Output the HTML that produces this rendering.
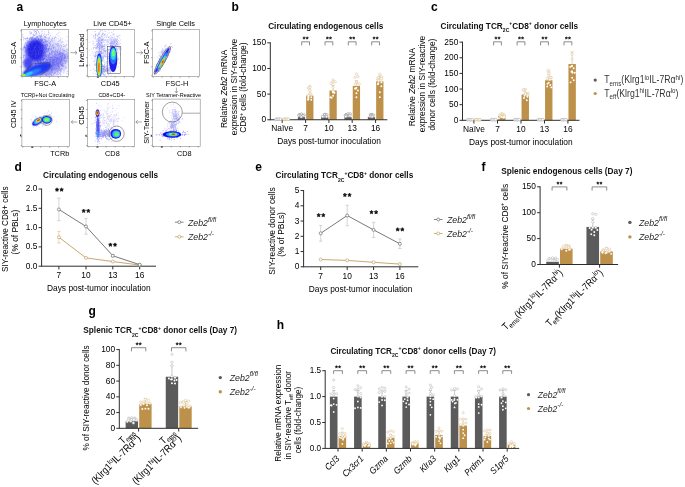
<!DOCTYPE html>
<html><head><meta charset="utf-8"><style>
html,body{margin:0;padding:0;background:#fff;}
svg{display:block;font-family:"Liberation Sans",sans-serif;will-change:transform;filter:blur(0.25px);}
</style></head><body>
<svg width="685" height="487" viewBox="0 0 685 487">
<defs><filter id="b1" x="-50%" y="-50%" width="200%" height="200%"><feGaussianBlur stdDeviation="1"/></filter><filter id="b2" x="-50%" y="-50%" width="200%" height="200%"><feGaussianBlur stdDeviation="2"/></filter><filter id="b05" x="-50%" y="-50%" width="200%" height="200%"><feGaussianBlur stdDeviation="0.5"/></filter><filter id="b3" x="-50%" y="-50%" width="200%" height="200%"><feGaussianBlur stdDeviation="3"/></filter><clipPath id="c1"><rect x="21.5" y="29.5" width="47" height="47.1"/></clipPath><clipPath id="c2"><rect x="87.4" y="29.4" width="47.1" height="47.1"/></clipPath><clipPath id="c3"><rect x="152.3" y="29.4" width="47.2" height="47.2"/></clipPath><clipPath id="c4"><rect x="21.9" y="99.3" width="47.7" height="47.2"/></clipPath><clipPath id="c5"><rect x="87.3" y="99.3" width="47.4" height="47"/></clipPath><clipPath id="c6"><rect x="152.5" y="99.1" width="47.7" height="47.2"/></clipPath></defs>
<rect width="685" height="487" fill="#fff"/>
<text font-size="12" font-weight="bold" fill="#000" transform="translate(16.4 10.9) scale(1 1)">a</text>
<g clip-path="url(#c1)">
<ellipse cx="45" cy="58" rx="22" ry="20" fill="#a0a0f4" filter="url(#b3)" opacity="0.4"/>
<ellipse cx="53" cy="64" rx="17" ry="7" fill="#6a6af0" transform="rotate(-35 53 64)" filter="url(#b3)" opacity="0.55"/>
<path d="M37.76,62.15h0.7M59.95,52.35h0.7M36.71,57.28h0.7M54.78,70.08h0.7M37.84,43.78h0.7M57.06,63.21h0.7M65.34,68.81h0.7M48.98,54.98h0.7M42.15,45.48h0.7M50.95,59.6h0.7M46.55,57.32h0.7M52.73,65.62h0.7M60.97,60.31h0.7M32.1,65.72h0.7M35.8,56.11h0.7M35.26,58.02h0.7M42.21,60.35h0.7M58.42,43.44h0.7M47.12,65.29h0.7M49.07,62.07h0.7M51.03,46.93h0.7M55.64,49.07h0.7M56.86,58.03h0.7M59.52,51.38h0.7M59.99,56.64h0.7M62.63,64.87h0.7M51.41,49.42h0.7M57.68,63.15h0.7M66.42,53.85h0.7M55.55,63.59h0.7M52.83,60.29h0.7M51.82,51.42h0.7M39.86,53.64h0.7M55.91,74.62h0.7M59.77,69.59h0.7M57.77,65.68h0.7M51.83,66.49h0.7M52.45,68.68h0.7M58.74,45.51h0.7M51.77,66.28h0.7M51.27,48.27h0.7M48.88,62.11h0.7M61.16,65.8h0.7M50.6,72.9h0.7M42.39,66.72h0.7M61.12,54.79h0.7M32.09,48.03h0.7M52.37,63.81h0.7M65.48,46.95h0.7M50.02,65.14h0.7M48.42,31.93h0.7M60.04,47.91h0.7M45.88,60.44h0.7M51.14,75.13h0.7M43.15,52.78h0.7M57.21,73.67h0.7M56.54,61.32h0.7M31.78,50.16h0.7M43.89,52.13h0.7M55.86,54.31h0.7M57.88,58.91h0.7M46.67,59.3h0.7M54.29,67.44h0.7M45.22,55.44h0.7M36.36,75.64h0.7M64.52,56.03h0.7M45.22,44.41h0.7M51.7,60.27h0.7M42.22,31.11h0.7M64.09,60.08h0.7M33.91,59.98h0.7M61.19,64.3h0.7M48.25,34.46h0.7M48.74,40.9h0.7M55.96,34.47h0.7M40.92,71.42h0.7M66.44,45.01h0.7M34.66,67.67h0.7M58.53,47.15h0.7M43.06,50.37h0.7M38.11,50.52h0.7M62.51,65.59h0.7M48.65,47.19h0.7M48.76,43.56h0.7M32.23,65.67h0.7M64.4,67.21h0.7M63.32,60.78h0.7M42.82,58.95h0.7M46.26,45.77h0.7M33.08,41.69h0.7M49.94,59.66h0.7M45.25,73.72h0.7M51.79,64.41h0.7M62.19,48.98h0.7M30.3,66.28h0.7M43.12,72.42h0.7M53.38,69.07h0.7M57.64,35.11h0.7M57.19,50.6h0.7M42.44,53.21h0.7M57.68,67.73h0.7M60.11,39.74h0.7M44.09,31.87h0.7M48.98,64.6h0.7M42.36,60.69h0.7M52.31,69.08h0.7M41.79,48.88h0.7M60.91,56.64h0.7M52.26,59.26h0.7M52.03,55.7h0.7M46.66,44.18h0.7M55.37,58.71h0.7M47.85,58.69h0.7M53.53,50.89h0.7M51.96,60.64h0.7M42.51,49.32h0.7M40.01,46.3h0.7M58.9,32.04h0.7M47.33,51.28h0.7M43.8,59.07h0.7M61.28,58.84h0.7M48.6,51.26h0.7M48.71,68.03h0.7M46.06,45.39h0.7M37.36,45.83h0.7M36.1,70.09h0.7M53.55,55.39h0.7M64.6,50.76h0.7M57.53,66.81h0.7M34.54,40.87h0.7M40.72,67.97h0.7M62.96,44.5h0.7M60.49,53.79h0.7M46.07,51.94h0.7M46.76,38h0.7M39.99,44.41h0.7M32.79,53.52h0.7M55.71,49.98h0.7M59.36,63.89h0.7M33.75,52.15h0.7M47.61,58.21h0.7M51.32,54.27h0.7M51.9,51.55h0.7M41.03,74.67h0.7M53.6,62.82h0.7M34.05,56.17h0.7M58.19,43.8h0.7M60.98,53.72h0.7M54.03,56.53h0.7M52.18,71.24h0.7M45.97,75.21h0.7M42.18,47.75h0.7M57.11,46.27h0.7M46.3,67.98h0.7M62.1,38.48h0.7M61.95,55.36h0.7M43.99,54.74h0.7M38.47,55.09h0.7M48.13,56.4h0.7M61.83,55.47h0.7M35.42,69.56h0.7M39.27,53.08h0.7M48.66,54.21h0.7M39.97,55.26h0.7M48.64,70.36h0.7M57.45,66.4h0.7M58.62,36.35h0.7M41.36,59.41h0.7M54.99,72.24h0.7M54.7,55.38h0.7M50.39,55.68h0.7M52.47,65.42h0.7M46.6,49.05h0.7M41.45,70.07h0.7M62.81,68.91h0.7M58.57,67.17h0.7M49.98,65.3h0.7M39.48,55.77h0.7M42.66,66h0.7M44.2,56.81h0.7M54,72.9h0.7M42.08,47.67h0.7M58.17,45.83h0.7M54.52,51.73h0.7M48.94,37.97h0.7M57.13,52.5h0.7M54.08,54.17h0.7M51.08,75.68h0.7M49.73,62.96h0.7M55.17,47.99h0.7M51.29,52.47h0.7M37.55,67.59h0.7M56.66,58.82h0.7M40.93,35.94h0.7M54.85,56.92h0.7M33.16,57.34h0.7M34.79,57.71h0.7M51.43,61.9h0.7M52.17,59.88h0.7M38.6,53.78h0.7M44.89,55.41h0.7M52.7,64.81h0.7M54.01,55.82h0.7M33.47,62.42h0.7M44.79,68.93h0.7M39.44,56.88h0.7M48.68,56.94h0.7M44.16,37.78h0.7M54.6,68.99h0.7M49.32,46.81h0.7M52.03,64.22h0.7M48.24,57.85h0.7M64.09,45.69h0.7M44.42,37.04h0.7M43,49.86h0.7M40.4,50.37h0.7M49.39,38.93h0.7M54.03,47.69h0.7M66.39,44.3h0.7M44.2,40.34h0.7M50.97,46.83h0.7M49.35,53.85h0.7M43.87,68.38h0.7M59.35,58.69h0.7M41,46.22h0.7M45.43,49.37h0.7M43.03,45.95h0.7M40.28,55.74h0.7M64.34,57.99h0.7M44.89,40.24h0.7M52.13,57.71h0.7M37.74,46.05h0.7M49.58,69.14h0.7M56.27,60.26h0.7M46.77,61.53h0.7M38.68,53.95h0.7M62.68,55.08h0.7M64.25,57.52h0.7M51.45,53.92h0.7M36.2,47.32h0.7M56.06,68.49h0.7M55.69,69.24h0.7M47.34,55.54h0.7M59.84,54.13h0.7M36.69,55.52h0.7M44.55,64.75h0.7M42.8,46.33h0.7M46.68,75.08h0.7M49.52,59.77h0.7M50.09,61.25h0.7M59.28,73.35h0.7M33.56,72.97h0.7M49.97,54.47h0.7M39.7,63.37h0.7M57.37,56.62h0.7M26.72,54.21h0.7M48.08,45.82h0.7M46.07,54.7h0.7M42.16,49.46h0.7M50.94,61.45h0.7M44.93,57h0.7M36.1,63.74h0.7M42.5,60.36h0.7M40.93,52.33h0.7M52.15,44.68h0.7M49.27,49.92h0.7M65.95,73.25h0.7M53,42.95h0.7M44.96,64.77h0.7M44.88,44.97h0.7M38.12,49.52h0.7M50.14,50.86h0.7M53.43,58.96h0.7M48.62,69.48h0.7M46.68,54.42h0.7M46.25,56.9h0.7M62.86,66.54h0.7M36.59,53.14h0.7M42.02,66.98h0.7M52.25,67.79h0.7M49.38,37h0.7M54.51,60.5h0.7M55.08,43.67h0.7M50.81,50.44h0.7M43.13,61.89h0.7M53.53,48.18h0.7M32.88,30.78h0.7M44.25,70.35h0.7M49.45,33.23h0.7M41.37,62.64h0.7M66.73,70.85h0.7M53.67,60.17h0.7M39.41,53.03h0.7M46.67,49.49h0.7M50.63,53.68h0.7M53.37,73.77h0.7M57.41,62.6h0.7M47.59,41.28h0.7M48.86,63.98h0.7M39.92,71.79h0.7M46.66,62.09h0.7M46.71,44.19h0.7M59.18,51.89h0.7M52.79,49.14h0.7M45.84,68.12h0.7M50.1,68.42h0.7M43.69,65.82h0.7M42.15,64.64h0.7M54.37,71.33h0.7M53.64,44.88h0.7M56.64,45.88h0.7M57.51,74.62h0.7M55.96,51.91h0.7M61.92,59.84h0.7M37.55,54.1h0.7M64.19,54.66h0.7M51.22,54.23h0.7M33.14,52.38h0.7M53.57,60.29h0.7M48.26,34.52h0.7M62.22,65.92h0.7M60.24,72.31h0.7M45.55,51.35h0.7M33.14,55.47h0.7M42.85,64.15h0.7M64.64,54.75h0.7M37.59,58.54h0.7M47.15,41.02h0.7M58.85,52.24h0.7M56.83,43.53h0.7M60.96,42.15h0.7M60.53,38.08h0.7M63.8,53.88h0.7M34.44,55.42h0.7M53.37,47.1h0.7M45.07,60.96h0.7M45.7,62.7h0.7M52.98,69.1h0.7M58,61.43h0.7M60.85,68.5h0.7M51.02,51.17h0.7M60.24,62.65h0.7M31.08,45.85h0.7M54.67,59.2h0.7M52.8,65.06h0.7M51.46,75.41h0.7M44.1,53.61h0.7M53.23,66.2h0.7M57.88,74.36h0.7M45.23,70.84h0.7M54.68,46.53h0.7M57.85,52.84h0.7M26.01,49.91h0.7M42.97,58.85h0.7M53.13,47.72h0.7M38.14,55.72h0.7M45.96,51.23h0.7M61.29,58.85h0.7M37.65,72.18h0.7M46.88,43.38h0.7M53.21,63.37h0.7M46.62,65.67h0.7M58.21,48.3h0.7M29.43,31.68h0.7M48.72,71.53h0.7M60.03,73.31h0.7M60.56,41.18h0.7M56.89,62.32h0.7M49.06,53.14h0.7M38.84,59.54h0.7M62.78,53.96h0.7M55.31,50.69h0.7M52.54,46.92h0.7M53.78,55.6h0.7M53.15,51.33h0.7M38.24,54.38h0.7M60.37,75.37h0.7M46.75,66.79h0.7M57.59,62.32h0.7M34.49,61.56h0.7M40.3,70.94h0.7M57.88,64.79h0.7M24.64,64.83h0.7M57,43.94h0.7M59.7,58.83h0.7M48.17,50.15h0.7M39.82,53.23h0.7M52.08,50.87h0.7M43.82,51.93h0.7M41.14,67.63h0.7M47.29,67.53h0.7M38.45,68.22h0.7M49.73,65.34h0.7M48.96,48.23h0.7M62.1,53.21h0.7M48.53,48.26h0.7M52.04,53.71h0.7M52.82,61.79h0.7M43.11,42.48h0.7M54.33,68.09h0.7M56.96,45.4h0.7M56.05,62.23h0.7M52.84,62.72h0.7M46.76,60.36h0.7M59.27,52.45h0.7M35.6,56.85h0.7M51.96,37.71h0.7M43.23,64.48h0.7M48.5,59.02h0.7M37.41,67.97h0.7M67.54,55.8h0.7M42.68,45.27h0.7M58.91,59.15h0.7M42.06,71.35h0.7M57.65,64.63h0.7M32.4,56.86h0.7M56.26,44.53h0.7M59.29,73.74h0.7M60.34,50.06h0.7M42.92,68.36h0.7M59.94,71.52h0.7M62.01,56.9h0.7M45.9,37.59h0.7M45.37,52.77h0.7M56.49,62.12h0.7M36.3,50.14h0.7M42.83,67.39h0.7M37.65,54.2h0.7M42.72,54.81h0.7M55.58,44.4h0.7M63.39,72.3h0.7M50.75,72.34h0.7M53.11,51.84h0.7M46.2,56.7h0.7M56.17,59.39h0.7M45.33,50.09h0.7M42.23,42.16h0.7M40.15,67.97h0.7M50.6,56.12h0.7M53.5,69.74h0.7M56.16,66.51h0.7M44.4,55.13h0.7M42.24,56.93h0.7M41.82,53.9h0.7M48.25,55.62h0.7M47.34,52.59h0.7M63.1,54.24h0.7M39.89,60.13h0.7M39.11,46.2h0.7M50.84,39.66h0.7M60.35,39.62h0.7M41.03,64.35h0.7M30.13,48.38h0.7M37.96,55.82h0.7M30.27,67.84h0.7M48.56,61.33h0.7M46.72,34.66h0.7M48.48,43.25h0.7M50.1,48.62h0.7M46.83,55.68h0.7M57.72,66.44h0.7M39.95,57.82h0.7M64.59,63.44h0.7M42.71,56.67h0.7M46.52,68.35h0.7M50.33,62.13h0.7M39.86,38.95h0.7M34.07,67.43h0.7M30.26,48.31h0.7M64.44,69.32h0.7M58.85,67.59h0.7M50.32,57.89h0.7M50.32,67.27h0.7M48.37,61.53h0.7M64.53,45.62h0.7M42.5,64.21h0.7M47.37,56.27h0.7M45.82,70.08h0.7M43.3,59.28h0.7M55.26,53.62h0.7M54.91,49.24h0.7M43.95,59.16h0.7M54.2,72.86h0.7M54.5,59.61h0.7M48.69,48.58h0.7M66.35,44.98h0.7M48.76,52.24h0.7M42.15,33.55h0.7M46.18,59.51h0.7M51.43,67.29h0.7M48.38,50.95h0.7M53.08,65.31h0.7M40.96,41.29h0.7M39.75,69.63h0.7M59.98,48.25h0.7M51.11,67.23h0.7M63.29,50.75h0.7M47.6,73.5h0.7M38.59,62.94h0.7M47.01,57.36h0.7M43.37,52.72h0.7M57,62.69h0.7M50.27,49.74h0.7M47.71,71.63h0.7M52.61,57.78h0.7M33.82,62.38h0.7M32.76,74.78h0.7M43.7,58h0.7M36.49,52.54h0.7M40.69,70.44h0.7M52.48,45.02h0.7M30.69,57.25h0.7M45.13,45.78h0.7M55.9,55.96h0.7M51.11,51.5h0.7M44.3,52.94h0.7M33.97,64.93h0.7M54.03,39.04h0.7M51.02,70.7h0.7M52.37,72.25h0.7M47.32,58.02h0.7M37,48.04h0.7M31.77,48.15h0.7M52.44,63.71h0.7M61.63,59.44h0.7M40.1,62.74h0.7M38.64,52.22h0.7M51.91,50.17h0.7M55.24,65.55h0.7M58.38,60.51h0.7M41.16,48.73h0.7M48.77,72.6h0.7M65.74,68.76h0.7M53.63,65.43h0.7M58.22,72.22h0.7M58.56,41.11h0.7M59.53,62.24h0.7M45.4,63.78h0.7M52.88,57.41h0.7M33.11,59.22h0.7M55.57,57.47h0.7M34.12,63.04h0.7M57.2,59.99h0.7M54.26,54.13h0.7M43.42,63.77h0.7M46.45,60.01h0.7M51.36,40.16h0.7M50.96,66.34h0.7M42.95,55.38h0.7M27.46,64.11h0.7M44.05,65.52h0.7M63.64,56.22h0.7M59.84,60.76h0.7M47.96,54.91h0.7M41.49,72.12h0.7M58.8,46.94h0.7M58.42,49.97h0.7M34.95,71.19h0.7M37.2,71.03h0.7M51.99,67.92h0.7M55.12,70.7h0.7M53.48,64.36h0.7M52.49,70.05h0.7M46.09,69.17h0.7M65.07,57.3h0.7M54.4,52.35h0.7M47.12,60.87h0.7M46.58,48.26h0.7M49.7,60.1h0.7M53.23,65.81h0.7M32.26,73.54h0.7M48.28,49.51h0.7M46.29,62.87h0.7M58.7,53.97h0.7M51.58,40.45h0.7M51.69,56.77h0.7M45.69,67.74h0.7M42.18,74.81h0.7M46.66,57.55h0.7M44.2,63.02h0.7M55.53,59.6h0.7M47.9,56.42h0.7M45.99,68.68h0.7M44.8,56.38h0.7M47.91,49.77h0.7M47.73,41.9h0.7M54.08,63.95h0.7M47.01,75.06h0.7M41.81,64.09h0.7M54.77,52.13h0.7M47.6,67.77h0.7M50.62,61.1h0.7M63.94,60.38h0.7M33.35,49.95h0.7M58.32,56.59h0.7M39.26,36.35h0.7M53.22,74.44h0.7M37.53,34.27h0.7M54.95,52.08h0.7M47.08,54.47h0.7M41.03,62.82h0.7M59.14,61.99h0.7M44.47,69.37h0.7M48.91,64.35h0.7M40.71,65.19h0.7M57.39,72.1h0.7M50.28,62.85h0.7M44.29,67.66h0.7M57.72,69.81h0.7M46.18,44.68h0.7M49.34,55.74h0.7M42.61,64.6h0.7M59.39,62.31h0.7M61.02,62.33h0.7M40.35,51.64h0.7M46.51,65.48h0.7M59.13,59.5h0.7M60.04,49.07h0.7M48.89,74.29h0.7M54.4,69.39h0.7M31.37,39.87h0.7M41.48,68.95h0.7M66.07,51.31h0.7M40.3,47.01h0.7M41.22,64.05h0.7M57.14,50.6h0.7M52.35,56.35h0.7M57.82,67.86h0.7M46.6,67.7h0.7M55.64,57.1h0.7M52.55,65.41h0.7M46.89,50.72h0.7M62.53,58.08h0.7M44.19,63.03h0.7M35.52,58.64h0.7M36.64,53.42h0.7M32.5,50.27h0.7M58.84,56.07h0.7M43.85,74.09h0.7M44.88,42.22h0.7M57.51,70.92h0.7M37.14,58.83h0.7M44.4,64.6h0.7M49.92,44.41h0.7M50.62,66.3h0.7M47.16,64.13h0.7M44.83,57.51h0.7M53.48,59.61h0.7M62.51,68.29h0.7M58.32,65.85h0.7M51.59,45.53h0.7M52.27,55.34h0.7M49.71,71.09h0.7M52.87,47.49h0.7M48.38,49.81h0.7M48.1,48.44h0.7M41.52,74.05h0.7M60.33,40.75h0.7M40.48,53.27h0.7M46.27,43.19h0.7M58.76,40.73h0.7M56.87,65.58h0.7M46.48,51.03h0.7M50.66,59.68h0.7M29.56,44.6h0.7M55.27,56.91h0.7M46.02,47.4h0.7M43.19,49.87h0.7M65.07,63.24h0.7M52.17,60.19h0.7M46.36,75.38h0.7M55.06,57.78h0.7M48.88,60.23h0.7M38.92,54.66h0.7M43.98,64.76h0.7M55.96,38.04h0.7M47.9,68.72h0.7M37.42,45.37h0.7M59.86,56.7h0.7M45.67,45.02h0.7M51.75,52.1h0.7M52.16,62.67h0.7M56.96,54.61h0.7M44.95,58.41h0.7M49.12,59.94h0.7M44.9,55.53h0.7M44.35,51.76h0.7M51.61,70.5h0.7M44.84,64.37h0.7M53.46,59.27h0.7M56.72,52.09h0.7M55.59,61.3h0.7M39.7,59.12h0.7M53.52,47.66h0.7M61.83,62.93h0.7M42.29,45.19h0.7M32.25,65.28h0.7M49.03,51.24h0.7M56,59.12h0.7M52.89,60.94h0.7M39.42,72.26h0.7M45.58,70.29h0.7M56.85,58.5h0.7M51.44,57.59h0.7M32.04,54.58h0.7M54.28,40.69h0.7M35.46,69.73h0.7M58.01,41.4h0.7M54.59,57.55h0.7M59.66,54.58h0.7M47.89,49.97h0.7M51.84,56.71h0.7M43.64,54.33h0.7M42.66,64.81h0.7M39.93,41.26h0.7M40.59,69.78h0.7M45.08,65.07h0.7M57.29,52.56h0.7M57.5,63.54h0.7M49.64,50.43h0.7M49.46,44.18h0.7M47.35,51.78h0.7M54.37,61.77h0.7M43.74,67.43h0.7M61.8,58.77h0.7M42.77,63.53h0.7M26,51.73h0.7M42.78,74.63h0.7M26.79,69.99h0.7M51.94,69.06h0.7M48.29,51.38h0.7M47.8,74.36h0.7M58.35,54.87h0.7M53.82,67.45h0.7M55.65,57.59h0.7M43.54,49.97h0.7M45.73,52.03h0.7M34.43,42.65h0.7M58.72,45.85h0.7M37.05,57.57h0.7M64.37,71.78h0.7M45.94,46.77h0.7M44.72,48.11h0.7M44.59,63.27h0.7M39.48,49.52h0.7M47.45,57.73h0.7M42.42,49.41h0.7M38.81,49.82h0.7M55.22,55.37h0.7M49.35,48.5h0.7M33.58,70.76h0.7M42.71,58.45h0.7M57.77,44.57h0.7M67.38,50.11h0.7M53.53,45.42h0.7M53.66,57.84h0.7M60.8,45.36h0.7M38.11,61.88h0.7M54.39,52.57h0.7M47.34,73.53h0.7M61.39,64.24h0.7M52.69,45.57h0.7M60.52,43.08h0.7M29.3,50.72h0.7M51.66,51.96h0.7M46.94,61.78h0.7M58.97,60.32h0.7M62.52,42.35h0.7M54.69,62.69h0.7M35.12,71.78h0.7M34.03,42.1h0.7M53.78,72.93h0.7M61.52,45.58h0.7M54.85,73.45h0.7M48.4,58.82h0.7M45.36,66.1h0.7M44.46,51.53h0.7M37.71,47.78h0.7M52.21,63.22h0.7M46.12,46.43h0.7M53.42,61.96h0.7M62.79,52.53h0.7M45.87,63.67h0.7M65.33,57.45h0.7M49.18,47.64h0.7M46.21,68.47h0.7M58.57,70.35h0.7M33.51,67.28h0.7M40.71,64.58h0.7M26.18,56.93h0.7M41.12,72.11h0.7M51.23,72.41h0.7M45.1,47.14h0.7M59.06,53.59h0.7M49.43,43.1h0.7M46.55,59.28h0.7M42.9,62.35h0.7M26.83,67.92h0.7M45.89,74.34h0.7M46.48,50.73h0.7M45.48,61.09h0.7M56.03,52.88h0.7M41.97,62.81h0.7M58.35,38.63h0.7M39.42,50.54h0.7M67.28,71.7h0.7M58.08,63.51h0.7M38.71,70.5h0.7M45.54,49.18h0.7M64.01,60.27h0.7M40.7,60.01h0.7M41.5,60.1h0.7M43.49,44.81h0.7M60.02,57.49h0.7M56.87,43.97h0.7M60.18,62.98h0.7M38.11,67.34h0.7M52.42,68.23h0.7M56.24,66.62h0.7M49.79,53.41h0.7M57.22,71.79h0.7M38.21,45.36h0.7M47.93,39.11h0.7M58.21,66.45h0.7M59.19,59.55h0.7M37.96,54.96h0.7M63.51,70.49h0.7M46.21,70.41h0.7M59.18,68.05h0.7M52.95,61.44h0.7M41.68,57.3h0.7M51.29,49.84h0.7M47.14,59.89h0.7M52.21,69.81h0.7M39.64,53.64h0.7M52.78,53.84h0.7M53.41,52.84h0.7M61.99,55.51h0.7M38.55,66.4h0.7M66.89,36.61h0.7M48.74,58.84h0.7M60.5,74.72h0.7M48.46,40.71h0.7M56.82,69.27h0.7M54.76,58.95h0.7M37.92,41.3h0.7M59.94,61.26h0.7M56.85,62.04h0.7M67.11,73.92h0.7M44.5,69.22h0.7M38.16,39.09h0.7M62.23,53.3h0.7M28.36,57.86h0.7M43.35,63.71h0.7M49.48,49.52h0.7M42.85,66.6h0.7M40.68,59.5h0.7" stroke="#5a5af0" stroke-width="0.7" opacity="0.5"/>
<path d="M58.65,68.71h0.7M43.48,59.2h0.7M59.24,63.09h0.7M60.16,61.87h0.7M53.06,60.15h0.7M49.04,65.35h0.7M55.52,67.87h0.7M57.52,53.11h0.7M61.76,57.71h0.7M55.61,51.29h0.7M57.04,51.62h0.7M67.23,50.04h0.7M59.91,70.44h0.7M41.71,72.16h0.7M45.82,65.89h0.7M51.58,69.27h0.7M54.72,65h0.7M56.56,51.01h0.7M67.11,52.68h0.7M40.58,68.71h0.7M66.38,60.91h0.7M50.83,66.24h0.7M61.26,64.72h0.7M57.99,66.67h0.7M46.75,64.01h0.7M63.92,60.95h0.7M57.64,64.61h0.7M60.25,63.8h0.7M67.5,57.18h0.7M61.98,55.37h0.7M44.76,55.25h0.7M59.79,59.55h0.7M55.26,50.89h0.7M50.6,62.32h0.7M62.76,49.35h0.7M65.05,66.41h0.7M49.04,73.04h0.7M41.78,65.34h0.7M61.56,65.62h0.7M43.56,66.04h0.7M50.2,72.98h0.7M53.29,67.48h0.7M65.1,62.88h0.7M60.79,60.78h0.7M67.41,57h0.7M44.14,66.97h0.7M64.3,57.07h0.7M54.06,64.9h0.7M61.69,60.89h0.7M57.53,68.4h0.7M64.67,58.44h0.7M48.64,75.05h0.7M62.48,56.96h0.7M45.42,67.98h0.7M49.57,61.33h0.7M65.14,56.32h0.7M63.84,50.48h0.7M58.7,68.66h0.7M56.89,56.84h0.7M47.05,64.56h0.7M57.6,65.2h0.7M59.73,64.12h0.7M63.7,57.37h0.7M54.25,62.2h0.7M53.95,58.81h0.7M45.1,69.87h0.7M53.69,67.3h0.7M51.54,65.74h0.7M56.56,58.66h0.7M55.76,57.63h0.7M55.01,67.71h0.7M59.51,59.51h0.7M51.69,69.37h0.7M66.62,40.9h0.7M65.72,56.54h0.7M52.8,75.12h0.7M50.51,64.25h0.7M61.25,57.77h0.7M56.95,58.07h0.7M47.54,68h0.7M50.99,73.89h0.7M62.39,66.29h0.7M39.6,60.42h0.7M35.91,73.66h0.7M46.41,70.92h0.7M39.84,64.59h0.7M57.39,58.51h0.7M64.28,61.23h0.7M55.59,54.62h0.7M55.13,64.39h0.7M57.16,60.98h0.7M53.09,60.46h0.7M45.91,56.4h0.7M46.67,71.73h0.7M57.54,51.83h0.7M56.22,71.16h0.7M62,60.42h0.7M64.17,55.41h0.7M58.4,70.25h0.7M54.41,62.58h0.7M61.64,58.21h0.7M60.86,69.79h0.7M57.78,55.02h0.7M48.88,66.76h0.7M49.33,65.05h0.7M50.69,69.91h0.7M62.37,64.25h0.7M57.86,62.56h0.7M47.74,64.31h0.7M59.99,53.78h0.7M38.87,71.74h0.7M62.64,66.49h0.7M47.42,62.11h0.7M56.52,60.61h0.7M56.74,58.2h0.7M56.13,58.23h0.7M65.23,57.21h0.7M59.65,56.63h0.7M44.16,70.3h0.7M58.92,66.75h0.7M64.12,56.01h0.7M52.85,57.95h0.7M56.4,62.96h0.7M49.48,59.73h0.7M64.12,50.46h0.7M66.54,49.25h0.7M57.27,52.36h0.7M48.6,57.58h0.7M48.49,64.02h0.7M67.24,60.74h0.7M52.15,62.81h0.7M44.87,62.58h0.7M40.53,71.37h0.7M58.75,55.18h0.7M55.71,54.91h0.7M46.09,65.49h0.7M61.84,54.51h0.7M61.35,55.92h0.7M40.92,59.95h0.7M49.24,60.62h0.7M64.79,58.41h0.7M44.8,74.88h0.7M51.94,46.7h0.7M47.98,68.94h0.7M40.59,68.11h0.7M60.96,59.87h0.7M61.43,61.78h0.7M66.45,67.7h0.7M55.33,65.73h0.7M58.29,59.27h0.7M59.24,61.12h0.7M63.55,58.48h0.7M57.77,63.55h0.7M61.29,58.94h0.7M37.05,69.51h0.7M44.27,61.43h0.7M45.65,58.17h0.7M56.54,58.1h0.7M67.09,56.37h0.7M44.72,68.32h0.7M54.27,58.81h0.7M49.74,59.49h0.7M50.61,67.24h0.7M56.58,68.77h0.7M36.09,70.81h0.7M57.02,70.09h0.7M67.14,58.57h0.7M60.65,57.03h0.7M55.18,57.86h0.7M54.95,64.71h0.7M51.89,65.2h0.7M48.37,58.98h0.7M45.87,73.01h0.7M58.33,65.12h0.7M54.8,62.44h0.7M56.86,58.98h0.7M55.88,55.34h0.7M51.8,65.83h0.7M64.96,55.08h0.7M56.82,64.21h0.7M56.02,60.61h0.7M49.78,73.41h0.7M53.56,60.11h0.7M50.79,57.1h0.7M36.55,64.26h0.7M54.63,54.38h0.7M52.88,56.44h0.7M38.99,69.62h0.7M47.28,63.36h0.7M52.91,68.92h0.7M56.11,68.78h0.7M45.55,75.36h0.7M44.26,65.17h0.7M53.79,56.41h0.7M40.63,69.76h0.7M48.02,56.97h0.7M60.78,53.01h0.7M49.39,64.59h0.7M58.54,66.03h0.7M37.5,74.36h0.7M63.03,57.87h0.7M51.27,57.86h0.7M56.42,58.07h0.7M53.13,56.88h0.7M52.04,63.21h0.7M45.87,74.7h0.7M50.34,57.43h0.7M53.33,63.97h0.7M49.24,59.73h0.7M49.28,57.72h0.7M45.75,65.03h0.7M62.68,53.75h0.7M52.07,63.94h0.7M54.54,54h0.7M56.67,63.82h0.7M58.97,54.26h0.7M63.37,65.59h0.7M54.19,61.45h0.7M47.77,65.03h0.7M41.08,57.09h0.7M47.3,61.24h0.7M48.76,63.57h0.7M51.3,65.21h0.7M53.41,60.9h0.7M49.62,65.12h0.7M52.04,63.27h0.7M66.99,55.07h0.7M45.84,55.87h0.7M34.59,58.22h0.7M65.35,61.46h0.7M50.32,62.41h0.7M60.51,61.62h0.7M40.01,70.93h0.7M48.79,58.64h0.7M49.89,65.29h0.7M49.01,63.09h0.7M54.69,68.45h0.7M53.67,60.03h0.7M50.13,66.99h0.7M43.19,60.4h0.7M58.4,69.32h0.7M49.86,66.56h0.7M56.89,68.17h0.7M55.24,54.07h0.7M46.03,65.19h0.7M58.58,66.06h0.7M50.55,60.58h0.7M52.46,64.61h0.7M57.18,58.61h0.7M50.47,71.54h0.7M40.73,60.77h0.7M63.1,63.41h0.7M59.47,54.16h0.7M49.84,58.94h0.7M43.62,54.94h0.7M51.8,72.67h0.7M50.78,52.95h0.7M59.99,52.66h0.7M59.02,58.1h0.7M51.62,63.3h0.7M42,66.46h0.7M56.83,71.61h0.7M51.23,66.65h0.7M62.28,64.42h0.7M53.7,64.17h0.7M43.52,71.64h0.7M52.67,64.67h0.7M49.44,63.18h0.7M65.93,60.22h0.7M54.08,61.84h0.7M56.39,60.61h0.7M60.9,62.58h0.7M54.44,52.78h0.7M51.59,57.92h0.7M57.93,58.23h0.7M57.33,59.89h0.7M66.71,62.17h0.7M52.26,54.86h0.7M60.91,70.12h0.7M49.27,65.62h0.7M61.11,59.2h0.7M57.83,49.78h0.7M53.83,62.14h0.7M52.74,59.62h0.7M56.55,63.78h0.7M59.06,54.49h0.7M55.63,69.08h0.7M64.09,58.16h0.7M40.7,62.16h0.7M60.59,60.64h0.7M54.01,65.91h0.7M67.32,58.2h0.7M51.83,66.57h0.7M50.67,64.74h0.7M39.43,58.59h0.7M47.23,68.75h0.7M50.34,68.73h0.7M51.53,66.41h0.7M55.62,70.53h0.7M52.09,64.33h0.7M50,74.67h0.7M43.79,64.11h0.7M51.33,70.9h0.7M48.26,70.47h0.7M58.21,58.76h0.7M65.05,67.81h0.7M66.13,49.27h0.7M56.42,58.81h0.7M52.72,60.51h0.7M57.4,55.32h0.7M45.33,69.27h0.7M61.47,65.06h0.7M58.41,54.54h0.7M48.77,68.55h0.7M59.63,63.41h0.7M59.8,45.18h0.7M51.92,67.72h0.7M51.37,74.94h0.7M56.41,64.88h0.7M54.73,64.57h0.7M60.25,61.86h0.7M38.68,62h0.7M57.01,65.67h0.7M52.91,62.68h0.7M66.05,58.49h0.7M48.15,68.04h0.7M53.88,63.4h0.7M56.47,64.77h0.7M56.31,63.4h0.7M55.12,60.9h0.7M51.58,66.31h0.7M63.62,65.83h0.7M53.13,69.96h0.7M52.44,64.83h0.7M46.87,71.6h0.7M46.43,74.35h0.7M49.34,67.65h0.7M61.15,52.85h0.7M60.63,71.28h0.7M44.45,70.44h0.7M40.23,74.73h0.7M50.9,58.32h0.7M49.36,73.81h0.7M57.48,53.19h0.7M59.48,53.5h0.7M50.12,68.13h0.7M56.07,64.74h0.7M62.51,53.15h0.7M60.83,60.01h0.7M44.2,74.63h0.7M59.74,50.58h0.7M55.62,67.77h0.7M61.75,55.31h0.7M52.7,62.03h0.7M45.77,69.38h0.7M52.53,58.24h0.7M63.07,46.59h0.7M64.03,58.63h0.7M47.6,65.54h0.7M60.86,68.58h0.7M61.15,65.2h0.7M64.45,56.24h0.7M55.64,61.44h0.7M61.61,53.66h0.7M55.39,66.66h0.7M50.13,57.41h0.7M44.6,72.37h0.7M63.26,59.75h0.7M63.66,46.62h0.7M41.2,72.61h0.7M60.13,53.49h0.7M58.45,61.82h0.7M49.14,61.2h0.7M52.49,63.46h0.7M60.51,56.55h0.7M44.41,63.05h0.7M53.08,66.63h0.7M47.29,65.34h0.7M60.34,60.02h0.7M66.54,67.02h0.7M35.06,65.58h0.7M49.25,66.92h0.7M66.87,57.99h0.7M46.76,59.11h0.7M57.45,58.8h0.7M43.65,62.41h0.7M60.02,56.82h0.7M56.42,60.42h0.7M47.45,64.4h0.7M49.76,65.23h0.7M51.08,68.49h0.7M47.53,68.65h0.7M57.69,63.75h0.7M56.37,58.2h0.7M50.73,62.43h0.7M54.11,65.03h0.7M43.47,67.02h0.7M34.7,75.22h0.7M47.01,67.13h0.7M61.44,65.27h0.7M51.25,57.41h0.7M51.57,67.35h0.7M61.95,41.52h0.7M41.6,66.48h0.7M54.33,65.66h0.7M67.02,56.53h0.7M63.7,51.26h0.7M42.42,60.11h0.7M49.21,69.44h0.7M59.39,70.42h0.7M48.09,59.92h0.7M52.06,50.81h0.7M61.11,58.95h0.7M43.22,72.2h0.7M58.55,66.1h0.7M49.42,61.55h0.7M52.71,61.72h0.7M47.17,72.03h0.7M58.82,53.8h0.7M45.19,61.11h0.7M47.1,62.17h0.7M54.62,65.18h0.7M62.51,49.87h0.7M43.13,62h0.7M54.63,65.76h0.7M45.34,67.38h0.7M40.42,62.23h0.7M50.56,68.81h0.7M44.54,57.19h0.7M43.38,66.83h0.7M65.27,46.17h0.7M65.62,58.91h0.7M56.11,63.05h0.7M62.94,54.71h0.7M47.44,68.96h0.7M55.35,63.22h0.7M48.95,64.76h0.7M61.74,56.74h0.7M54.15,65.28h0.7M49.85,63.21h0.7M36.78,70.14h0.7M57.87,63.71h0.7M41.84,66.81h0.7M62.26,63.4h0.7M44.8,66.42h0.7M54.37,68.55h0.7M58.7,61.18h0.7M59.34,68.11h0.7M36.23,72.53h0.7M55.71,60.89h0.7M61.57,58.85h0.7M65.98,61.52h0.7M65.5,51.45h0.7M66.71,53.54h0.7M60.72,65.58h0.7M47.99,70.81h0.7M67.42,52.78h0.7M57.15,59.87h0.7M57.03,58.64h0.7M61.42,60.08h0.7M50.9,69.96h0.7M59,58.21h0.7M46.44,62.25h0.7M60.18,55.53h0.7M58.87,54.43h0.7M40.48,59.76h0.7M47.94,62.51h0.7M64.73,57.4h0.7M48.16,64.48h0.7M53.45,62.57h0.7M58.12,66.81h0.7M42.77,71.64h0.7M58.08,64.77h0.7M51.95,59.18h0.7M64.94,61.94h0.7M51.67,70.92h0.7M53.19,47.42h0.7M54.45,56.83h0.7M58.27,58.41h0.7M60.77,64.97h0.7M65.69,60.33h0.7M49.07,64.98h0.7M53.66,60.39h0.7M48.62,66.82h0.7M58.62,58.16h0.7M48.63,73.05h0.7M55.04,72.78h0.7M58.21,61.34h0.7M65.7,55.14h0.7M45.4,69.7h0.7M39.49,75.04h0.7M57.55,63.58h0.7M60.6,69.63h0.7M55.21,59.09h0.7M61,56.84h0.7M52.33,63.49h0.7M49.87,65.38h0.7M51.52,61.2h0.7M47.27,65.26h0.7M31.9,75.76h0.7M51.9,59.87h0.7M60.01,69.74h0.7M54.19,59.22h0.7M55.28,57.03h0.7M36.75,69.5h0.7M58.54,57.66h0.7M60.79,61.7h0.7M33.7,67.17h0.7M43.07,61.85h0.7M56.14,54.97h0.7M48.18,74.45h0.7M38.56,64.79h0.7M64.11,55.5h0.7M53.84,65.47h0.7M47.59,64.5h0.7M54.25,69.18h0.7M49.04,57.03h0.7M44.52,71.54h0.7M37.84,64.29h0.7M43.42,59.28h0.7M61.5,69.34h0.7M66.54,54.68h0.7M55.95,64.93h0.7M53.25,59.92h0.7M52.48,61.47h0.7M59.92,64.47h0.7M42.35,67.02h0.7M48.98,75.66h0.7M60.61,58.78h0.7M48.63,71.69h0.7M40.39,61.72h0.7M51.42,71.57h0.7M51.65,60.99h0.7M51.31,69.46h0.7M44.8,64.74h0.7M60.04,61.62h0.7M54.43,64.7h0.7M51.26,51.75h0.7M52.4,59.54h0.7M52.83,62.7h0.7M58.65,63.98h0.7" stroke="#4a4af0" stroke-width="0.7" opacity="0.5"/>
<path d="M25.88,52.1h0.7M34.05,45.68h0.7M42.77,50.59h0.7M34.08,66.22h0.7M32.54,38.63h0.7M26.38,45.26h0.7M40.61,57.67h0.7M43.97,66.67h0.7M48.06,56.01h0.7M45.52,56.2h0.7M32.29,57.83h0.7M36.74,48.54h0.7M50.42,57.45h0.7M32.95,49.78h0.7M52.9,48.24h0.7M41.58,56.13h0.7M40.01,55.85h0.7M32.98,46.28h0.7M35.25,47.24h0.7M42.12,64.57h0.7M30.09,55.49h0.7M29.44,44.19h0.7M34.7,51.49h0.7M46.22,48.03h0.7M31.88,56.71h0.7M32.15,37.47h0.7M39.87,54.32h0.7M30.53,58.15h0.7M39.04,40.15h0.7M48.81,52.94h0.7M28.33,54.63h0.7M37.29,59.36h0.7M26.81,59.99h0.7M43.07,56.84h0.7M40.72,62.49h0.7M41.48,51.66h0.7M30.44,60.63h0.7M43.35,53.21h0.7M37.46,57.08h0.7M43.87,67.76h0.7M33.02,54.39h0.7M41.53,50.3h0.7M36.83,41.84h0.7M36.05,51.18h0.7M45.42,53.11h0.7M61.11,46.71h0.7M34.46,49.96h0.7M30.58,64.22h0.7M40.92,38.81h0.7M37.1,60.93h0.7M26.27,51.79h0.7M34.65,71.72h0.7M39.28,46.7h0.7M32.35,67.68h0.7M33.03,71.26h0.7M25.25,48.68h0.7M34.64,44h0.7M34.83,56.74h0.7M31.62,37.35h0.7M45.88,63.82h0.7M31.44,53.21h0.7M26.89,45.37h0.7M51.68,38.9h0.7M36.48,40.66h0.7M23.21,39.79h0.7M38.25,38.5h0.7M32.14,57.06h0.7M35.2,38.46h0.7M46.95,51.52h0.7M46.3,40.86h0.7M48.3,38.13h0.7M23.95,46.54h0.7M33.69,52.81h0.7M32.34,56.21h0.7M45.79,44.46h0.7M26.57,46.75h0.7M42.13,57.85h0.7M33.86,41.42h0.7M36.19,59.2h0.7M31.25,62.25h0.7M37.92,53.05h0.7M31.87,62.83h0.7M36.62,36.82h0.7M42.12,46.58h0.7M43.96,51.93h0.7M31.87,51.96h0.7M32.83,42.86h0.7M36.46,57.99h0.7M36.82,49.61h0.7M32.38,55.61h0.7M38.24,59.13h0.7M38.9,69.82h0.7M25.17,49.91h0.7M40.09,58.57h0.7M25.44,39.26h0.7M36.01,59.99h0.7M44.09,36.56h0.7M37.23,61.07h0.7M36.5,41h0.7M31.22,38.23h0.7M44.76,48.03h0.7M33.26,42.42h0.7M35.31,42.11h0.7M29.38,50.01h0.7M34.67,54.55h0.7M37.34,61.15h0.7M35.98,52.76h0.7M37.9,43.03h0.7M44.71,45.25h0.7M25.09,61.74h0.7M40.92,45.23h0.7M43.05,59.16h0.7M41.27,39.71h0.7M37.55,40.93h0.7M31.96,45.26h0.7M30.3,54.86h0.7M30.71,56.03h0.7M37.5,44.86h0.7M37.49,56.63h0.7M44.37,48.02h0.7M48.57,55.58h0.7M45.1,38.08h0.7M28.8,61.37h0.7M34.7,54.6h0.7M44.78,37.25h0.7M39.48,67.98h0.7M41.94,51.19h0.7M40.27,50.45h0.7M41.76,62.21h0.7M34.69,55.6h0.7M38.44,57.12h0.7M42.2,40.63h0.7M44.52,58.2h0.7M28.56,47.78h0.7M25.99,47.75h0.7M38.6,39.86h0.7M30.83,42.4h0.7M31.38,43.34h0.7M28.74,55.53h0.7M34.77,42.9h0.7M43.25,45.24h0.7M42.6,39.14h0.7M46.21,46.31h0.7M29.6,54.07h0.7M26.86,40.56h0.7M37.96,45.99h0.7M39.1,51.64h0.7M38.06,51.55h0.7M41.3,50.36h0.7M44.06,58.93h0.7M22.43,34.46h0.7M47.25,46.34h0.7M37.59,49.33h0.7M38.21,70.35h0.7M31.29,50.94h0.7M36.31,40.56h0.7M30.12,47.9h0.7M36.16,53.84h0.7M22.46,36.17h0.7M47.88,48.72h0.7M42.07,46.53h0.7M31.27,69.48h0.7M27.58,42.12h0.7M41.03,50.51h0.7M24.73,51.61h0.7M41.4,36.54h0.7M32.33,57.46h0.7M31.41,50.56h0.7M29.84,42.14h0.7M32.73,54.98h0.7M28.76,58.17h0.7M42.1,58.03h0.7M47.06,45.61h0.7M35.9,59.37h0.7M45.16,58.82h0.7M33.09,45.91h0.7M27,46.4h0.7M29.96,45.91h0.7M33.59,57.84h0.7M42.27,49.88h0.7M28.23,49.84h0.7M39.29,58.05h0.7M37.72,57.62h0.7M31.64,56.19h0.7M41.43,47.13h0.7M30.93,61.45h0.7M29.27,56.52h0.7M34.36,47.18h0.7M34.47,46.34h0.7M35.98,66.4h0.7M46.45,49.12h0.7M39.56,58.52h0.7M33.27,66.9h0.7M36.49,55.92h0.7M29.55,40.22h0.7M29.25,44.51h0.7M43.5,47.46h0.7M42.44,46.54h0.7M29.55,51.83h0.7M33.46,35.34h0.7M36.58,60.97h0.7M34.78,39.49h0.7M30.93,39.38h0.7M34.54,41.78h0.7M35.46,51.89h0.7M45.54,39.89h0.7M39.28,47.03h0.7M39.79,41.95h0.7M33.87,56.41h0.7M34.04,51.51h0.7M39.32,51.4h0.7M34.55,54.95h0.7M45.53,61.78h0.7M30.09,57.17h0.7M22.91,37.57h0.7M39.06,55.14h0.7M45.81,34.82h0.7M43.81,45.41h0.7M32.96,54.32h0.7M46.09,41.84h0.7M24.25,44.92h0.7M35.42,61.09h0.7M38.79,47.61h0.7M32.68,46.13h0.7M43.01,35.34h0.7M31.37,42.42h0.7M44.1,51.42h0.7M31.52,57.04h0.7M49.9,59.49h0.7M27.1,48.41h0.7M44.17,33.97h0.7M27.65,46.54h0.7M39.87,42.88h0.7M37.26,48.83h0.7M38.45,39.44h0.7M37.35,59.04h0.7M39.56,35.8h0.7M24.01,47.64h0.7M29.77,33.71h0.7M32.1,43.08h0.7M35.34,53.63h0.7M37.47,51.86h0.7M39.81,49.24h0.7M33,47.09h0.7M44.44,47.66h0.7M41.8,65.11h0.7M48.33,30.86h0.7M37.18,59.01h0.7M32.97,43.79h0.7M26.14,44.1h0.7M36.13,33.23h0.7M36.03,42.62h0.7M36.26,40.41h0.7M36.69,51.61h0.7M31.26,44.11h0.7M42.75,55.82h0.7M30.66,54.07h0.7M28.03,45.47h0.7M40.87,45.73h0.7M40.22,44.36h0.7M38.22,48.8h0.7M29.27,68.98h0.7M30.21,38.03h0.7M37.01,54.4h0.7M38.5,49.17h0.7M39.36,58.52h0.7M40.45,37.69h0.7M48.17,49.84h0.7M35.07,52.67h0.7M49.98,45.31h0.7M31.72,41.3h0.7M37.41,56.07h0.7M38.83,51.64h0.7M43.66,45.53h0.7M32.37,41.04h0.7M37.79,36.1h0.7M49.47,48.35h0.7M31.91,39.19h0.7M39.87,58.87h0.7M32.16,51.68h0.7M38.15,58.84h0.7M40.4,61.25h0.7M26.21,73.59h0.7M32.6,40.06h0.7M29.61,53.62h0.7M41.51,71.98h0.7M44.69,43.26h0.7M33.71,45.94h0.7M31.91,48.6h0.7M31.81,60.69h0.7M38.45,55.75h0.7M35.01,39.71h0.7M39.17,46.61h0.7M50.04,61.22h0.7M27.65,41.26h0.7M32.28,48.23h0.7M44.11,48.53h0.7M39.31,47.27h0.7M34.6,61.22h0.7M36.21,67.83h0.7M35.81,53.64h0.7M38.9,56.12h0.7M49.6,44.05h0.7M32.43,41.69h0.7M48.77,54.37h0.7M39.29,54.28h0.7M23.2,57.11h0.7M37.03,52.95h0.7M36.75,49.36h0.7M35.62,45.07h0.7M34.55,55.85h0.7M40.65,40.58h0.7M39.71,52.93h0.7M32.5,65.35h0.7M37.37,48.97h0.7M27.02,69.72h0.7M37.67,52.98h0.7M34.54,68.78h0.7M35.08,64.34h0.7M43.52,58.96h0.7M40.58,60.57h0.7M35.32,31.54h0.7M57.75,33.21h0.7M40.4,54.44h0.7M31.16,32.33h0.7M35.49,65.38h0.7M35.38,50.12h0.7M36.73,50.55h0.7M38.18,70.72h0.7M30.01,33.79h0.7M42.05,45.49h0.7M32.62,37.62h0.7M34.9,46.29h0.7M39.13,46.61h0.7M25.94,54.62h0.7M35.56,33.17h0.7M33.75,57h0.7M35.7,47.23h0.7M40.27,44.41h0.7M31.27,54.88h0.7M35.02,44.58h0.7M37.71,52.5h0.7M42.65,59.22h0.7M36.76,49.93h0.7M29.62,51.98h0.7M33.64,57.68h0.7M41.72,55.93h0.7M35.75,53.14h0.7M46.63,65.47h0.7M40.48,36.43h0.7M36.49,54.27h0.7M46.58,48.64h0.7M35.34,45.06h0.7M38.25,39.24h0.7M40.1,53.24h0.7M45.57,47.46h0.7M38.42,52h0.7M36.02,41.61h0.7M32.24,50.67h0.7M39.58,59.5h0.7M31.97,52.54h0.7M40.44,57.92h0.7M37.9,52.11h0.7M33.76,50.48h0.7M34.82,34.7h0.7M39.7,58.13h0.7M33.67,51.78h0.7M37.28,48h0.7M46.45,48.56h0.7M38.45,49.7h0.7M50.14,35.62h0.7M37.62,38.33h0.7M31.21,41.72h0.7M41.56,40.57h0.7M29.18,47.3h0.7M29.55,41.37h0.7M47.21,44.31h0.7M30.63,62.59h0.7M36.82,60.26h0.7M24.87,47.64h0.7M39.54,52.23h0.7M40,61.41h0.7M40.29,60.12h0.7M41.44,43.57h0.7M37.56,61.97h0.7M29.63,55.1h0.7M40.62,62.27h0.7M24.59,71.6h0.7M25.4,50.3h0.7M53.9,38.19h0.7M51.9,52.75h0.7M49.59,63.28h0.7M37.3,43.28h0.7M34.05,38.69h0.7M26.61,53.73h0.7M26.13,53.55h0.7M35.75,49.1h0.7M28.99,39.21h0.7M41.8,41.71h0.7M32.21,48.71h0.7M40.97,68.03h0.7M49.91,57.37h0.7M40.92,56.21h0.7M34.76,48.46h0.7M24.16,55.27h0.7M32.75,53.72h0.7M51.85,58.01h0.7M44.25,58.17h0.7M32.32,44.45h0.7M26.04,45.13h0.7M37.37,56.51h0.7M40.24,47.18h0.7M28.31,50.71h0.7M38.4,32.52h0.7M36.85,37.42h0.7M33.03,49h0.7M29.34,45.7h0.7M36.25,41.26h0.7M40.95,56.14h0.7M40.01,40.8h0.7M34.83,47.32h0.7M36.98,56.96h0.7M32.49,50.44h0.7M41.91,47.29h0.7M41.18,50.04h0.7M26.32,49.87h0.7M37.18,46.48h0.7M49.54,46.75h0.7M25.94,48.82h0.7M34.61,54.79h0.7M53.81,51.47h0.7M41.87,43.78h0.7M29.61,43.88h0.7M34.79,46.18h0.7M36.11,44.42h0.7M27.78,43.2h0.7M41.58,39.85h0.7M41.6,64.89h0.7M29.67,58.24h0.7M42.12,56.03h0.7M30.66,66.03h0.7M23.69,61.85h0.7M37.98,40.97h0.7M36.88,36.47h0.7M40.35,55.07h0.7M44.7,62.81h0.7M31.31,54.65h0.7M42.78,60.7h0.7M37.67,65.78h0.7M35.7,34.61h0.7M32.9,47.7h0.7M38.02,46.5h0.7M35.08,60.23h0.7M31.47,38.41h0.7M32.76,58.36h0.7M44.82,41.32h0.7M40.87,62.05h0.7M41.68,40.22h0.7M40.33,45.65h0.7M32.55,67.48h0.7M35.85,54.68h0.7M44.64,64.94h0.7M38.05,44.63h0.7M35.76,44.04h0.7M35.26,49.1h0.7M25.67,43.04h0.7M26.16,49.61h0.7M41.72,56.71h0.7M37.41,41.49h0.7M35.63,37.84h0.7M40.08,36.22h0.7M31.62,65.66h0.7M39.01,41.33h0.7M34.59,40.87h0.7M30.49,46.33h0.7M30.16,51.84h0.7M43.6,42.36h0.7M29.57,42.83h0.7M31.78,51.24h0.7M31.41,42.2h0.7M31.33,58.97h0.7M42.9,59.52h0.7M37.37,41.58h0.7M45.71,70.07h0.7M31.52,44.61h0.7M43.71,56.31h0.7M38.88,68.89h0.7M34.83,42.91h0.7M33.51,52.11h0.7M37.43,61.36h0.7M41.47,43.62h0.7M41.24,48.39h0.7M46.66,60.41h0.7M31.92,55.08h0.7M26.95,54.24h0.7M36.62,54.19h0.7M27.61,42.44h0.7M32.16,48.03h0.7M40.76,42.68h0.7M41.47,57.85h0.7M27.14,55.92h0.7M36.8,56.6h0.7M37.29,61.39h0.7M31.02,69.59h0.7M43.77,39.49h0.7M25.12,59.3h0.7M25.07,42.95h0.7M39.42,48.72h0.7M37.08,30.57h0.7M30.7,54.62h0.7M50.6,53.77h0.7M36.25,51.14h0.7M43.14,55.75h0.7M29.76,32.16h0.7M34.33,46.43h0.7M48.83,42.24h0.7M41.28,31.91h0.7M41.44,38.27h0.7M36.16,48.08h0.7M36.66,49.95h0.7M27.89,55.27h0.7M29.64,49.47h0.7M29.91,49.6h0.7M35.09,48.11h0.7M30.3,60.82h0.7M34.65,50.48h0.7M24.77,47.96h0.7M23.39,47.41h0.7M26.99,38.26h0.7M23.46,62.93h0.7M50.92,48.57h0.7M41.57,45.3h0.7M28.19,66.14h0.7M40.29,39.3h0.7M35,49.49h0.7M33.74,48.87h0.7M31.09,48.94h0.7M32.8,46.7h0.7M30.38,63.64h0.7M32.72,47.7h0.7M37.46,49.82h0.7M26.55,57.42h0.7M27.12,43.62h0.7M38.58,47.69h0.7M30.68,49.65h0.7M29.65,44.12h0.7M27.35,38.28h0.7M28.66,49.9h0.7M32.02,48.11h0.7M41.94,45.34h0.7M22.59,50.14h0.7M33.77,39.29h0.7M25.02,56.67h0.7M35.26,49.1h0.7M26.4,44.84h0.7M27.68,63.14h0.7M35.22,31.28h0.7M33.3,62.79h0.7M30.07,46.92h0.7M35.11,53.69h0.7M38.9,43.8h0.7M32.94,55.67h0.7M28.34,46.34h0.7M37.9,47.27h0.7M28.66,64.26h0.7M36.69,46.85h0.7M42.07,48.99h0.7M35.77,41.94h0.7M49.71,57.58h0.7M51.39,69.87h0.7M22.93,55.28h0.7M35.9,44.46h0.7M40.23,50.83h0.7M33.35,47.31h0.7M42.15,53.93h0.7M41.66,52.55h0.7M32.57,45.28h0.7M37.38,43.23h0.7M31.3,56.88h0.7M37.28,47.71h0.7M37.17,46.28h0.7M44.76,47.9h0.7M36,39.18h0.7M30.88,37.97h0.7M38.79,54.69h0.7M40.15,46.58h0.7M36.1,52.94h0.7M33.19,34.57h0.7M49.54,54.16h0.7M42.16,56.95h0.7M30.68,49.4h0.7M32.36,59.36h0.7M37.11,43.25h0.7M38.09,74.52h0.7M35.69,54.19h0.7M50.51,41.44h0.7M37.91,60.77h0.7M40.31,44.34h0.7M35.65,50.7h0.7M42.57,58.94h0.7M30.75,52.41h0.7M32.99,53.07h0.7M25.34,51.72h0.7M39.71,60.92h0.7M46.81,49.81h0.7M31.84,61.8h0.7M38.59,52.76h0.7M39.95,36.84h0.7M29.62,41.86h0.7M28.12,63.83h0.7M22.99,48.41h0.7M35.38,41.92h0.7M38.59,42.34h0.7M25.96,38.46h0.7M45.33,46.33h0.7M37.28,55.07h0.7M38.9,43.24h0.7M41.59,59.39h0.7M26.02,57.31h0.7M39.58,59.74h0.7M40.14,48.49h0.7M30.64,55.8h0.7M38.67,53.66h0.7M32.54,60.45h0.7M42.47,59.69h0.7M31.84,55.4h0.7M42.81,38.05h0.7M30.89,52.35h0.7M25.9,49.21h0.7M36.67,36.77h0.7M40.11,50.04h0.7M44.8,49.72h0.7M32.56,49.62h0.7M38.98,33.6h0.7M33.94,56.65h0.7M41.37,53.41h0.7M28.41,49.22h0.7M39.17,50.22h0.7M37.18,66.9h0.7M49.59,46.05h0.7M29.36,50.36h0.7M45.3,40.77h0.7M29.41,38.89h0.7M43.91,45.81h0.7M35.61,64.64h0.7M40.55,47.27h0.7M27.12,60.12h0.7M36.71,47.21h0.7M37.82,43.71h0.7M37.55,52.03h0.7M28.53,52.38h0.7M40.32,63.09h0.7M42.33,69h0.7M42.3,49.93h0.7M38.64,50.48h0.7M29.61,48.17h0.7M37.29,40.92h0.7M35.81,55.33h0.7M47.88,49.22h0.7M33.91,44.23h0.7M24.98,55.28h0.7M32.59,44.21h0.7M28.47,63.28h0.7M45.52,54.34h0.7M33.7,39.56h0.7M30.74,63.42h0.7M34.05,35.47h0.7M45.82,55.67h0.7M33.38,53.34h0.7M40.6,46.13h0.7M30.14,51.65h0.7M40.43,54.83h0.7M28.41,41.65h0.7M35.94,44.83h0.7M34.03,66.77h0.7M24.67,47.73h0.7M28.9,52.25h0.7M49.14,53.56h0.7M45.17,41.98h0.7M38.08,62.4h0.7M33.58,43.37h0.7M25.51,63.22h0.7M35.23,62.33h0.7M37.44,50.56h0.7M41.75,52.05h0.7M44.3,44.92h0.7M32.07,50.51h0.7M32.55,48.32h0.7M41.76,53.31h0.7M35.43,65.7h0.7M26.79,44.96h0.7M34.76,58.84h0.7M40.35,54.86h0.7M46.41,49.41h0.7M30.89,60.85h0.7M46.83,41.27h0.7M31.97,49.18h0.7M38.54,51.1h0.7M41.22,35.82h0.7M32.56,36.28h0.7M41.88,59.13h0.7M37.78,50.13h0.7M35.38,49.25h0.7M30.42,54.37h0.7M40.45,43.89h0.7M38.92,63.06h0.7M47.04,70.67h0.7M55.05,37.01h0.7M32.75,46.15h0.7M39.36,63.59h0.7M25.85,55.25h0.7M38.3,61.3h0.7M39.52,44.15h0.7M37.97,45.67h0.7M34.97,47.74h0.7M36.1,53.48h0.7M38.81,60.45h0.7M40.86,34.74h0.7M40.52,46.5h0.7M42.81,46.37h0.7M30.38,37.54h0.7M35.21,57.24h0.7M30.11,53.22h0.7M34.13,32.11h0.7M34.83,47.58h0.7M39.52,35.3h0.7M40.5,49.41h0.7M42.42,46.31h0.7M31.57,47.94h0.7M35.93,59.42h0.7M31.04,47.31h0.7M29.03,46.88h0.7M37.95,62.74h0.7M35.2,52.22h0.7M36.4,59.4h0.7M34.05,47.72h0.7M38.17,47.65h0.7M37.59,49.29h0.7M33.75,57.61h0.7M34.61,46.54h0.7M39.45,66.17h0.7M38.07,48.5h0.7M41.2,54.76h0.7M29.2,60.36h0.7M45.28,45.45h0.7M33.56,55.54h0.7M38.42,51.31h0.7M45.12,36.32h0.7M32.63,54.65h0.7M39.3,45.06h0.7M23.88,60.57h0.7M42.46,51.29h0.7M38.39,59.31h0.7M52.2,41h0.7M36.29,32.55h0.7M27.8,60.32h0.7M34.1,30.66h0.7M27.03,63.16h0.7M39.42,61.08h0.7M46.94,45.22h0.7M36.2,44.33h0.7M29.76,58.3h0.7M37.75,43.76h0.7M24.79,46.3h0.7M33.97,43.59h0.7M41.37,54.96h0.7M39.12,60.83h0.7M33.86,49.54h0.7M50.31,42.23h0.7M37.93,56.74h0.7M37.71,49.4h0.7M39.57,57.26h0.7M37.34,47.42h0.7M24.4,47.3h0.7M30.72,43.05h0.7M29.55,38.48h0.7M30.48,50.72h0.7M27.44,37.99h0.7M44.23,57.41h0.7M32.37,52.61h0.7M34.75,53.01h0.7M39.98,39.67h0.7M23.07,57.14h0.7M39.32,42.03h0.7M45.11,52.48h0.7M37.03,62.22h0.7M46.17,59.43h0.7M38.65,45.43h0.7M37.31,46.37h0.7M41.59,59.08h0.7M36.5,58.97h0.7M27.9,61.1h0.7M38.31,31.52h0.7M36.39,56.97h0.7M39.49,42.05h0.7M42.22,57.04h0.7M36.72,62.72h0.7M32.57,53.01h0.7M36.12,31.04h0.7M38.78,55.09h0.7M31.82,50.01h0.7M43.28,47.72h0.7M40.18,52.68h0.7M37.07,56.7h0.7M24.8,38.36h0.7M28.97,56.9h0.7M43.88,47.2h0.7M25.68,62.5h0.7M32.83,41.6h0.7M38.09,43.76h0.7M40.13,53.87h0.7M29.19,65.39h0.7M35.93,53.51h0.7M45.74,60.2h0.7M34.04,54.32h0.7M40.84,63.68h0.7M22.53,49.58h0.7M43.67,46.7h0.7M47.47,59.48h0.7M42.76,42.08h0.7M24.02,46.89h0.7M35.11,51.43h0.7M43.57,47.28h0.7M28.33,65.81h0.7M42.26,44.6h0.7M27.72,48.85h0.7M39.47,48.2h0.7M34.61,44.19h0.7M30.51,64.04h0.7M49.81,59.3h0.7M41.36,40.06h0.7M33.43,52.34h0.7M46.36,41.82h0.7M33.55,56.73h0.7M42.12,48.27h0.7M38.4,55.73h0.7M32.67,34.15h0.7M34.82,63.49h0.7M27.57,42.24h0.7M42.35,63.38h0.7M38.63,52.56h0.7M23.89,38.39h0.7M30.92,33.58h0.7M42.4,39.45h0.7M52.53,38.97h0.7M38.06,45.66h0.7M34.2,59.55h0.7M28.5,47.1h0.7M43.76,41.83h0.7M54.63,37.35h0.7M41.55,51.98h0.7M39.24,49.58h0.7M32.84,53.78h0.7M32.07,41.41h0.7M48.29,32.67h0.7M40.5,44.83h0.7M29.37,54.51h0.7M45.09,49.28h0.7M44.94,50.81h0.7M37.31,51.81h0.7M44.46,39.54h0.7M22.62,62.14h0.7M36.43,52.81h0.7M43.59,53.66h0.7M35.51,63.27h0.7M43.82,48.06h0.7M37.73,46.16h0.7M35.17,43.92h0.7M41.43,41.15h0.7" stroke="#2c2cf0" stroke-width="0.7" opacity="0.6"/>
<ellipse cx="35.5" cy="50.5" rx="9.5" ry="11.5" fill="#2828ea" filter="url(#b2)"/>
<ellipse cx="35" cy="50.5" rx="7" ry="8.5" fill="#2020e4" filter="url(#b1)" opacity="0.95"/>
<path d="M41.6,56.31h0.7M28.65,38.87h0.7M34.99,55.07h0.7M34.77,41.75h0.7M33.02,59.11h0.7M28.59,56.79h0.7M38.12,53.39h0.7M39.33,47.22h0.7M34.91,61.31h0.7M33.57,47.98h0.7M28.5,47.69h0.7M39.2,58h0.7M38.75,54.3h0.7M38.43,52.53h0.7M40.54,49.66h0.7M40.86,50.11h0.7M27.58,42.88h0.7M34.56,47.81h0.7M29.49,45.98h0.7M36.43,52.93h0.7M39.74,45.4h0.7M37.4,56.68h0.7M37.28,61.02h0.7M33.18,50.49h0.7M36.4,48.14h0.7M35.27,51.9h0.7M35.35,47.56h0.7M33.32,50.07h0.7M27.95,51.62h0.7M30.12,49.06h0.7M30.16,51.11h0.7M33.66,48.99h0.7M31.88,51.2h0.7M43.35,39.88h0.7M38.04,51.85h0.7M33.62,43.02h0.7M43.26,51.62h0.7M40.42,48.33h0.7M31.77,56.87h0.7M39.13,48.75h0.7M34.46,54.17h0.7M31.61,45.62h0.7M35.31,56.44h0.7M39.73,51.63h0.7M42.1,49.65h0.7M33.12,64.28h0.7M33.11,54.05h0.7M38.24,51.24h0.7M36.64,54.62h0.7M38.24,47.13h0.7M35.56,58.67h0.7M39.1,48.02h0.7M35.85,44.76h0.7M29.26,47.47h0.7M43.37,46.92h0.7M25.92,49.91h0.7M32.21,54.89h0.7M41.59,48.62h0.7M36.14,45.34h0.7M41.43,46.31h0.7M35.7,64.47h0.7M31.03,51.56h0.7M35.31,53.29h0.7M37.84,59.27h0.7M37.95,54.09h0.7M29.57,52.94h0.7M29.09,57.68h0.7M35.3,56.25h0.7M33.16,51.93h0.7M35.99,53.83h0.7M35.07,47.16h0.7M33.76,46.8h0.7M31.09,43.5h0.7M28.46,61.61h0.7M31.97,44.12h0.7M40.39,52.26h0.7M34.93,57.23h0.7M44.62,45.63h0.7M42.49,53.94h0.7M41.23,47.49h0.7M43.74,57.38h0.7M22.94,58.02h0.7M42.12,42.5h0.7M37.21,49.56h0.7M36.66,45.57h0.7M38.72,54.9h0.7M35.08,50.19h0.7M27.18,53.77h0.7M29.37,50.72h0.7M31.68,65.83h0.7M35.59,59.57h0.7M35.4,50.34h0.7M39.16,50.4h0.7M46.95,49.53h0.7M43.49,43.62h0.7M31.15,54.4h0.7M28.86,62.1h0.7M38.17,51.1h0.7M44.22,47.56h0.7M31.92,35.36h0.7M26.11,48.81h0.7M25.44,55.03h0.7M40.36,53.23h0.7M27.63,45.54h0.7M28.82,54.74h0.7M40.6,49.24h0.7M35.89,51.91h0.7M39.17,45.29h0.7M30.88,55.2h0.7M38.08,53.42h0.7M35.84,55.09h0.7M37.89,47.01h0.7M43.96,56.98h0.7M34.39,49.99h0.7M32.05,42.36h0.7M30.41,42.14h0.7M32.33,52.47h0.7M35.25,42.1h0.7M34.59,46.84h0.7M30.16,57.1h0.7" stroke="#ffffff" stroke-width="0.7" opacity="0.2"/>
<ellipse cx="28" cy="63.5" rx="4.5" ry="6" fill="#3535ec" filter="url(#b1)" opacity="0.85"/>
<ellipse cx="37" cy="69.8" rx="15" ry="5.4" fill="#1e34f4" transform="rotate(-20 37 69.8)" filter="url(#b1)"/>
<ellipse cx="33" cy="72.5" rx="9" ry="2.6" fill="#2f86ff" transform="rotate(-22 33 72.5)" filter="url(#b1)"/>
<ellipse cx="28" cy="74.3" rx="5" ry="1.7" fill="#30c8ff" transform="rotate(-25 28 74.3)" filter="url(#b05)"/>
<ellipse cx="23.5" cy="75.1" rx="2.2" ry="1.4" fill="#70ff40" filter="url(#b05)"/>
<ellipse cx="22.6" cy="75.8" rx="0.9" ry="0.7" fill="#ffd000"/>
</g>
<path d="M24.6,73.4 L27.5,68.5 L32.4,64 L49,62.6 L50,67.2 L46,71.5 L40.5,75" fill="none" stroke="#333" stroke-width="0.5"/>
<rect x="21.5" y="29.5" width="47" height="47.1" fill="none" stroke="#8a8a8a" stroke-width="0.6"/>
<path d="M22.3,76.6v1.1M21.5,75.8h-1.1M31.3,76.6v1.1M21.5,66.8h-1.1M40.3,76.6v1.1M21.5,57.8h-1.1M49.3,76.6v1.1M21.5,48.8h-1.1M58.3,76.6v1.1M21.5,39.8h-1.1M67.3,76.6v1.1M21.5,30.8h-1.1" stroke="#555" stroke-width="0.6"/>
<g clip-path="url(#c2)">
<path d="M109.45,63.8h0.7M98.71,37.72h0.7M106.63,68.8h0.7M106.98,34.56h0.7M98.87,47.72h0.7M110.74,48.23h0.7M101.72,45.68h0.7M105.38,39.6h0.7M104.22,51.51h0.7M115.47,47.7h0.7M110.85,36.26h0.7M110.11,50.28h0.7M100.53,48.09h0.7M110.41,44.58h0.7M111.27,66.29h0.7M115.36,67.45h0.7M95.51,52.41h0.7M99.56,59.53h0.7M104.74,51.05h0.7M107.41,41.45h0.7M104.9,39.94h0.7M118.54,43.04h0.7M94.1,38.57h0.7M109.72,57.5h0.7M106.18,40.88h0.7M116.96,36.35h0.7M98.37,54.15h0.7M97.41,51.57h0.7M110.92,47.62h0.7M107.05,48.89h0.7M95.86,48.35h0.7M92.95,41.79h0.7M105.68,64.19h0.7M94.84,42.18h0.7M105.8,54.64h0.7M94.73,70.4h0.7M98.61,61.29h0.7M102.86,53.25h0.7M115.76,56.82h0.7M105.15,36.54h0.7M99.73,31.54h0.7M113.08,44.15h0.7M110.04,38.66h0.7M100.26,54.37h0.7M106.97,42.99h0.7M115.48,57.16h0.7M105.2,34.37h0.7M105.19,44.64h0.7M103.71,57.92h0.7M100.25,51.55h0.7M109.76,52.61h0.7M103.79,34.3h0.7M92.84,44.89h0.7M108.76,49.47h0.7M110.98,36.97h0.7M95.74,55.09h0.7M107.51,39.64h0.7M98.5,45.94h0.7M104.11,46.29h0.7M113.29,50.37h0.7M99.34,43.32h0.7M89.35,64.93h0.7M107.11,44.41h0.7M106.57,50.99h0.7M111.52,50.07h0.7M112.91,66.66h0.7M101.96,42.83h0.7M97.98,45.44h0.7M99.07,48.33h0.7M106.25,54.61h0.7M96.08,61.11h0.7M101.95,46.86h0.7M111.81,48.66h0.7M114.96,55.92h0.7M108.99,64.87h0.7M103.8,66.53h0.7M103.2,51.23h0.7M99.39,54.64h0.7M108.75,42.14h0.7M95.16,47.7h0.7M107.02,46.25h0.7M97.29,39.51h0.7M99.99,65.29h0.7M95.14,45.52h0.7M115.84,56.59h0.7M110.49,46.37h0.7M106.17,50.99h0.7M115.51,57.79h0.7M104.48,34.94h0.7M102.99,46.34h0.7M99.35,37.77h0.7M97.09,46.7h0.7M99.92,52.98h0.7M111.12,51.87h0.7M104.2,66.73h0.7M108.61,30.45h0.7M99.05,50.41h0.7M97.92,57.14h0.7M110.88,55.01h0.7M92.89,48.97h0.7M113.4,34.75h0.7M95.75,33.53h0.7M100.66,30.74h0.7M104.46,74.74h0.7M96.71,58.89h0.7M104.79,47.91h0.7M101.68,57.58h0.7M100.96,52.25h0.7M101.31,46.4h0.7M98.55,75.21h0.7M103.63,34.65h0.7M117.6,66.86h0.7M102.64,40.19h0.7M98.88,62.78h0.7M101.73,39.52h0.7M109.89,44.81h0.7M103.64,71.18h0.7M110.04,62.9h0.7M106.93,63.4h0.7M102.83,59.54h0.7M111.31,43.1h0.7M95.05,54.42h0.7M103.17,55.29h0.7M99.82,54.35h0.7M116.47,52.69h0.7M114.03,40.53h0.7M112.2,49.68h0.7M113.29,52.01h0.7M102.41,39.53h0.7M112.77,48.72h0.7M108.99,53.77h0.7M89.77,55.24h0.7M101.42,52.71h0.7M101.82,47.3h0.7M106.72,59.26h0.7M99.26,45.25h0.7M116.94,36.72h0.7M113.19,49.75h0.7M117.13,60.46h0.7M104.93,51.9h0.7M107.81,32.97h0.7M98.25,38.71h0.7M105.97,37.64h0.7M103.19,59.11h0.7M101.08,64.09h0.7M106.07,45.07h0.7M111.64,53.92h0.7M102.02,41h0.7M103.7,52.14h0.7M111.96,51.24h0.7M99.71,32.16h0.7M105.79,52.72h0.7M111.9,41.72h0.7M95,58.01h0.7M102.81,33.51h0.7M115.56,58.62h0.7M104.45,51.36h0.7M98.83,59.85h0.7M101,42.65h0.7M101.95,34.45h0.7M111.17,67.93h0.7M101.9,40.41h0.7M89.03,42.56h0.7M110.84,45.78h0.7M119.36,37.92h0.7M104.29,46.26h0.7M98.23,61.27h0.7M94.81,35.43h0.7M101.49,42.32h0.7M111.87,41.73h0.7M107.51,42.47h0.7M112.91,47.81h0.7M108.92,40.35h0.7M110.19,54.09h0.7M107.8,61.46h0.7M106.64,37.55h0.7M105.11,50.06h0.7M95.83,55.36h0.7M114.22,50.92h0.7M104.81,53.54h0.7M111.65,41.59h0.7M110.65,39.17h0.7M107.72,54.2h0.7M95.1,55.87h0.7M100.88,40.56h0.7M97.83,52.97h0.7M98.51,48.62h0.7M96.46,44.87h0.7M116.7,52.95h0.7M93.2,36.83h0.7M110.8,47.52h0.7M103.52,48.64h0.7M99.26,34.4h0.7M105.65,56.14h0.7M101.66,48.43h0.7M95.01,64.33h0.7M96.21,48.01h0.7M96.43,58.81h0.7M95.24,37.3h0.7M111.74,33.01h0.7M100.24,54.45h0.7M108.19,44.51h0.7M109.31,52.8h0.7M101.37,42.98h0.7M106.68,39.78h0.7M101.58,38.84h0.7M104.95,56.01h0.7M92.94,48.29h0.7M106.14,65.9h0.7M98.84,62.95h0.7M100.9,53.79h0.7M105.53,51.21h0.7M101.61,36.3h0.7M114.32,65.3h0.7M103.18,45.95h0.7M102.51,32.08h0.7M96.26,52.89h0.7M110.58,45.27h0.7M97.48,35.12h0.7M99.71,56.27h0.7M104.31,30.95h0.7M95.9,51.85h0.7M106.05,68.89h0.7M113.97,50.15h0.7M99.24,50.37h0.7M96.08,39.77h0.7M110.95,55.22h0.7M110.38,66.51h0.7M101.1,57.48h0.7M104.47,51.68h0.7M105.56,54.35h0.7M94.35,31.63h0.7M104.62,53.75h0.7M100.61,46.72h0.7M94.2,59.39h0.7M107.15,65.81h0.7M101.14,46.78h0.7M104.44,64.21h0.7M107.89,52.6h0.7M92.55,37.73h0.7M93.75,45.73h0.7M109.93,48.58h0.7M97.57,72.15h0.7M96.33,64.41h0.7M112.03,51.02h0.7M113.33,35.01h0.7M100.11,44.35h0.7M106.55,45.81h0.7M115.82,43.43h0.7M102.37,33.51h0.7M107.29,57.39h0.7M98.74,32.97h0.7M94.34,61.82h0.7M109.44,51.25h0.7M109.23,53.72h0.7M107.55,56.31h0.7M111.85,59.45h0.7M99.25,51.07h0.7M94.14,65.08h0.7M94.44,56.33h0.7M98.49,38.22h0.7M97.76,44.04h0.7M106.61,61.28h0.7M101.9,58.12h0.7M110.01,72.46h0.7M99.82,51.62h0.7M108.76,49.65h0.7M108.3,40h0.7M101.48,40.47h0.7M99.52,37.35h0.7M103.27,33.34h0.7M99.98,54.86h0.7M93.03,35.35h0.7M101.13,35.19h0.7M97.01,70.27h0.7M106.23,42.46h0.7M107.81,41.78h0.7M110.24,47.78h0.7M90.05,70.51h0.7M107.49,58.45h0.7M100.07,41.19h0.7M102.67,69.22h0.7M95.22,35.14h0.7M114.23,34.15h0.7M112.16,46.09h0.7M101.48,34.25h0.7M114.02,44.64h0.7M94.63,55.49h0.7M102.97,54.07h0.7M101.13,52.27h0.7M107.08,48.13h0.7M92.6,53.76h0.7M113.5,53.13h0.7M110.4,57.23h0.7M101.84,60.5h0.7M102.29,35.96h0.7M95.21,60.19h0.7M108.84,55.4h0.7M109.35,46.81h0.7M99.72,40.64h0.7M108.26,56.28h0.7M110.01,43.64h0.7M95.28,31.63h0.7M101.8,68.65h0.7M110.38,48.25h0.7M107.22,57.58h0.7M104.36,50.65h0.7M105.42,41h0.7M96.03,41.23h0.7M100.93,42.95h0.7M104.22,42.58h0.7M109.42,43.53h0.7M103.91,56.38h0.7M94.15,60.91h0.7M111.1,32.29h0.7M103.32,39.1h0.7M101.42,57.22h0.7M90.97,57.94h0.7M106.93,47.87h0.7M119.28,42.07h0.7M93.57,52.48h0.7M104.97,40.46h0.7M113.55,57.65h0.7M88.72,50.22h0.7M108.4,61.12h0.7M113.19,62.9h0.7M103.7,45.03h0.7M102.59,54.17h0.7M97.49,35.27h0.7M119.87,59.3h0.7M111.37,45.2h0.7M98.06,42.88h0.7M98.46,40.52h0.7M93.15,55.27h0.7M106.29,57.31h0.7M104.43,39.46h0.7M118,59.07h0.7M107.88,58.41h0.7M101.88,56.61h0.7M98.78,59.92h0.7M110.44,57.87h0.7M106.69,49.53h0.7M105.54,56.5h0.7M100.84,56.36h0.7M109.32,32.97h0.7M92.14,51.46h0.7M101.61,38.39h0.7M95.36,34.79h0.7M92.57,43.71h0.7M103.07,65.84h0.7M112.49,45.87h0.7M106.59,45h0.7M103.09,38.71h0.7M104.01,35.41h0.7M98.84,46.02h0.7M103.38,72.01h0.7M97.88,34.76h0.7M108.36,54.64h0.7M108.62,46.39h0.7M93.49,43.64h0.7M95.12,47h0.7M115.99,44.1h0.7M104.6,60.69h0.7M94.7,56.8h0.7M101.53,39.68h0.7M101.37,36.08h0.7M109.79,48.95h0.7M100.68,53.55h0.7M112.97,40.95h0.7M109.08,37.09h0.7M91.32,34.84h0.7M110.18,52.17h0.7M99.51,55.79h0.7M101.84,49.8h0.7M104.45,55.65h0.7M97.66,66.45h0.7M105.77,68.38h0.7M108.39,62.27h0.7M102.11,30.33h0.7M119.13,63.21h0.7M108.63,36.78h0.7M110.02,35.43h0.7M107.45,58.52h0.7M107.36,35.91h0.7M108.07,49.88h0.7M107.63,62.67h0.7M99.28,37.73h0.7M89.22,65.51h0.7M98.24,62.95h0.7M106.37,61.83h0.7M105.47,53.32h0.7M102.21,53.07h0.7M96.53,59.85h0.7M92.11,41.51h0.7M101.1,48.72h0.7M102.99,35.95h0.7M98.75,46.62h0.7M98.84,58.99h0.7M102.64,53.03h0.7M95.79,58.45h0.7M113.39,33.64h0.7M95.45,57.12h0.7M115.73,55.12h0.7M102.57,38.9h0.7M98.51,49.66h0.7M106.07,35.85h0.7" stroke="#6a6af0" stroke-width="0.7" opacity="0.5"/>
<path d="M98.38,33.26h0.7M100.78,62.6h0.7M103.03,58.26h0.7M101.78,61.47h0.7M98.82,34.86h0.7M94.83,56.49h0.7M100.74,49.66h0.7M93.24,47.6h0.7M99.32,40.27h0.7M97.42,70.96h0.7M103.14,57.76h0.7M100.31,45.61h0.7M98.51,56.8h0.7M97.19,47.75h0.7M103.96,37.32h0.7M97.36,67.47h0.7M100.52,51.72h0.7M97.22,36.11h0.7M100.75,44.53h0.7M101.93,55.83h0.7M100.29,54.12h0.7M95.81,51.72h0.7M100.81,49.22h0.7M90.89,48.94h0.7M99.79,38.96h0.7M99.66,62.69h0.7M99.25,62.9h0.7M98.02,42.79h0.7M100.21,41.21h0.7M94.87,53.3h0.7M99.49,55.77h0.7M97.12,45.67h0.7M100.83,45.16h0.7M98.9,52.25h0.7M97.44,52.37h0.7M95.47,54.84h0.7M106.82,56.32h0.7M98.4,34.04h0.7M96.32,47.15h0.7M97.38,54.86h0.7M99.89,57.52h0.7M98.88,57.84h0.7M103.23,41.13h0.7M99.21,48.7h0.7M99.26,61.23h0.7M98.57,41.23h0.7M95.85,35.54h0.7M99.23,58.78h0.7M99.64,42.13h0.7M99.05,41.09h0.7M102.27,51.22h0.7M103.49,56.55h0.7M101.23,40.86h0.7M100.9,46.32h0.7M98.04,51.87h0.7M103.95,55.05h0.7M105.03,56.77h0.7M95.86,45.12h0.7M104.69,56.02h0.7M99.82,45.94h0.7M100.06,54.52h0.7M98.49,49.91h0.7M100.38,39.94h0.7M98.95,43.39h0.7M97.94,41.85h0.7M97.97,42.57h0.7M104.33,48.88h0.7M100.63,42.86h0.7M100.02,54.84h0.7M103.93,67.33h0.7M98.49,67.83h0.7M99.89,62.44h0.7M99.51,57.71h0.7M99.45,37.68h0.7M101.24,47.79h0.7M99.38,53.21h0.7M101.07,74.63h0.7M96.89,46.01h0.7M97.22,62.79h0.7M98.96,45.14h0.7M100.98,51.59h0.7M101.16,36.66h0.7M99.77,56.5h0.7M98.17,62.7h0.7M99.48,43.36h0.7M98.62,55.82h0.7M102.48,46.18h0.7M101.23,47.52h0.7M97.32,41.36h0.7M101.67,46.45h0.7M100.12,66.45h0.7M102.35,46.86h0.7M98.98,53.3h0.7M94.15,57.03h0.7M97.8,57.67h0.7M97.81,47.39h0.7M101.85,56.86h0.7M104.46,46.28h0.7M98.09,64.93h0.7M101.13,39.64h0.7M98.45,54.59h0.7M98.41,36.87h0.7M99.81,54.84h0.7M103.04,61.09h0.7M101.77,42.85h0.7M96.5,40.94h0.7M101.17,59.08h0.7M94.72,55.81h0.7M101.99,64.95h0.7M101.65,59.63h0.7M100.27,47.74h0.7M99.27,50.09h0.7M96.62,49.4h0.7M102.29,47.4h0.7M102.91,42.17h0.7M100.77,43h0.7M102.44,57.26h0.7M102.17,58.19h0.7M100.96,61.07h0.7M99.97,55.32h0.7M93.56,61.59h0.7M99.42,60.21h0.7M98.84,52.19h0.7M97.42,48.11h0.7M95.47,52.76h0.7M98.57,44.15h0.7M97.64,41.07h0.7M99.52,49.26h0.7M98.78,63.2h0.7M96.73,46.24h0.7M96.09,47.73h0.7M99.08,32.99h0.7M100.47,30.71h0.7M98.14,47.47h0.7M96.1,63.08h0.7M99.98,37.61h0.7M100.53,53.82h0.7M98.04,42.17h0.7M102.03,72.09h0.7M100.17,70.42h0.7M95,34.49h0.7M99.76,44.04h0.7M100.19,67.77h0.7M96.79,54.28h0.7M99.44,37.77h0.7M98.92,39.28h0.7M98.86,64.21h0.7M102.31,60.3h0.7M99.89,45.23h0.7M105.04,50.3h0.7M100.7,60.24h0.7M99.16,54.73h0.7M99.45,53.51h0.7M101.94,37.33h0.7M99.79,45.04h0.7M99,53.65h0.7M104.06,44.49h0.7M97.28,43.11h0.7M99.98,51.53h0.7M94.82,34.36h0.7M102.08,48.89h0.7M94.39,47.48h0.7M98.67,64.33h0.7M97.34,44.36h0.7M98.37,53.38h0.7M100.77,56.01h0.7M104.11,48.8h0.7M103.7,50.83h0.7M101.57,59.15h0.7M104.27,40.63h0.7M105.45,31.54h0.7M99.07,48.33h0.7M99.41,63.38h0.7M94.95,38.77h0.7M102,66.48h0.7M96.54,44.34h0.7M101.2,55.82h0.7M95.33,48.65h0.7M97.98,38.34h0.7M98.93,41.86h0.7M95.97,71.39h0.7M97.97,39.88h0.7M104.39,46.17h0.7M95.25,63.65h0.7M97.17,45.6h0.7M98.85,51.65h0.7M104.61,34.18h0.7M95.14,65.15h0.7M101.4,57.32h0.7M103.03,49.42h0.7M101.46,60.65h0.7M103.45,52.34h0.7M96.43,43.24h0.7M98.99,46.38h0.7M102.64,39.69h0.7M100.92,45.94h0.7M100.06,64.27h0.7M102.36,44.52h0.7M99.62,59.7h0.7M99.67,60.32h0.7M103.14,46.54h0.7M101.12,69.15h0.7M101.32,43.62h0.7M103.21,50.08h0.7M98.91,54.2h0.7M101.62,45.07h0.7M100.55,56.31h0.7M101.82,49.76h0.7M97.63,51.2h0.7M100.66,52.34h0.7M102.07,53.61h0.7M95.96,55.88h0.7M102.05,34.13h0.7M101.54,58.86h0.7M100.81,55.9h0.7M97.61,55.87h0.7M100.96,42.13h0.7M101.31,60.29h0.7M99.16,69.51h0.7M100.63,53.28h0.7M101.42,53.01h0.7M99.71,46.4h0.7M95.36,37.91h0.7M99.99,64.76h0.7M101.61,39.85h0.7M97.36,53.9h0.7M100.09,52.07h0.7M98.24,44.22h0.7M101.08,58.55h0.7M101.67,60.12h0.7M101.8,47.4h0.7M100.98,51.12h0.7M97.5,67.39h0.7M102.71,45.86h0.7M98.61,52.44h0.7M99.79,48.31h0.7M99.24,64.6h0.7M98.94,44.6h0.7M103.13,49.15h0.7M98.81,43.92h0.7M99.66,48.01h0.7M99.09,48.91h0.7M100.27,38.3h0.7M97.31,46.38h0.7M99.63,47.67h0.7M99.72,51.14h0.7M98.86,47.64h0.7M104.39,50.77h0.7M98.56,57.86h0.7M100.66,42.43h0.7M100.94,54.12h0.7M101.45,50.49h0.7M93.62,36.03h0.7M100.62,36.21h0.7M102.97,66.39h0.7M95.55,56.35h0.7M101.81,72.96h0.7M97.93,54.9h0.7M101.91,39.87h0.7M97.28,55.74h0.7M99.33,41.21h0.7M96.61,48.16h0.7M97.63,54.96h0.7M99.28,65.95h0.7M98.66,45.35h0.7M100.76,57.77h0.7M97.04,44.03h0.7M97.15,38.85h0.7M99.24,53.21h0.7M97.81,40.59h0.7M96.82,66.11h0.7M100.26,53.54h0.7M97.8,43.59h0.7M98.87,46.78h0.7M96.06,51.17h0.7M98.22,52.03h0.7M101.4,53.72h0.7M98.17,67.99h0.7M103.29,56.13h0.7M102.4,46.91h0.7M101.21,60.75h0.7M101.8,45.89h0.7M99.26,43.9h0.7M99.36,58.38h0.7M94.91,36.51h0.7M99.89,52.24h0.7M99.39,62.96h0.7M98.23,39.81h0.7M98.99,39.85h0.7M102.99,68.9h0.7M99.34,50.93h0.7M100.43,56.11h0.7" stroke="#5050f0" stroke-width="0.7" opacity="0.55"/>
<path d="M108.59,52.98h0.7M114.65,42.11h0.7M116.45,39.87h0.7M120.66,48.25h0.7M113.41,49.27h0.7M109.95,48.06h0.7M116.74,50.37h0.7M115.28,39.79h0.7M114.66,38.27h0.7M114.36,42.18h0.7M111.37,49.37h0.7M119.91,53.17h0.7M112.6,43.28h0.7M110.81,42.43h0.7M114.16,47.75h0.7M112.39,45.47h0.7M110.17,42.68h0.7M117.77,52.31h0.7M115.28,45.77h0.7M114.37,41.78h0.7M110.09,47.94h0.7M110.28,47.3h0.7M110.06,44.83h0.7M118.67,48.26h0.7M113.31,46.53h0.7M108.88,50h0.7M111.21,41h0.7M111.41,45.49h0.7M111.45,41.86h0.7M114.96,46.04h0.7M117.31,49.17h0.7M117.22,39.34h0.7M113.82,47.77h0.7M116.26,43.52h0.7M115.44,50.65h0.7M110.75,40.77h0.7M111.06,46.27h0.7M110.18,45.19h0.7M112.13,40.05h0.7M108.12,56.56h0.7M117.37,50.38h0.7M108.79,49.49h0.7M112.49,38.76h0.7M111.83,42.7h0.7M118.45,45.83h0.7M113.42,47.42h0.7M115.01,38.81h0.7M117.06,46.22h0.7M116.6,53.57h0.7M112.56,56.75h0.7M112.58,43.69h0.7M106.93,52.06h0.7M112.97,42.24h0.7M111.88,47.95h0.7M116.85,48.72h0.7M112.79,41.71h0.7M107.85,41.82h0.7M114.93,43.08h0.7M119.4,50h0.7M112.66,47.67h0.7M114.21,41.27h0.7M112.58,37.49h0.7M112.62,50.36h0.7M112.17,53.78h0.7M112.99,48.91h0.7M115.01,41.86h0.7M110.17,47.34h0.7M115.97,45.05h0.7M113.16,30.91h0.7M111.64,49.77h0.7M116.75,47.03h0.7M111.25,49.56h0.7M112.72,49.14h0.7M117.94,40.51h0.7M112.77,46.47h0.7M114.78,45.72h0.7M116.21,49.83h0.7M111.93,44.65h0.7M116.72,39.84h0.7M111.9,34.71h0.7M110.97,54.94h0.7M119.99,43.37h0.7M119.11,47.77h0.7M114.92,44.77h0.7M117.16,38.12h0.7M118.11,46.58h0.7M113.79,36.7h0.7M120.92,49.69h0.7M114.63,45.94h0.7M116.75,43.13h0.7M114.81,49.51h0.7M111.81,42.23h0.7M117.37,41.16h0.7M111.33,48.13h0.7M120.04,54.69h0.7M111.02,55.97h0.7M109.89,43.46h0.7M115.1,50.28h0.7M116.16,48.16h0.7M108.32,37.54h0.7M113.84,48.11h0.7M113.88,42.41h0.7M114.67,50.36h0.7M105.03,51.92h0.7M119.07,49.04h0.7M111.91,45.63h0.7M113.98,55.91h0.7M114.9,49.7h0.7M116.86,46.4h0.7M111.99,37.23h0.7M111.8,49.45h0.7M116.31,35.88h0.7M112.55,45.56h0.7M116.06,43.28h0.7M112.58,45.24h0.7M114.96,45.34h0.7M111.25,43.93h0.7M113.96,42.3h0.7M113.15,44.14h0.7M108.97,54.23h0.7M113.39,49.34h0.7M119.47,46.98h0.7M111.23,45.16h0.7M111.3,43.53h0.7M115.9,41.59h0.7M115.42,46.44h0.7M118.31,47.8h0.7M116.26,48.45h0.7M112.39,43.77h0.7M110.84,39.55h0.7M119.91,40.12h0.7M117.13,44.18h0.7M110.33,45.46h0.7M116.22,49.96h0.7M117.05,44.97h0.7M114.92,41.88h0.7M111.27,48.71h0.7M116.33,44.11h0.7M113.61,42.17h0.7M113.68,39.35h0.7M114.05,44.95h0.7M113.05,55.41h0.7M111.24,46.48h0.7M115.67,41.15h0.7M116.24,40.68h0.7M114.78,45.85h0.7M117.96,36.83h0.7M118.2,59.01h0.7M115.46,39.75h0.7M114.01,38.92h0.7M115.94,45.89h0.7M110.08,53.95h0.7M112.8,52.63h0.7M112.49,43.15h0.7M109.84,46.62h0.7M113.07,40.39h0.7M118.91,44.28h0.7M119.61,46.61h0.7M108.04,37.42h0.7M114.18,53.53h0.7M112.85,40.07h0.7M111.01,50.36h0.7M118.03,43.98h0.7M110.65,39.05h0.7M115.69,39.42h0.7M113.3,43.66h0.7M118.62,35.4h0.7M110.04,41.95h0.7M117.05,42.42h0.7M116.45,41.07h0.7M107.44,40.26h0.7M117.08,41.89h0.7M109.83,43.33h0.7M110.67,45.95h0.7M113.86,49.09h0.7M114.76,56.76h0.7M108.39,50.65h0.7M103.66,48h0.7M111.21,42.47h0.7M111.39,46.8h0.7M112.33,48.62h0.7M112.97,49.85h0.7M120.65,46.91h0.7M114.49,40.74h0.7M114,43.65h0.7M110.52,40.53h0.7M119.66,35.54h0.7M109.12,39.07h0.7M113.08,42.91h0.7M114.64,46.54h0.7M113.6,39.35h0.7M111.38,49.69h0.7M116.69,42.85h0.7M114.96,40.88h0.7M110.56,37.84h0.7M116.18,55.03h0.7M114.08,47.76h0.7M115.65,44.29h0.7M107.07,50.08h0.7M114.63,52.09h0.7" stroke="#5050f0" stroke-width="0.7" opacity="0.55"/>
<path d="M103.95,67.98h0.7M105.51,73.91h0.7M110.49,71.81h0.7M104.11,69.13h0.7M102.08,66.76h0.7M97.46,64.41h0.7M108.09,69.74h0.7M107.92,65.63h0.7M104.95,69.87h0.7M106.62,69.19h0.7M107.71,72.94h0.7M109.31,63.62h0.7M99.06,74.24h0.7M114.32,71.52h0.7M102.65,73.62h0.7M104.85,70.63h0.7M109.41,70.2h0.7M97.18,67.93h0.7M106.49,67.47h0.7M105.54,68.36h0.7M106.23,68.45h0.7M107.66,68.91h0.7M99.65,71.58h0.7M105.47,70.43h0.7M97.92,68.68h0.7M107.93,70.85h0.7M99.23,73.81h0.7M105.74,69.92h0.7M102.19,69.62h0.7M106.01,63h0.7M102.57,66.19h0.7M105.74,70.34h0.7M104.11,71.24h0.7M110.75,75.66h0.7M98.97,75.34h0.7M104.47,64.83h0.7M109.28,67.58h0.7M101.41,72.76h0.7M103.21,70.49h0.7M108.98,71.06h0.7M93.39,68.86h0.7M98.63,66.19h0.7M98.77,70.58h0.7M104.42,69.28h0.7M108.21,70.38h0.7M102.89,73.06h0.7M106.24,70.71h0.7M108.46,72.38h0.7M104.8,70.13h0.7M102.23,67.15h0.7M113.4,71.02h0.7M94.61,70.42h0.7M101,66.97h0.7M102.54,70.85h0.7M108.21,69.31h0.7M103.23,71.58h0.7M94.57,65.14h0.7M98.08,73.15h0.7M102.51,66.57h0.7M100.29,66h0.7M105.08,69.61h0.7M105.84,71.76h0.7M106.96,71h0.7M101.42,70.83h0.7M103.53,70h0.7M109.43,67.55h0.7M106.2,71.26h0.7M104.11,68.34h0.7M103.89,69.17h0.7M99.65,66.86h0.7M97.12,68.63h0.7M114.79,66.77h0.7M108.35,71.13h0.7M108.93,73.3h0.7M104.66,71.75h0.7M104.66,70.19h0.7M103.81,71.97h0.7M96.68,69.17h0.7M103.36,67.39h0.7M103.74,75.21h0.7M103.09,74.28h0.7M109.18,69.27h0.7M102.75,70.16h0.7M105.25,70.35h0.7M101.26,68.45h0.7M101.63,68.73h0.7M104.57,72.24h0.7M102.63,65.5h0.7M110.19,70.83h0.7M104.35,66.64h0.7M104.54,70.28h0.7M105.82,69.82h0.7M105.41,70.01h0.7M116.43,63.94h0.7M104.63,62.92h0.7M104.56,68.92h0.7M99.85,72.96h0.7M101.43,65.28h0.7M103.29,68.59h0.7M96.33,74.42h0.7M102.4,68.47h0.7M95.34,73.7h0.7M103.87,71.38h0.7M106.18,65.97h0.7M100.95,72.47h0.7M103.37,74.57h0.7M102.41,73.61h0.7M109.17,67.95h0.7M102.71,71.31h0.7M102.74,70.02h0.7M104.64,66.67h0.7M100.82,70.83h0.7M102.69,66.9h0.7M101.46,70.73h0.7M105.4,70.57h0.7M104.71,74.89h0.7M102.63,68.32h0.7M107.11,70.48h0.7M102.77,67.94h0.7M102.05,70.38h0.7M105.27,66.19h0.7M92.81,73.3h0.7M100.79,69.87h0.7M100.02,63.26h0.7M97.6,65.21h0.7M100.81,69.19h0.7M103.07,69.13h0.7M108.71,69.68h0.7M107.32,70.52h0.7M98.38,65.87h0.7M107.34,68.62h0.7M107.73,67.77h0.7M96.76,67.3h0.7M102.93,66.21h0.7M107.62,70.28h0.7M103.85,66.89h0.7M111.79,71.01h0.7M99.74,73.73h0.7M101.79,72.34h0.7M99.96,68.06h0.7M108.72,68.17h0.7M100.9,73.04h0.7M104.12,65.1h0.7M108.83,70.34h0.7M107.55,67.91h0.7M105.19,71.41h0.7M96.88,68.8h0.7M104.39,67.02h0.7M107.25,70.85h0.7M100.09,68.1h0.7M101.84,71.21h0.7M101.74,70.53h0.7M102.5,68.72h0.7M107.7,70.41h0.7M102.13,70.03h0.7M98.64,74.79h0.7M104.42,67.32h0.7M101.53,71.54h0.7M105.77,67.75h0.7M104.42,62.29h0.7M102.72,74.13h0.7M105.9,66.56h0.7M106.92,68.94h0.7M100.31,70.5h0.7M107.5,71.04h0.7M107.13,69.77h0.7M100.11,64.64h0.7M104.25,72.07h0.7M103.37,69h0.7M97.49,66.03h0.7M111.21,66.33h0.7M96.7,70.62h0.7M110.03,68.87h0.7M103.81,75.07h0.7M99.79,69.71h0.7M107.83,74.79h0.7M103.46,69.28h0.7M104.34,70.82h0.7M97.88,68.68h0.7M102.59,71.62h0.7M99.75,72.62h0.7M105.56,70.37h0.7M99.39,64.44h0.7M102.57,69.47h0.7M100.86,69.83h0.7M100.98,69.39h0.7M101.21,72.5h0.7M108.33,69.9h0.7M102.4,72.02h0.7M108.17,74.76h0.7M109.02,68.56h0.7M102.61,69h0.7M107.5,71.16h0.7M109.85,71.77h0.7M102.09,64.35h0.7M100.56,72.41h0.7" stroke="#4040f0" stroke-width="0.7" opacity="0.5"/>
<ellipse cx="99.2" cy="66" rx="2.9" ry="12.5" fill="#1c1cf0" filter="url(#b05)"/>
<ellipse cx="99.2" cy="66.3" rx="2.4" ry="11" fill="#20b0ff" filter="url(#b05)"/>
<ellipse cx="99.1" cy="66.6" rx="1.9" ry="9.5" fill="#90ff30" filter="url(#b05)"/>
<ellipse cx="99" cy="67" rx="1.3" ry="7.5" fill="#f8d000" filter="url(#b05)"/>
<ellipse cx="98.9" cy="67.5" rx="0.7" ry="5" fill="#f06000" filter="url(#b05)"/>
<ellipse cx="113.1" cy="59" rx="4.2" ry="13" fill="#1c1cf0" filter="url(#b05)"/>
<ellipse cx="113.2" cy="56" rx="3.4" ry="8.5" fill="#2a70ff" filter="url(#b05)"/>
<ellipse cx="113.3" cy="54" rx="2.6" ry="6" fill="#30d0f0" filter="url(#b05)"/>
<ellipse cx="113.4" cy="53" rx="1.5" ry="3.6" fill="#70ff60" filter="url(#b05)"/>
</g>
<rect x="107.3" y="46.6" width="13.3" height="27.1" fill="none" stroke="#444" stroke-width="0.5"/>
<rect x="87.4" y="29.4" width="47.1" height="47.1" fill="none" stroke="#8a8a8a" stroke-width="0.6"/>
<path d="M88.2,76.5v1.1M87.4,75.7h-1.1M97.2,76.5v1.1M87.4,66.7h-1.1M106.2,76.5v1.1M87.4,57.7h-1.1M115.2,76.5v1.1M87.4,48.7h-1.1M124.2,76.5v1.1M87.4,39.7h-1.1M133.2,76.5v1.1M87.4,30.7h-1.1" stroke="#555" stroke-width="0.6"/>
<g clip-path="url(#c3)">
<path d="M164.02,57.36h0.7M159.28,68.13h0.7M163.81,58.62h0.7M164.85,60.2h0.7M167.19,55.13h0.7M160.8,61.74h0.7M158.36,66.62h0.7M163.01,59.34h0.7M165.13,54.31h0.7M164.24,59.11h0.7M158.74,71.53h0.7M163.66,59.68h0.7M157.84,66.5h0.7M167.99,48.8h0.7M161.47,63.17h0.7M164.74,49.2h0.7M168.17,50.75h0.7M164.48,53.63h0.7M165.49,59.27h0.7M161.28,60.39h0.7M160.15,62.66h0.7M165.58,55.12h0.7M161.53,63.95h0.7M156.62,66.33h0.7M170.71,43.69h0.7M168.3,49.5h0.7M162.22,61.99h0.7M158.22,65.19h0.7M161.16,61.28h0.7M167.42,56.82h0.7M156.99,67.26h0.7M165.82,55.59h0.7M165.64,52.35h0.7M164.54,56.25h0.7M156.93,71.12h0.7M157.26,70.79h0.7M160.49,63.01h0.7M172.18,47.22h0.7M164.46,57.66h0.7M161.06,66.08h0.7M163.66,55.51h0.7M156.25,71.05h0.7M162.79,61.94h0.7M157.53,66.29h0.7M164.06,57.49h0.7M167.27,54.75h0.7M156.2,64.44h0.7M161.73,59.3h0.7M160.01,56.74h0.7M162.14,60.91h0.7M160.96,64.18h0.7M163.08,59.65h0.7M168.78,52.57h0.7M167.31,52.58h0.7M163.62,59.63h0.7M162.69,57.61h0.7M164.97,58.23h0.7M159.58,62.08h0.7M163.64,55.87h0.7M156.61,69.72h0.7M157.41,69.94h0.7M160.62,63.56h0.7M167.99,53.48h0.7M159.33,59.24h0.7M159.25,62.46h0.7M167.61,55.39h0.7M165.77,56.05h0.7M165.3,57h0.7M162.14,63.19h0.7M159.89,61.37h0.7M164.54,60.93h0.7M159.59,60.17h0.7M167.28,52.25h0.7M163.88,56.26h0.7M166.15,58.11h0.7M160.87,64.84h0.7M162.68,57.25h0.7M163.81,59.37h0.7M160.73,66.45h0.7M159.73,68.19h0.7M165.03,56.27h0.7M158.6,64.71h0.7M154.23,74.56h0.7M162.63,61.36h0.7M166.44,53.62h0.7M162.39,63.01h0.7M162.37,60.18h0.7M159.38,68.5h0.7M162.3,65.84h0.7M158.67,65.43h0.7M161.91,59.09h0.7M155.69,68.85h0.7M159.12,65.33h0.7M166.85,54.22h0.7M164.58,58.62h0.7M153.68,73.89h0.7M159.15,63.03h0.7M163.41,56.58h0.7M159.46,67.9h0.7M159.73,64.21h0.7M157.99,70.54h0.7M164.33,60.84h0.7M171.32,46.31h0.7M160.16,61.95h0.7M168.2,49.37h0.7M165.03,56.22h0.7M163.26,59.25h0.7M162.22,61.19h0.7M159.46,67.1h0.7M160.76,63.56h0.7M168.74,49.6h0.7M159.11,67.05h0.7M157.34,69.61h0.7M166.3,50.33h0.7M160.83,60.52h0.7M163.46,59.25h0.7M162.75,58.81h0.7M154.4,71.83h0.7M161.81,63.52h0.7M156.43,73.81h0.7M157.67,63.86h0.7M168.16,50.98h0.7M159.32,66.38h0.7M162.9,55.31h0.7M166.09,51.3h0.7M164.74,54.5h0.7M155.95,69.93h0.7M160.68,63.57h0.7M155.13,70.24h0.7M163.1,57.89h0.7M161.03,63.83h0.7M159.99,70.01h0.7M160.14,65.21h0.7M162.98,61.91h0.7M159.87,62.48h0.7M164.01,59.02h0.7M164.29,62.52h0.7M166.76,56.29h0.7M168.26,52.69h0.7M163.66,62.47h0.7M161.22,62.65h0.7M168.56,51.88h0.7M158.12,66.89h0.7M160.52,66.68h0.7M161.12,62.49h0.7M159.31,64.23h0.7M163.61,55.25h0.7M161.99,59.52h0.7M159.54,61.68h0.7M164.65,51.74h0.7M157.44,67.76h0.7M161.71,59.29h0.7M155.93,70.27h0.7M157.94,66.17h0.7M165.66,48.7h0.7M162.67,60.69h0.7M160.4,62.68h0.7M165.9,53.38h0.7M155.65,71.03h0.7M163.15,57.73h0.7M160.42,64.1h0.7M160.66,63.54h0.7M163.87,55.79h0.7M158.2,71.16h0.7M162.77,57.33h0.7M157.21,69.29h0.7M163.58,59.37h0.7M163.06,57.74h0.7M159.03,61.9h0.7M159.07,64.69h0.7M164.54,52.72h0.7M169.98,49.17h0.7M159.73,63.19h0.7M163.51,59.2h0.7M162.78,54.7h0.7M161.63,62.84h0.7M166.01,54.95h0.7M162.32,61.09h0.7M162.42,64.77h0.7M165.98,54.87h0.7M160.2,63.87h0.7M163.72,58.03h0.7M170.48,51.45h0.7M164.43,53.38h0.7M164.18,55.6h0.7M164.61,61.55h0.7M154.58,70.24h0.7M160.95,64.79h0.7M158.58,61.53h0.7M164.42,58.32h0.7M166.82,52.6h0.7M165.58,52.92h0.7M166.84,55.53h0.7M160.91,61.75h0.7M165.79,52.14h0.7M159.2,65.92h0.7M165.44,57.26h0.7M161.25,63.6h0.7" stroke="#3030f0" stroke-width="0.7" opacity="0.6"/>
<path d="M163.19,50.56h0.7M162.73,54.84h0.7M159.68,56.18h0.7M164.04,49.83h0.7M162.11,49.75h0.7M164.26,46.58h0.7M161.99,52.08h0.7M161.57,51.7h0.7M164.47,47.83h0.7M162.17,48.48h0.7M162.78,50.23h0.7M162.87,50.97h0.7M162.65,50.71h0.7M162.31,51.8h0.7M162.47,51.35h0.7M161.88,53.17h0.7M162.62,55.25h0.7M164.73,50.41h0.7M160.73,51.61h0.7M159.06,55.59h0.7M160.76,53.42h0.7M162.04,53.26h0.7M159.96,59.11h0.7M161.64,52.97h0.7M159.56,56.86h0.7M160.29,56.09h0.7M162.62,51.31h0.7M161.52,52.3h0.7M162.35,53.29h0.7M162.36,51.88h0.7M165.72,45.63h0.7M158.65,53.29h0.7M158.45,58.54h0.7M162.41,49.13h0.7M160.1,54.98h0.7M163.06,52.08h0.7M161.27,51.97h0.7M162.2,49.69h0.7M158.84,55.29h0.7M161.14,52.65h0.7M162.04,52.02h0.7M165.95,45.88h0.7M157.49,57.02h0.7M161.5,51.14h0.7M164.87,45.99h0.7M161.51,53.1h0.7M162.11,52.93h0.7M161.86,52.87h0.7M158.69,52.33h0.7M164.1,51.72h0.7M160.03,54.3h0.7M162.73,49.61h0.7M161.96,51.58h0.7M162.8,50.31h0.7M165.09,46.63h0.7M160.32,51.97h0.7M161.3,51.27h0.7M163.47,50.56h0.7M165.29,44.54h0.7M163.13,52.17h0.7" stroke="#8080f0" stroke-width="0.7" opacity="0.5"/>
<ellipse cx="162.3" cy="60.3" rx="14.6" ry="1.85" fill="#1c1cf0" transform="rotate(-60.5 162.3 60.3)" filter="url(#b05)"/>
<ellipse cx="162.2" cy="61" rx="10.5" ry="1.4" fill="#22a0ff" transform="rotate(-60.5 162.2 61)" filter="url(#b05)"/>
<ellipse cx="162.2" cy="62" rx="7" ry="1.15" fill="#80ff40" transform="rotate(-60.5 162.2 62)" filter="url(#b05)"/>
<ellipse cx="162.5" cy="62" rx="3.5" ry="0.8" fill="#ffb000" transform="rotate(-60.5 162.5 62)"/>
<ellipse cx="162.7" cy="61.8" rx="1.6" ry="0.5" fill="#f03000" transform="rotate(-60.5 162.7 61.8)"/>
</g>
<ellipse cx="162.4" cy="60.3" rx="15.8" ry="2.9" transform="rotate(-60.5 162.4 60.3)" fill="none" stroke="#444" stroke-width="0.6"/>
<rect x="152.3" y="29.4" width="47.2" height="47.2" fill="none" stroke="#8a8a8a" stroke-width="0.6"/>
<path d="M153.1,76.6v1.1M152.3,75.8h-1.1M162.1,76.6v1.1M152.3,66.8h-1.1M171.1,76.6v1.1M152.3,57.8h-1.1M180.1,76.6v1.1M152.3,48.8h-1.1M189.1,76.6v1.1M152.3,39.8h-1.1M198.1,76.6v1.1M152.3,30.8h-1.1" stroke="#555" stroke-width="0.6"/>
<g clip-path="url(#c4)">
<path d="M39.93,122.57h0.7M48.87,123.09h0.7M35.04,121.12h0.7M37.36,121.33h0.7M40.18,117.7h0.7M42.11,116.62h0.7M43.91,117.38h0.7M43.91,121.06h0.7M41.01,119.27h0.7M37.33,119.14h0.7M50.21,119.21h0.7M51.59,118.11h0.7M43.27,118.48h0.7M39.49,117.14h0.7M47.85,121.17h0.7M50.73,121.45h0.7M34.86,116.2h0.7M46.13,119.77h0.7M36.51,120.01h0.7M47.7,123.49h0.7M43.67,118.04h0.7M47.25,121.72h0.7M36.91,124.52h0.7M37.33,122.31h0.7M44.57,119.76h0.7M35.03,124.15h0.7M35.71,124.77h0.7M32.18,122.72h0.7M39.05,119.63h0.7M43.36,120.76h0.7M51.49,118.35h0.7M46.52,115.71h0.7M48.14,120.75h0.7M50.14,121.55h0.7M36.44,118.85h0.7M37.65,120.33h0.7M47.18,113.08h0.7M43.18,122.92h0.7M39.98,117.24h0.7M38.15,123.45h0.7M45.56,118.77h0.7M44.98,123.35h0.7M42.11,126.06h0.7M38.83,127.03h0.7M36.1,126.44h0.7M40.67,116.67h0.7M43.13,121.64h0.7M45.01,119.73h0.7M40.87,120.07h0.7M43.59,123.35h0.7M44.99,121.38h0.7M44.23,123.65h0.7M55.98,121.66h0.7M35.17,120.54h0.7M36.46,121.5h0.7M51.45,116.03h0.7M42.32,119.8h0.7M31.44,120.96h0.7M37.58,119.67h0.7M39.84,119.94h0.7M39.37,116.85h0.7M47.5,119.88h0.7M37.93,120.58h0.7M35.83,117.28h0.7M44.94,118.16h0.7M48.7,122.32h0.7M34.22,120.09h0.7M44.08,118.16h0.7M38.21,120.7h0.7M42.87,116.28h0.7M43.39,123.12h0.7M38.81,120.58h0.7M45.08,122.13h0.7M47.38,119.9h0.7M49.58,115.91h0.7M50.81,118.96h0.7M39.14,117.46h0.7M50.07,118.32h0.7M46.3,123.45h0.7M40.76,123.24h0.7M47.95,123.06h0.7M45.39,124.58h0.7M39.3,121.35h0.7M37.88,119.29h0.7M50.9,118.1h0.7M42.05,121.06h0.7M41.41,116.45h0.7M40.09,122.32h0.7M35.65,122.21h0.7M39.06,118.71h0.7M34.6,121.44h0.7M43.6,121.48h0.7M34.31,123.73h0.7M43.41,115.06h0.7M35.62,124.4h0.7M46.19,120.61h0.7M50.81,119.35h0.7M48.99,117.95h0.7M41.24,118.21h0.7M42.21,119.35h0.7M39.58,123.18h0.7M43.5,118.72h0.7M43.41,120.96h0.7M43.63,117.97h0.7M44.92,118.12h0.7M43.12,118.59h0.7M51.04,113.08h0.7M46.3,116.11h0.7M49.14,114.33h0.7M45.52,118.74h0.7M45.59,115.45h0.7M40.81,122.26h0.7M45.72,117.37h0.7M32.04,123.08h0.7M38.5,121.98h0.7M38.76,118.66h0.7M42.29,124.44h0.7M44.54,118.44h0.7M43.7,115.77h0.7M38.87,121.39h0.7M39.46,119.56h0.7M43.63,125.12h0.7M42.11,121.62h0.7M48.32,111.07h0.7M41.19,123.34h0.7M34.06,122.16h0.7M48.86,118.3h0.7M45.06,125.47h0.7M33.34,126.92h0.7M35.86,123.93h0.7M45.21,119.75h0.7M41.49,123.13h0.7M45.07,121.84h0.7M47.75,120.22h0.7M50.63,116.15h0.7M30.74,119.38h0.7M39.9,117.52h0.7M40.22,121.44h0.7M48.7,114.54h0.7M43.2,116.24h0.7M44.56,113.37h0.7M49.67,116.91h0.7M53.55,116.95h0.7M36.92,121.14h0.7M38.9,122.52h0.7M48.62,118.87h0.7M40.28,120.37h0.7M50.13,114.86h0.7M45.05,116.91h0.7M38.67,123.7h0.7" stroke="#4a4af0" stroke-width="0.7" opacity="0.5"/>
<ellipse cx="37.6" cy="121.6" rx="6.2" ry="3" fill="#1c1cf0" transform="rotate(-33 37.6 121.6)" filter="url(#b05)"/>
<ellipse cx="38" cy="121" rx="4.6" ry="2.2" fill="#30c0ff" transform="rotate(-33 38 121)" filter="url(#b05)"/>
<ellipse cx="38.4" cy="120.4" rx="3" ry="1.4" fill="#ffe000" transform="rotate(-33 38.4 120.4)" filter="url(#b05)"/>
<ellipse cx="38.5" cy="120.1" rx="1.6" ry="0.8" fill="#ff3000" transform="rotate(-33 38.5 120.1)"/>
<ellipse cx="46.8" cy="119.8" rx="5" ry="3.9" fill="#1c1cf0" filter="url(#b05)"/>
<ellipse cx="46.8" cy="119.8" rx="3.8" ry="2.8" fill="#30d0d0" filter="url(#b05)"/>
<ellipse cx="46.7" cy="119.7" rx="2.4" ry="1.7" fill="#80ff40" filter="url(#b05)"/>
</g>
<ellipse cx="46.8" cy="120.3" rx="5.4" ry="5" fill="none" stroke="#555" stroke-width="0.5"/>
<rect x="21.9" y="99.3" width="47.7" height="47.2" fill="none" stroke="#8a8a8a" stroke-width="0.6"/>
<path d="M22.7,146.5v1.1M21.9,145.7h-1.1M31.7,146.5v1.1M21.9,136.7h-1.1M40.7,146.5v1.1M21.9,127.7h-1.1M49.7,146.5v1.1M21.9,118.7h-1.1M58.7,146.5v1.1M21.9,109.7h-1.1M67.7,146.5v1.1M21.9,100.7h-1.1" stroke="#555" stroke-width="0.6"/>
<g clip-path="url(#c5)">
<path d="M107.29,128.26h0.7M112.85,131.05h0.7M107.89,128.81h0.7M112.4,116.86h0.7M116.53,117.72h0.7M98.93,117.07h0.7M102.14,116.59h0.7M113.1,119.85h0.7M118.68,118.61h0.7M111.56,120.96h0.7M96.09,121.79h0.7M110.65,128.7h0.7M99.93,129.1h0.7M116.1,114.71h0.7M110.54,131.09h0.7M96.42,125.05h0.7M94.16,122.85h0.7M118.15,118.87h0.7M112.1,108.51h0.7M103.89,117.63h0.7M113.68,119.32h0.7M113.37,120.76h0.7M103.54,122.39h0.7M109.83,119.16h0.7M113.25,114.99h0.7M109.45,125.94h0.7M104.14,121.08h0.7M107.71,109.87h0.7M118.22,118.54h0.7M114.85,115.83h0.7M99.91,117.92h0.7M112.34,105.32h0.7M112.56,108.29h0.7M113.18,121.25h0.7M113.79,124.84h0.7M100.26,115.67h0.7M109.69,116.11h0.7M105.94,110.78h0.7M110.82,138.88h0.7M113.33,122.58h0.7M99.13,117.91h0.7M114.55,119h0.7M110.79,116.18h0.7M103.64,120.46h0.7M102.98,114.36h0.7M107.64,116.66h0.7M92.23,123.93h0.7M115.8,120.73h0.7M102.75,109.89h0.7M100.38,117.09h0.7M111.74,118.56h0.7M104.44,110.03h0.7M106.07,112.09h0.7M117.31,121.28h0.7M105.08,132.02h0.7M117.35,119.02h0.7M97.3,127.91h0.7M103.03,124.04h0.7M99.12,115.6h0.7M104.02,111.83h0.7M98.7,126.26h0.7M103.31,128.53h0.7M110.18,120.13h0.7M109.81,116.39h0.7M105.31,121.21h0.7M107.51,113.78h0.7M111.58,121.69h0.7M116.13,115.03h0.7M121.87,120.33h0.7M113.2,123.54h0.7M96.75,117.37h0.7M114.06,130.14h0.7M105.51,131.33h0.7M114.18,115.85h0.7M115.9,120.12h0.7M98.08,124.48h0.7M107.61,116.74h0.7M99.15,115.84h0.7M114.41,115.7h0.7M99.29,112.08h0.7M113.38,131.7h0.7M99.55,115.15h0.7M111.12,127.04h0.7M103.57,122.56h0.7M117.83,115.12h0.7M104.71,120.71h0.7M109.99,119.64h0.7M99.26,119.61h0.7M112.39,111.94h0.7M101.28,114.91h0.7M118.01,118.24h0.7M100.39,129.78h0.7M113.55,117.39h0.7M108.93,121.33h0.7M111.01,119.03h0.7M108.31,115.68h0.7M107.57,124.09h0.7M108.05,117.19h0.7M96.26,122.25h0.7M106.2,119.84h0.7M118.26,121.38h0.7M106.22,122.77h0.7M96.63,118.05h0.7M105.95,123.55h0.7M109.68,127.3h0.7M107.46,117.14h0.7M107.63,109.43h0.7M101.49,117.56h0.7M113.96,121.65h0.7M99.31,125.57h0.7M110.34,121.61h0.7M113.88,120.95h0.7M113.9,123.15h0.7M102.04,122.42h0.7M111.96,134.66h0.7M104.24,120.4h0.7M98.01,114.42h0.7M94.4,121.09h0.7M111.79,111.02h0.7M113,121.16h0.7M103.35,119.71h0.7M98.09,120.01h0.7M107.16,108.18h0.7M106.92,114.09h0.7M101.61,114.66h0.7M107.16,116.44h0.7M111.27,129.94h0.7M106.29,115.01h0.7M108.19,107.97h0.7M102.96,113.8h0.7M111.06,121.78h0.7M108.36,103.85h0.7M107.84,121.65h0.7M98.68,133.49h0.7M109.93,135.96h0.7M109.44,106.9h0.7M115.99,119.4h0.7M109.06,127.06h0.7M99.92,126.24h0.7M101.12,129.04h0.7M111.18,120.93h0.7M107.64,124.22h0.7M106.95,105.7h0.7M112.66,124.46h0.7M111.52,120.27h0.7M112.67,128.48h0.7M112.94,108.46h0.7M106.05,127.1h0.7M108.06,130.26h0.7M108.36,131.83h0.7M99.54,121.64h0.7M116.44,108.54h0.7M105.91,131.2h0.7M106.87,121.02h0.7M109.31,116.33h0.7M105.13,130.92h0.7M110.51,114.39h0.7M105.72,113.13h0.7M114.57,121h0.7M108.92,124.25h0.7M99.78,125.5h0.7M107.79,124.83h0.7M102.66,117.6h0.7M98.66,116.1h0.7M102.51,134.01h0.7M108.66,119.59h0.7M109.65,121.35h0.7M101.93,120.32h0.7M102.4,121.62h0.7M109.42,135.15h0.7M111.89,106.79h0.7M113.59,119.98h0.7M106.9,113.66h0.7M112.85,128.32h0.7M101.86,126.33h0.7M102.93,117.85h0.7M116.81,121.59h0.7M107.71,108.12h0.7M104.47,125.59h0.7M102.97,115.18h0.7M106.8,111.53h0.7M95.42,117.56h0.7M110.05,123.24h0.7M95.37,118.02h0.7M117.69,112.95h0.7M108.71,125.77h0.7M107.08,125.03h0.7M108.5,123.62h0.7M109.97,112.22h0.7M115.27,118.27h0.7M107.74,103.76h0.7M102.85,118.51h0.7M101.59,124.17h0.7M111.02,127.54h0.7M107.77,113.84h0.7M109.74,120.51h0.7M104.36,123.5h0.7M91.57,123.85h0.7M107.62,126.49h0.7M104.13,117.5h0.7M118.71,105.55h0.7M112.98,120.57h0.7M107.42,118.72h0.7M96.77,115.6h0.7M110.74,118.68h0.7M114.25,115.81h0.7M106.68,114.98h0.7M113.54,122.42h0.7M111.56,119.4h0.7M124,117.8h0.7M100.5,121.39h0.7M108.28,119.45h0.7M103.76,117.95h0.7M106.73,111.87h0.7M102.55,115.39h0.7M114.82,110.62h0.7M114.65,121.43h0.7M109.93,135.85h0.7M116.06,113.53h0.7M100.79,106.87h0.7M107.07,125.83h0.7M114.39,114.6h0.7M103.99,133.08h0.7M106.52,119.07h0.7M116.09,115.62h0.7M106.72,117.09h0.7M109.42,120.28h0.7M107.1,118.06h0.7M105.75,126.06h0.7M102.89,123.05h0.7M112.93,124.86h0.7M112.55,122.89h0.7M106.45,122.92h0.7M115.16,126.18h0.7M113.31,123.75h0.7M97.43,109.5h0.7M98.95,112.16h0.7M109.04,117.48h0.7M117.38,124.1h0.7M106.13,127.87h0.7M105.49,123.71h0.7M101.72,124.92h0.7M108.92,115.55h0.7M113.57,125.67h0.7M111.08,114.5h0.7M103.83,133.93h0.7M107.77,118.47h0.7M113.11,126.05h0.7" stroke="#8080f0" stroke-width="0.7" opacity="0.45"/>
<path d="M98.16,126.64h0.7M97.61,117.91h0.7M98.85,124.07h0.7M98.37,124.71h0.7M98.93,126.73h0.7M98.21,133.73h0.7M97.6,125.45h0.7M97.68,127.78h0.7M98.41,129.06h0.7M97.91,133.36h0.7M98,118.83h0.7M99.27,113.64h0.7M99.91,115.11h0.7M96.34,121.53h0.7M98.81,120.21h0.7M98.64,134.56h0.7M97.12,126.05h0.7M98.39,129.81h0.7M97.15,113.16h0.7M97.16,119.97h0.7M97.9,127.13h0.7M97.04,118.88h0.7M97.15,128.32h0.7M98.3,130.53h0.7M98.83,134.82h0.7M97.31,136.53h0.7M96.55,131.34h0.7M97.73,113.08h0.7M99.44,143.38h0.7M99.03,115.19h0.7M95.21,132.73h0.7M98.11,121.54h0.7M96.97,112.65h0.7M97.84,109.85h0.7M96.19,124.83h0.7M99.24,132.43h0.7M98.87,137.21h0.7M98.67,122.56h0.7M98.1,128.02h0.7M97.16,126.51h0.7M97.7,116.05h0.7M96.16,126.99h0.7M98.51,134.19h0.7M99.13,129.88h0.7M97.97,122.54h0.7M96.47,103.26h0.7M97.46,131.89h0.7M97.77,142.14h0.7M99.46,133.71h0.7M97.67,140.4h0.7M99.42,116.89h0.7M98.29,136.42h0.7M96.89,141.91h0.7M97.61,131.67h0.7M97.41,128.89h0.7M98.09,139.28h0.7M97.47,131.53h0.7M98.59,124.53h0.7M98.27,115.35h0.7M96.31,123h0.7M95.96,119.53h0.7M97.5,121.07h0.7M97.07,119.11h0.7M98.28,125.14h0.7M95.06,133.2h0.7M99.42,132.32h0.7M99.02,120.55h0.7M99.58,131.86h0.7M97.69,136.64h0.7M98.19,120.67h0.7M97.82,130.98h0.7M97.52,130.1h0.7M97.09,112.85h0.7M99.07,130.36h0.7M98.3,113.61h0.7M97.67,136.79h0.7M97.25,118.16h0.7M100.22,126.91h0.7M98.36,126.12h0.7M99.25,128.66h0.7M97.04,124.01h0.7M97.88,141.04h0.7M97.85,125.74h0.7M99.06,135.9h0.7M97.24,129.16h0.7M98.73,124.75h0.7M98.8,130.85h0.7M96.48,133.43h0.7M97.84,123.71h0.7M95.47,130.06h0.7M95.51,128.44h0.7M99.41,118.53h0.7M97.49,123.86h0.7M98.73,126.28h0.7M97.35,135.89h0.7M95.96,124h0.7M95.4,122.56h0.7M98.15,115.75h0.7M97.56,138.24h0.7M95.95,126.92h0.7M97.5,141.02h0.7M97.64,122.11h0.7M98.97,123.52h0.7M96.87,129.62h0.7M96.3,136.38h0.7M98.89,122.77h0.7M96.59,125.2h0.7M99.46,138.66h0.7M97.58,127.89h0.7M97.9,133.71h0.7M97.95,122.12h0.7M99.11,141.42h0.7M96.93,144.38h0.7M98.27,127.22h0.7M98.07,134.72h0.7M96.85,125.29h0.7M100.37,122.65h0.7M94.88,117.36h0.7M99.73,110.37h0.7M97.35,125.04h0.7M97.48,125.96h0.7M94.82,140.92h0.7M96.48,134.47h0.7M99.45,123.17h0.7M96.82,133.45h0.7M99.18,136.74h0.7M97.22,121.32h0.7M95.84,133.44h0.7M98.54,128.7h0.7M96.45,116.85h0.7M96.3,124.1h0.7M99.23,127.66h0.7M97.4,125.94h0.7M96.97,125.88h0.7M96.7,138.69h0.7M97.89,125.92h0.7M99.14,132.87h0.7M99.18,121.77h0.7M96.82,138.12h0.7M98.14,125.44h0.7M98.95,128.95h0.7M97.49,117.53h0.7M97.16,127.67h0.7M97.97,129.05h0.7M96.96,128.33h0.7M96.72,122.63h0.7M97,139.28h0.7M97.16,134.61h0.7M96.16,130.38h0.7M99.59,125.41h0.7M99.64,127.03h0.7M96.25,125.3h0.7M97.99,127.28h0.7M98.35,127.39h0.7M99.11,135.26h0.7M97.9,118.84h0.7M98.05,135.4h0.7M98.42,130.99h0.7M95.6,132.74h0.7M97.72,123.11h0.7M98.71,105.75h0.7M98.31,123.86h0.7M95.52,117h0.7M97.77,137.46h0.7M95.89,112.15h0.7M98.37,119.01h0.7M97.18,124.04h0.7M98.16,121.62h0.7M97.49,123.2h0.7M97.5,112.66h0.7M98.67,132.19h0.7M98.52,135.23h0.7M98,124.51h0.7M97.83,133.29h0.7M98.7,134.75h0.7M97.57,117.85h0.7M97.13,126.72h0.7M95.76,131.13h0.7M98.49,129.72h0.7M96.52,125.69h0.7M98.43,139.6h0.7M99.06,126.08h0.7M100.39,125.69h0.7M97.8,120.28h0.7M95.37,120.11h0.7M98.52,119.58h0.7M97.82,133.17h0.7M96.27,135.85h0.7M96.67,132.08h0.7M98.19,135.13h0.7M97.99,129.1h0.7M98.16,136.66h0.7M96.75,116.05h0.7M96.5,134.37h0.7M98.08,125.98h0.7M97.05,125.14h0.7M98.4,125.85h0.7M97.32,133.74h0.7M97.86,115h0.7M98.99,129.74h0.7M97.44,130.7h0.7M99.02,128.57h0.7M97.96,133.48h0.7M96.83,119.15h0.7M97.36,130.35h0.7M98.33,120.22h0.7M97.46,136.28h0.7M98.87,131.99h0.7M98.55,131.63h0.7M96.62,117.29h0.7M99.46,125.27h0.7M99.09,133.22h0.7M97.68,132.7h0.7M97.27,120.91h0.7M98.81,120.65h0.7M98.1,130.65h0.7M100.22,132.46h0.7M98.89,122.98h0.7" stroke="#3a3af0" stroke-width="0.7" opacity="0.6"/>
<path d="M98.77,130.47h0.7M98.93,135.06h0.7M109.47,132.83h0.7M104.35,129.99h0.7M105.69,133.47h0.7M111.62,141.44h0.7M104.94,132.06h0.7M104.88,132.48h0.7M102.25,136.07h0.7M105.29,135.35h0.7M99.23,133.83h0.7M102.56,137.34h0.7M106.34,133.9h0.7M104.69,135.07h0.7M103.18,131.69h0.7M102.2,134.7h0.7M106.14,129.84h0.7M97.94,135.51h0.7M105.43,136.28h0.7M107.78,133.53h0.7M105.63,134.5h0.7M101.52,129.91h0.7M109.32,134.91h0.7M102.16,135.35h0.7M105.37,136.45h0.7M110.7,138.38h0.7M106.55,136.94h0.7M101.29,131.17h0.7M100.2,134.49h0.7M107.27,133.4h0.7M106.04,136.02h0.7M104.74,131.38h0.7M103.76,134.64h0.7M109.08,136.59h0.7M105.59,136.75h0.7M105.27,136.15h0.7M108.15,139.09h0.7M101.71,131.97h0.7M106,138.72h0.7M103.01,133.5h0.7M109.14,139.55h0.7M103.2,136.31h0.7M111.69,136.89h0.7M105.14,137.22h0.7M104.17,130.94h0.7M102.79,135.37h0.7M103.93,132.19h0.7M97.51,129.81h0.7M110.28,132.26h0.7M103.07,133.17h0.7M108.39,128.94h0.7M104.18,134.74h0.7M100.84,133.47h0.7M108.92,130.61h0.7M100.52,135.29h0.7M99.16,134.46h0.7M101.25,131.18h0.7M106.45,138.42h0.7M107.95,134.64h0.7M104.15,133.81h0.7M102.18,132.68h0.7M104.15,134.87h0.7M101.18,136.25h0.7M112.26,135.43h0.7M109.83,133.68h0.7M98,132.52h0.7M101.62,130.96h0.7M100.21,134.47h0.7M103.77,134.89h0.7M106.04,130.36h0.7M111.94,134.11h0.7M109.09,133.77h0.7M107.44,133.14h0.7M100.17,130.68h0.7M102.25,135.15h0.7M108.3,136.36h0.7M103.41,136.67h0.7M102.82,132.79h0.7M104.03,134.4h0.7M101.63,130.53h0.7M104.25,135.65h0.7M102.11,131.93h0.7M107.71,130.2h0.7M100.97,134.79h0.7M100.27,132.36h0.7M100.04,134.47h0.7M100.77,136.78h0.7M102.88,134.12h0.7M102.61,132.37h0.7M102.2,136.81h0.7M107.79,132.16h0.7M100.34,136.06h0.7M109.25,130.38h0.7M106.43,133.94h0.7M101.27,133.54h0.7M102.72,135.62h0.7M99.35,131.7h0.7M104.15,133.2h0.7M97.67,134.98h0.7M102.56,135.32h0.7M101.58,136.69h0.7M104.19,135.46h0.7M107.11,134.1h0.7M104.37,133.16h0.7M103.47,135.77h0.7M107.84,129.65h0.7M107.11,134.36h0.7M104.94,135.45h0.7M95.52,134.79h0.7M100.06,136.18h0.7M95.98,133.68h0.7M100.4,136.3h0.7M107.85,135.63h0.7M109.68,134.67h0.7M103.26,132.78h0.7M98.99,134.44h0.7M100.82,139.19h0.7M108.36,135.07h0.7M115.47,133.14h0.7M102.52,134.05h0.7M102.99,136.22h0.7M102.31,136.07h0.7M99.71,138.03h0.7M112.53,135.16h0.7M97.02,138.85h0.7M112.07,130.74h0.7M97.28,133.12h0.7M107.34,135.72h0.7M105.83,134.56h0.7M108.43,132.89h0.7M106.51,139.19h0.7M106.98,130.79h0.7M104.43,135.18h0.7M108.87,136.44h0.7M109.9,132.16h0.7M104.91,135.48h0.7M108.55,130.38h0.7M99.69,134.19h0.7M107.05,134.45h0.7M105.99,133.89h0.7M105.83,132.57h0.7M104.78,132.57h0.7M109.83,136.19h0.7M109.43,132.87h0.7M109.94,131.88h0.7M108.28,131.53h0.7M109.48,131.51h0.7M101.6,135.42h0.7M105.74,133.25h0.7M103.13,134.16h0.7M107.69,131.34h0.7M106.84,131.82h0.7M100.33,135.15h0.7M102.72,132.86h0.7M109.46,134.99h0.7M108.71,135.83h0.7M108.56,136.62h0.7M102.68,133.66h0.7M106.51,131.33h0.7M108.13,133.13h0.7M101.02,134.04h0.7M104,131.8h0.7M100.98,132.73h0.7M107.96,140.12h0.7M101.45,138.84h0.7M101.48,132.49h0.7M102.75,135.29h0.7M107.37,135.53h0.7M107.2,133.46h0.7M100.5,134.1h0.7M104.6,134.47h0.7M104.83,130.99h0.7M101.42,132.42h0.7M109.05,132.31h0.7M103.86,132.37h0.7M100.38,135.91h0.7M111.07,132.07h0.7M106.97,131.43h0.7M105.53,129.54h0.7M105.59,132.62h0.7M105.21,127.61h0.7M106.23,130.38h0.7M108.67,134.18h0.7M110.92,135.19h0.7M98.04,130.33h0.7M109.03,135.71h0.7M112.87,133.31h0.7M107.91,135.76h0.7M108.62,133.88h0.7M103.04,133.63h0.7M112.5,130.9h0.7M103.34,134.56h0.7M101.37,136.77h0.7M109.08,132.48h0.7M103.04,134.85h0.7M103.17,135.93h0.7M106.94,131.57h0.7M105.38,132.47h0.7M107.17,134.63h0.7M110.36,138.92h0.7M101.54,134.41h0.7M107.71,134.76h0.7M103.14,130.34h0.7M101.77,133.22h0.7M106.69,131.94h0.7M105.21,133.67h0.7M109.49,132.85h0.7M111.66,129h0.7M105.74,134.42h0.7M104.76,135.56h0.7M103.69,130.97h0.7M96.96,130.71h0.7M102.82,137.32h0.7M105.03,137.4h0.7M106.62,133.96h0.7M97.57,129.76h0.7M106.35,132.39h0.7M104.17,131.71h0.7M104.25,133.96h0.7M102.71,131.24h0.7M104.81,135.71h0.7M111.66,136.19h0.7M102.56,135.12h0.7M107.33,133.69h0.7M104.05,134.58h0.7M106.55,136.58h0.7M107.14,139.01h0.7M106.7,138.36h0.7M98.58,134.36h0.7M108.51,129.17h0.7M110.07,131.75h0.7M107.38,135.38h0.7M95.45,136.28h0.7M99.38,130.19h0.7M115.99,137.18h0.7M112.36,131.4h0.7M102.58,135.65h0.7M98.58,132.74h0.7M109.96,134.01h0.7M111.97,129.75h0.7M104.25,134.06h0.7M106.51,131.03h0.7M102.46,132.81h0.7M104.3,130.54h0.7M111.24,134.86h0.7M108.88,133.57h0.7M101.8,133.75h0.7M113.65,136.7h0.7M104.71,132.43h0.7M110.64,133.56h0.7M104.96,131.55h0.7M102.93,135.18h0.7M99.49,136.51h0.7M106.02,134.8h0.7M104.81,136.15h0.7M113.37,130.48h0.7M106.17,132.1h0.7M114.51,135.83h0.7M96.54,129.85h0.7M105.18,133.08h0.7" stroke="#4a4af0" stroke-width="0.7" opacity="0.6"/>
<ellipse cx="97.5" cy="113.2" rx="1.9" ry="3.7" fill="#1c1cf0" filter="url(#b05)"/>
<ellipse cx="97.4" cy="113" rx="1.3" ry="2.6" fill="#ffd000" filter="url(#b05)"/>
<ellipse cx="97.3" cy="112.7" rx="0.7" ry="1.4" fill="#f02000"/>
<ellipse cx="97.8" cy="127.5" rx="1.5" ry="10.5" fill="#4040f0" filter="url(#b05)" opacity="0.7"/>
<ellipse cx="97.8" cy="134" rx="1" ry="2.8" fill="#30a0ff" filter="url(#b05)"/>
<ellipse cx="115.8" cy="133.8" rx="5.3" ry="4.9" fill="#1c1cf0" filter="url(#b05)"/>
<ellipse cx="116.2" cy="134" rx="3.9" ry="3.6" fill="#30b0ff" filter="url(#b05)"/>
<ellipse cx="116.6" cy="134.2" rx="2.3" ry="2.2" fill="#60f060" filter="url(#b05)"/>
</g>
<ellipse cx="116.6" cy="133.7" rx="7.6" ry="7.7" fill="none" stroke="#444" stroke-width="0.5"/>
<rect x="87.3" y="99.3" width="47.4" height="47" fill="none" stroke="#8a8a8a" stroke-width="0.6"/>
<path d="M88.1,146.3v1.1M87.3,145.5h-1.1M97.1,146.3v1.1M87.3,136.5h-1.1M106.1,146.3v1.1M87.3,127.5h-1.1M115.1,146.3v1.1M87.3,118.5h-1.1M124.1,146.3v1.1M87.3,109.5h-1.1M133.1,146.3v1.1M87.3,100.5h-1.1" stroke="#555" stroke-width="0.6"/>
<g clip-path="url(#c6)">
<path d="M169.94,126.18h0.7M173.77,122.73h0.7M171.41,131.55h0.7M170.74,126.33h0.7M171.22,128h0.7M174.68,130.91h0.7M175.88,122.22h0.7M171.56,123.28h0.7M171.78,126.91h0.7M172.73,122.68h0.7M171.25,136.86h0.7M169.42,135.36h0.7M170,121.43h0.7M171.96,124.19h0.7M172.57,122.99h0.7M171.94,127.16h0.7M175.14,127.37h0.7M175.36,126.35h0.7M178.09,114.35h0.7M171.98,126.89h0.7M172.51,127.19h0.7M173.68,131.46h0.7M172.55,125.32h0.7M170.49,126.33h0.7M171.96,127.29h0.7M172.13,127.15h0.7M171.64,120.67h0.7M171.31,123.04h0.7M175.22,124.97h0.7M173.66,129.71h0.7M174.2,124.78h0.7M173.49,116.6h0.7M174.61,122.41h0.7M168.37,128.5h0.7M171.93,118.97h0.7M174.43,130.93h0.7M172.87,123.06h0.7M174.22,133.4h0.7M170.76,124.29h0.7M171.16,126.27h0.7M173.02,127.9h0.7M171.9,127.3h0.7M177.78,119.96h0.7M172.12,125.06h0.7M171.86,124.65h0.7M172.13,127.51h0.7M172.05,126.03h0.7M172.67,128.87h0.7M167.58,127.95h0.7M169.31,122.68h0.7M172.54,121.14h0.7M173.76,126.57h0.7M174.92,129.61h0.7M170.04,133.81h0.7M173.4,128.02h0.7M170.93,121.77h0.7M175.08,127.2h0.7M168.81,128.55h0.7M173.89,118h0.7M167.48,123.9h0.7M171.05,126.61h0.7M175.89,131.82h0.7M171.05,121.51h0.7M176.36,125.23h0.7M171.63,131.73h0.7M174.35,124.87h0.7M175.34,124.56h0.7M175.16,129.11h0.7M173.54,121.44h0.7M172.5,132.78h0.7M175.87,129.56h0.7M170.87,130.21h0.7M171.06,125.86h0.7M174.23,133.12h0.7M171.11,126.87h0.7M169.57,122.25h0.7M175.25,128.35h0.7M175.37,131.59h0.7M177.35,128.13h0.7M170.31,124.23h0.7M171.11,125.25h0.7M171.6,126.72h0.7M170.99,130.22h0.7M171.37,123.72h0.7M169.86,121.33h0.7M173.03,125.68h0.7M171.53,125.99h0.7M174.34,121.2h0.7M169.93,127.97h0.7M171.37,125.81h0.7M173.7,125.3h0.7M174.95,126.74h0.7M174.46,129.01h0.7M171.22,123.36h0.7M175.1,125.33h0.7M179.25,121.86h0.7M168.85,123.84h0.7M177.97,130.27h0.7M170.97,127.3h0.7M175.14,124.08h0.7M173.48,126.5h0.7M173.46,123.6h0.7M172.33,124.71h0.7M175.5,116.3h0.7M170.11,131.25h0.7M174.4,124.26h0.7M164.64,128.31h0.7M175.95,124.48h0.7M172.53,125.75h0.7M175.81,117.53h0.7M171.4,124.86h0.7M175.39,130.05h0.7M171.89,120.93h0.7M173.34,125.09h0.7M174.12,126.07h0.7M172.72,127.18h0.7M173.09,128.72h0.7M174.13,121.48h0.7M173.88,130.52h0.7M177.01,135.82h0.7M174.49,127.59h0.7M168.43,122.28h0.7M172.27,124.2h0.7M169.95,121.85h0.7M176.12,123.66h0.7M173,133.51h0.7M171.41,117.99h0.7M174.38,133.26h0.7M171.32,126.35h0.7M172.97,127.83h0.7M174.06,124.66h0.7M171.78,123.73h0.7M173,129.73h0.7M173.51,124.78h0.7M171.35,128.27h0.7M169.66,126.51h0.7M175.26,121.75h0.7M175.98,119.39h0.7M173.21,125.16h0.7M175.69,127.9h0.7M173.75,129.59h0.7M170.1,125.09h0.7M173.43,119.15h0.7M173.63,131.11h0.7M170.44,126.74h0.7M172.43,119.74h0.7M172.37,122.2h0.7M175.75,128.67h0.7M172.95,129.45h0.7M173.77,126.93h0.7M167.26,129.52h0.7M171.62,123.99h0.7M174.51,125.2h0.7M172.58,124.63h0.7M178.09,123.64h0.7M174.22,122.66h0.7M170.31,127.38h0.7M175.81,123.54h0.7M173.07,134.71h0.7M169.58,129.06h0.7M176.87,123.57h0.7M176.14,131.21h0.7M165.14,130.12h0.7M171.93,127.75h0.7M179.08,135.24h0.7M172.64,126.28h0.7M166.93,125.91h0.7M174.33,134.9h0.7M174.62,125.94h0.7M173.35,128.16h0.7M173.07,126.08h0.7M173.86,133.04h0.7M170.74,127.66h0.7M172.07,124.48h0.7M173.31,123.01h0.7M171.33,125.67h0.7M172.93,128.26h0.7M171,128.67h0.7M176.7,130.38h0.7M171.2,131.17h0.7" stroke="#6060f0" stroke-width="0.7" opacity="0.55"/>
<path d="M174.61,116.81h0.7M176.08,111.65h0.7M179.72,117.33h0.7M177.17,115.75h0.7M178.98,116.51h0.7M174.68,109.68h0.7M179.72,122.48h0.7M175.39,111.85h0.7M177.91,121.22h0.7M178.73,111.62h0.7M175.45,109.52h0.7M178.44,120.4h0.7M174.36,118.63h0.7M174.38,115.79h0.7M175.58,114.16h0.7M176.05,118.47h0.7M176.19,114.16h0.7M169.53,112.2h0.7M169.52,110.46h0.7M175.23,118.41h0.7M175.63,118.4h0.7M175.7,116.5h0.7M178.15,113.02h0.7M172.42,110.93h0.7M177.19,117.59h0.7M178.09,111.91h0.7M173.49,118.19h0.7M175.87,114.45h0.7M175.72,118.66h0.7M176.27,119.84h0.7M176.17,117.11h0.7M175.34,111.26h0.7M174.85,112.81h0.7M176.83,119.8h0.7M177.78,115.12h0.7M178.01,118.33h0.7M177.84,122.22h0.7M174.05,115.49h0.7M172.6,113.34h0.7M179.29,121.71h0.7M175.1,114.8h0.7M173.25,114.78h0.7M182.24,118.68h0.7M167.23,108.11h0.7M173.88,116.54h0.7M179.32,119.33h0.7M174.49,115.8h0.7M174.65,109.79h0.7M182.57,118.83h0.7M174.03,121.22h0.7M175.33,115.94h0.7M173.14,114.56h0.7M173.73,110.13h0.7M175.65,118.66h0.7M172.93,117.1h0.7M174.27,110.84h0.7M175.94,115.44h0.7M173.61,113.74h0.7M175.02,111.03h0.7M176,114.25h0.7M175.14,113.02h0.7M177.52,119.16h0.7M177.15,119.54h0.7M172.9,115.99h0.7M178.44,114.93h0.7M175.46,119.73h0.7M177.79,122.63h0.7M176.45,116.6h0.7M172.41,109.48h0.7M177.75,118.1h0.7M175.11,116.89h0.7M173.01,114.33h0.7M171.24,112.96h0.7M177.45,117.69h0.7M172.05,110.83h0.7M173.72,111.93h0.7M176.2,116.19h0.7M176.37,118.16h0.7M173.68,111.33h0.7M174.76,112.93h0.7M177,119.4h0.7M177.88,119.52h0.7M177.1,113.28h0.7M178.67,119.88h0.7M171.56,115.31h0.7M179.58,117h0.7M173.34,113.59h0.7M175.57,116.58h0.7M176.14,112.83h0.7M174.5,118.87h0.7M172.79,109.49h0.7M174.81,119.22h0.7M173.63,115.05h0.7M175.06,112.75h0.7M178.36,118.51h0.7M174.67,115.51h0.7M170.64,105.08h0.7M172.27,113.75h0.7M176.23,117.08h0.7M176.52,121.22h0.7M175.21,111.47h0.7M176.06,118.52h0.7M173.71,114.77h0.7M171.86,116.02h0.7M179.32,119.56h0.7M176.48,117.78h0.7M174.51,118.75h0.7M174.86,117.74h0.7M172.41,112.26h0.7M173.23,104.17h0.7M176.46,111.01h0.7M178.24,118.09h0.7M177.17,120.13h0.7M181.61,119.29h0.7M176.96,118.21h0.7M175.6,111.52h0.7M176.57,115.05h0.7M175.19,114.72h0.7M174.41,113.16h0.7M178.5,116.48h0.7M175.88,115.48h0.7M174.11,114.68h0.7M173.52,121.36h0.7M174.5,107.13h0.7M173.17,116.65h0.7M174.4,119.51h0.7M176.04,114.42h0.7M177.58,114.26h0.7M171.95,112.97h0.7M176.87,117.12h0.7M174.64,120.34h0.7M174.72,120.07h0.7M172.97,118.08h0.7M179.26,117.99h0.7M177.29,119.13h0.7M179.16,116.23h0.7M173.37,117.15h0.7M175.15,116.04h0.7M175.11,114.45h0.7M178.06,118.65h0.7" stroke="#6060f0" stroke-width="0.7" opacity="0.5"/>
<path d="M175.33,134.01h0.7M176.35,134.26h0.7M159.5,135.34h0.7M167.59,136.19h0.7M180.07,138.4h0.7M175.67,134.4h0.7M176.87,135.92h0.7M161.7,134.13h0.7M167.59,136.51h0.7M174.22,135.55h0.7M178.63,135.57h0.7M164.33,133.54h0.7M176.72,133.89h0.7M168.32,136.18h0.7M176.85,133.99h0.7M170.41,136.34h0.7M170.2,133.15h0.7M176.53,137.08h0.7M164.97,133.42h0.7M176.53,134.62h0.7M176.59,135.52h0.7M186.94,131.48h0.7M175.29,133.08h0.7M160.29,132.96h0.7M168.65,136.01h0.7M170.77,132.89h0.7M166.39,134.78h0.7M175.22,132.55h0.7M172.88,134.69h0.7M170.13,133.8h0.7M169.93,133.38h0.7M166.6,134.18h0.7M170.19,133.71h0.7M164.62,135.93h0.7M170.88,140.04h0.7M187.72,134.24h0.7M184.99,132.71h0.7M161.67,133.02h0.7M170.16,134.87h0.7M184.01,132.68h0.7M171.71,136.24h0.7M172.93,137.33h0.7M177.37,137.38h0.7M177.93,134.92h0.7M173.39,132.47h0.7M172.96,134.84h0.7M171,133.85h0.7M170.38,136.9h0.7M171.41,134.96h0.7M174.67,131.73h0.7M169.9,133.96h0.7M156.59,134.95h0.7M167.41,134.4h0.7M177.11,133.86h0.7M168.45,134.34h0.7M177.88,132.42h0.7M165.13,134.09h0.7M168.43,136.19h0.7M170.81,134.47h0.7M169.67,131.57h0.7M175.19,134.67h0.7M170.72,132.89h0.7M177.86,136.66h0.7M177.57,134.32h0.7M165.65,133.26h0.7M164.42,133.66h0.7M182.24,132.66h0.7M178.98,132.72h0.7M172.74,131.48h0.7M171.53,131.77h0.7M172.12,133.88h0.7M176.23,136.78h0.7M168.16,135.1h0.7M169.55,133.54h0.7M172.22,132.93h0.7M176.52,133.71h0.7M177.21,134.14h0.7M172.66,133.54h0.7M166.36,134.47h0.7M178.12,132.33h0.7M169.34,134.12h0.7M167.61,134.31h0.7M179.52,136.17h0.7M172.99,134.05h0.7M178.92,133.73h0.7M177.14,134.42h0.7M162.94,135.05h0.7M171.8,136.34h0.7M169.18,135.9h0.7M165.16,133.96h0.7M175.37,133.6h0.7M172.27,135.99h0.7M177.36,134.54h0.7M170.46,135.15h0.7M169.45,134.41h0.7M175.97,130.37h0.7M168.88,133.74h0.7M173.23,135.03h0.7M176.72,137.7h0.7M173.13,130.94h0.7M166.89,136.21h0.7M170.03,131.92h0.7M171.11,134.14h0.7M179.88,134.44h0.7M170.94,136.07h0.7M172.99,130.41h0.7M176.06,134.79h0.7M180.22,135.3h0.7M165.39,132.97h0.7M174.3,136.24h0.7M175.87,133.41h0.7M173.25,135.68h0.7M173.36,133.24h0.7M169.81,132.11h0.7M172.91,133.92h0.7M167.32,138.8h0.7M169.46,134.51h0.7M174.93,135.25h0.7M169.17,133.16h0.7M175.84,135.3h0.7M174.94,131.77h0.7M167.32,134.68h0.7M174.39,135h0.7M178.12,132.83h0.7M182.43,134.72h0.7M177.67,133.88h0.7M176.18,133.49h0.7M168.51,136.02h0.7M166.17,134.37h0.7M172.22,135.24h0.7M169.75,136.73h0.7M178.18,132.4h0.7M165.88,134.38h0.7M177,136.83h0.7M173.57,132.89h0.7M172.02,131.04h0.7M171.6,134.66h0.7M175.63,132.64h0.7M179.31,135.62h0.7M166.24,132.68h0.7M167.58,132.67h0.7M184.26,135.5h0.7M165.59,131.48h0.7M162.98,134.21h0.7M162.18,135h0.7M176.5,135.36h0.7M172.8,132.83h0.7M166.48,134.23h0.7M172.4,133.6h0.7M171.39,135.13h0.7M177.45,135.27h0.7M175.38,134.12h0.7M164.64,132.51h0.7M171.54,134h0.7M181.55,134.98h0.7M173.65,137.59h0.7M162.77,130.59h0.7M163.54,136.51h0.7M174.65,135.67h0.7M167.85,135.7h0.7M167.3,134.12h0.7M176.88,135.92h0.7M160.95,134.67h0.7M166.01,133.63h0.7M173.72,137.36h0.7M173.61,134.06h0.7M170.01,137.42h0.7M172.06,135.18h0.7M173.73,139.48h0.7M173.68,135.18h0.7M170.57,133.57h0.7M174.04,133.19h0.7M165.01,134.83h0.7M183.21,132.05h0.7M173.01,135.97h0.7M174.87,135.08h0.7M174.77,133.43h0.7M164.49,134.09h0.7M171.43,135.14h0.7M176.56,134.53h0.7M174.95,133.56h0.7M169.02,138.63h0.7M173.99,134.13h0.7M172.53,132.59h0.7M161.72,135.83h0.7M179.37,134.61h0.7M183.11,131.21h0.7M173.86,132.45h0.7M169.25,139.05h0.7M174.89,134.52h0.7M168.57,139.1h0.7M162.2,136.76h0.7M176.32,135.19h0.7M171.89,134.71h0.7M173.93,131.39h0.7M168.08,133.4h0.7M166.42,132.14h0.7M170.15,136.38h0.7M185.3,134.61h0.7M175.72,134.72h0.7M173.4,134.16h0.7M174.66,136.23h0.7M184.59,134.48h0.7M174.14,137.1h0.7M172.51,136.32h0.7M174.64,133.57h0.7M171.3,138.4h0.7M172.55,135.25h0.7M166.7,134.22h0.7M169.21,135.52h0.7M166.11,130.23h0.7M173.59,135.51h0.7M178.77,135.49h0.7M175.21,134.98h0.7M176.02,130.91h0.7M158.7,134.49h0.7M172.24,137.22h0.7M170.31,132.09h0.7M170.05,135.41h0.7M176.52,137.34h0.7M169.9,132.3h0.7M172.25,133.9h0.7M175.97,132.21h0.7M170.34,133.36h0.7M176.65,133.94h0.7M159.81,140.19h0.7M162.96,133.74h0.7M176.12,131.23h0.7M168.24,134.48h0.7M168.23,134.1h0.7M168.88,134.45h0.7M178.15,134.4h0.7M170.78,131.97h0.7M167.21,135.47h0.7M183.81,134.6h0.7M175.89,134.94h0.7M167.49,134.38h0.7M170.28,130.87h0.7M155.63,134.66h0.7M174.7,137.02h0.7M174.29,134.5h0.7M169.37,132.09h0.7M173.59,131.95h0.7M175.17,133.34h0.7M170.94,134.33h0.7M181.91,134.82h0.7M166.96,136.91h0.7M178.28,136.25h0.7M185.78,134.12h0.7" stroke="#2a2af0" stroke-width="0.7" opacity="0.7"/>
<ellipse cx="172" cy="134.5" rx="9.3" ry="3.2" fill="#1010f0" filter="url(#b05)"/>
<ellipse cx="172.6" cy="134.4" rx="6.5" ry="2.2" fill="#2a8aff" filter="url(#b05)"/>
<ellipse cx="173" cy="134.3" rx="4.2" ry="1.5" fill="#60ff60" filter="url(#b05)"/>
<ellipse cx="173.4" cy="134.2" rx="2" ry="0.8" fill="#ff3000"/>
</g>
<circle cx="172.3" cy="112.1" r="10" fill="none" stroke="#444" stroke-width="0.5"/>
<line x1="182.3" y1="113.2" x2="200.2" y2="113.2" stroke="#555" stroke-width="0.5" />
<rect x="152.5" y="99.1" width="47.7" height="47.2" fill="none" stroke="#8a8a8a" stroke-width="0.6"/>
<path d="M153.3,146.3v1.1M152.5,145.5h-1.1M162.3,146.3v1.1M152.5,136.5h-1.1M171.3,146.3v1.1M152.5,127.5h-1.1M180.3,146.3v1.1M152.5,118.5h-1.1M189.3,146.3v1.1M152.5,109.5h-1.1M198.3,146.3v1.1M152.5,100.5h-1.1" stroke="#555" stroke-width="0.6"/>
<rect x="31.5" y="146.65" width="1.8" height="1.1" fill="#222" />
<rect x="20.05" y="134.5" width="1.1" height="1.8" fill="#222" />
<rect x="96.6" y="146.45" width="1.8" height="1.1" fill="#222" />
<rect x="85.45" y="134.8" width="1.1" height="1.8" fill="#222" />
<rect x="160.9" y="146.45" width="1.8" height="1.1" fill="#222" />
<rect x="150.75" y="134.8" width="1.1" height="1.8" fill="#222" />
<rect x="86.5" y="64.6" width="1" height="1.6" fill="#222" />
<rect x="97.2" y="76.7" width="1.6" height="1" fill="#222" />
<text font-size="7.2" text-anchor="middle" transform="translate(45.2 25.7) scale(1.02 1.08)">Lymphocytes</text>
<text font-size="7.2" text-anchor="middle" transform="translate(112.5 25.7) scale(1.02 1.08)">Live CD45+</text>
<text font-size="7.2" text-anchor="middle" transform="translate(175.6 25.7) scale(1.02 1.08)">Single Cells</text>
<text font-size="7.2" text-anchor="middle" transform="translate(45.2 86.3) scale(1.02 1.08)">FSC-A</text>
<text font-size="7.2" text-anchor="middle" transform="translate(110.2 86.3) scale(1.02 1.08)">CD45</text>
<text font-size="7.2" text-anchor="middle" transform="translate(177 86.3) scale(1.02 1.08)">FSC-H</text>
<text font-size="7.2" text-anchor="middle" transform="translate(15.6 53) rotate(-90) scale(1.02 1.08)">SSC-A</text>
<text font-size="7.2" text-anchor="middle" transform="translate(84 50.2) rotate(-90) scale(1.02 1.08)">Live/Dead</text>
<text font-size="7.2" text-anchor="middle" transform="translate(148.9 52.7) rotate(-90) scale(1.02 1.08)">FSC-A</text>
<text font-size="5.4" text-anchor="middle" transform="translate(47.6 97.3) scale(1.02 1.1)">TCRβ+Not Circulating</text>
<text font-size="5.4" text-anchor="middle" transform="translate(111.9 97.3) scale(1.02 1.1)">CD8+CD4-</text>
<text font-size="5.4" text-anchor="middle" transform="translate(173.5 97.4) scale(1.02 1.1)">SIY Tetramer-Reactive</text>
<text font-size="7.2" text-anchor="middle" transform="translate(16.1 114.2) rotate(-90) scale(1.02 1.08)">CD45 IV</text>
<text font-size="7.2" text-anchor="middle" transform="translate(84 115.5) rotate(-90) scale(1.02 1.08)">CD45</text>
<text font-size="7.2" text-anchor="middle" transform="translate(148.6 122.6) rotate(-90) scale(1.02 1.08)">SIY-Tetramer</text>
<text font-size="7.2" text-anchor="middle" transform="translate(59.7 155.6) scale(1.02 1.08)">TCRb</text>
<text font-size="7.2" text-anchor="middle" transform="translate(112.4 155.6) scale(1.02 1.08)">CD8</text>
<text font-size="7.2" text-anchor="middle" transform="translate(184.3 155.8) scale(1.02 1.08)">CD8</text>
<line x1="70.5" y1="52.7" x2="77" y2="52.7" stroke="#555" stroke-width="0.5" />
<path d="M75,50.9L77,52.7L75,54.5" fill="none" stroke="#555" stroke-width="0.5"/>
<line x1="136.2" y1="52.7" x2="142.6" y2="52.7" stroke="#555" stroke-width="0.5" />
<path d="M140.6,50.9L142.6,52.7L140.6,54.5" fill="none" stroke="#555" stroke-width="0.5"/>
<line x1="71.2" y1="122" x2="77.2" y2="122" stroke="#555" stroke-width="0.5" />
<path d="M73.2,120.2L71.2,122L73.2,123.8" fill="none" stroke="#555" stroke-width="0.5"/>
<line x1="135.8" y1="122" x2="141.8" y2="122" stroke="#555" stroke-width="0.5" />
<path d="M137.8,120.2L135.8,122L137.8,123.8" fill="none" stroke="#555" stroke-width="0.5"/>
<line x1="176.4" y1="87.5" x2="176.4" y2="93" stroke="#555" stroke-width="0.5" />
<path d="M174.7,91L176.4,93L178.1,91" fill="none" stroke="#555" stroke-width="0.5"/>
<text font-size="12" font-weight="bold" fill="#000" transform="translate(231.6 10.8) scale(1 1)">b</text>
<text font-size="8.1" text-anchor="middle" font-weight="bold" fill="#111" transform="translate(325.7 28.8) scale(1.02 1.15)">Circulating endogenous cells</text>
<text font-size="8.2" text-anchor="middle" transform="translate(227 88.8) rotate(-90) scale(1.02 1.15)">Relative <tspan font-style="italic">Zeb2</tspan> mRNA</text>
<text font-size="8.2" text-anchor="middle" transform="translate(236.6 87) rotate(-90) scale(1.02 1.15)">expression in SIY-reactive</text>
<text font-size="8.2" text-anchor="middle" transform="translate(246.3 87.6) rotate(-90) scale(1.02 1.15)">CD8<tspan font-size="5" dy="-3">+</tspan><tspan dy="3"> cells (fold-change)</tspan></text>
<line x1="270.3" y1="42.34" x2="270.3" y2="120.25" stroke="#2e2e2e" stroke-width="1" />
<line x1="267.3" y1="42.84" x2="270.3" y2="42.84" stroke="#2e2e2e" stroke-width="1" />
<text font-size="8.2" text-anchor="end" transform="translate(266.1 45.3) scale(1.02 1.15)">150</text>
<line x1="267.3" y1="68.48" x2="270.3" y2="68.48" stroke="#2e2e2e" stroke-width="1" />
<text font-size="8.2" text-anchor="end" transform="translate(266.1 70.94) scale(1.02 1.15)">100</text>
<line x1="267.3" y1="94.11" x2="270.3" y2="94.11" stroke="#2e2e2e" stroke-width="1" />
<text font-size="8.2" text-anchor="end" transform="translate(266.1 96.57) scale(1.02 1.15)">50</text>
<line x1="267.3" y1="119.75" x2="270.3" y2="119.75" stroke="#2e2e2e" stroke-width="1" />
<text font-size="8.2" text-anchor="end" transform="translate(266.1 122.21) scale(1.02 1.15)">0</text>
<rect x="297.8" y="117.19" width="7.3" height="2.56" fill="#5b5b5b" />
<line x1="301.45" y1="117.19" x2="301.45" y2="114.19" stroke="#888888" stroke-width="0.7" />
<line x1="299.85" y1="114.19" x2="303.05" y2="114.19" stroke="#888888" stroke-width="0.7" />
<rect x="306.15" y="95.65" width="7.3" height="24.1" fill="#be914b" />
<line x1="309.8" y1="95.65" x2="309.8" y2="90.45" stroke="#d9bd8c" stroke-width="0.7" />
<line x1="308.2" y1="90.45" x2="311.4" y2="90.45" stroke="#d9bd8c" stroke-width="0.7" />
<rect x="321.1" y="117.19" width="7.3" height="2.56" fill="#5b5b5b" />
<line x1="324.75" y1="117.19" x2="324.75" y2="114.19" stroke="#888888" stroke-width="0.7" />
<line x1="323.15" y1="114.19" x2="326.35" y2="114.19" stroke="#888888" stroke-width="0.7" />
<rect x="329.45" y="90.53" width="7.3" height="29.22" fill="#be914b" />
<line x1="333.1" y1="90.53" x2="333.1" y2="85.33" stroke="#d9bd8c" stroke-width="0.7" />
<line x1="331.5" y1="85.33" x2="334.7" y2="85.33" stroke="#d9bd8c" stroke-width="0.7" />
<rect x="344.4" y="117.19" width="7.3" height="2.56" fill="#5b5b5b" />
<line x1="348.05" y1="117.19" x2="348.05" y2="114.19" stroke="#888888" stroke-width="0.7" />
<line x1="346.45" y1="114.19" x2="349.65" y2="114.19" stroke="#888888" stroke-width="0.7" />
<rect x="352.75" y="85.91" width="7.3" height="33.84" fill="#be914b" />
<line x1="356.4" y1="85.91" x2="356.4" y2="80.71" stroke="#d9bd8c" stroke-width="0.7" />
<line x1="354.8" y1="80.71" x2="358" y2="80.71" stroke="#d9bd8c" stroke-width="0.7" />
<rect x="367.8" y="117.19" width="7.3" height="2.56" fill="#5b5b5b" />
<line x1="371.45" y1="117.19" x2="371.45" y2="114.19" stroke="#888888" stroke-width="0.7" />
<line x1="369.85" y1="114.19" x2="373.05" y2="114.19" stroke="#888888" stroke-width="0.7" />
<rect x="376.15" y="81.3" width="7.3" height="38.45" fill="#be914b" />
<line x1="379.8" y1="81.3" x2="379.8" y2="76.1" stroke="#d9bd8c" stroke-width="0.7" />
<line x1="378.2" y1="76.1" x2="381.4" y2="76.1" stroke="#d9bd8c" stroke-width="0.7" />
<line x1="270.3" y1="119.75" x2="387.3" y2="119.75" stroke="#2e2e2e" stroke-width="1" />
<line x1="282.2" y1="119.75" x2="282.2" y2="122.95" stroke="#2e2e2e" stroke-width="1" />
<line x1="305.6" y1="119.75" x2="305.6" y2="122.95" stroke="#2e2e2e" stroke-width="1" />
<line x1="328.9" y1="119.75" x2="328.9" y2="122.95" stroke="#2e2e2e" stroke-width="1" />
<line x1="352.2" y1="119.75" x2="352.2" y2="122.95" stroke="#2e2e2e" stroke-width="1" />
<line x1="375.6" y1="119.75" x2="375.6" y2="122.95" stroke="#2e2e2e" stroke-width="1" />
<circle cx="276" cy="119.15" r="1.35" fill="#fff" stroke="#a8a8a8" stroke-width="0.6"/>
<circle cx="283.8" cy="119.15" r="1.35" fill="#fff" stroke="#d4b47c" stroke-width="0.6"/>
<circle cx="277.5" cy="119.15" r="1.35" fill="#fff" stroke="#a8a8a8" stroke-width="0.6"/>
<circle cx="285.3" cy="119.15" r="1.35" fill="#fff" stroke="#d4b47c" stroke-width="0.6"/>
<circle cx="279" cy="119.15" r="1.35" fill="#fff" stroke="#a8a8a8" stroke-width="0.6"/>
<circle cx="286.8" cy="119.15" r="1.35" fill="#fff" stroke="#d4b47c" stroke-width="0.6"/>
<circle cx="280.5" cy="119.15" r="1.35" fill="#fff" stroke="#a8a8a8" stroke-width="0.6"/>
<circle cx="288.3" cy="119.15" r="1.35" fill="#fff" stroke="#d4b47c" stroke-width="0.6"/>
<circle cx="301.45" cy="113.94" r="1.22" fill="#fff" stroke="#888888" stroke-width="0.5"/>
<circle cx="299.78" cy="114.81" r="1.22" fill="#fff" stroke="#888888" stroke-width="0.5"/>
<circle cx="304.18" cy="114.89" r="1.22" fill="#fff" stroke="#888888" stroke-width="0.5"/>
<circle cx="298.96" cy="115.02" r="1.22" fill="#fff" stroke="#888888" stroke-width="0.5"/>
<circle cx="299.67" cy="115.07" r="1.22" fill="#fff" stroke="#888888" stroke-width="0.5"/>
<circle cx="299.07" cy="115.54" r="1.22" fill="#fff" stroke="#888888" stroke-width="0.5"/>
<circle cx="303.02" cy="115.69" r="1.22" fill="#fff" stroke="#888888" stroke-width="0.5"/>
<circle cx="300.68" cy="116.08" r="1.22" fill="#fff" stroke="#888888" stroke-width="0.5"/>
<circle cx="301.29" cy="116.88" r="1.22" fill="#fff" stroke="#888888" stroke-width="0.5"/>
<circle cx="309.8" cy="86.12" r="1.17" fill="#fff" stroke="#d9bd8c" stroke-width="0.5"/>
<circle cx="310.01" cy="87.43" r="1.17" fill="#fff" stroke="#d9bd8c" stroke-width="0.5"/>
<circle cx="308.16" cy="87.96" r="1.17" fill="#fff" stroke="#d9bd8c" stroke-width="0.5"/>
<circle cx="309.8" cy="90.45" r="1.17" fill="#fff" stroke="#d9bd8c" stroke-width="0.5"/>
<circle cx="309.8" cy="93.54" r="1.17" fill="#fff" stroke="#d9bd8c" stroke-width="0.5"/>
<circle cx="310.92" cy="93.9" r="1.17" fill="#fff" stroke="#d9bd8c" stroke-width="0.5"/>
<circle cx="308.01" cy="95.75" r="1.17" fill="#fff" stroke="#d9bd8c" stroke-width="0.5"/>
<circle cx="308.65" cy="95.78" r="1.17" fill="#fff" stroke="#d9bd8c" stroke-width="0.5"/>
<circle cx="311.33" cy="97.23" r="0.98" fill="#fff"/>
<circle cx="308.31" cy="97.47" r="0.98" fill="#fff"/>
<circle cx="308.46" cy="98.68" r="0.98" fill="#fff"/>
<circle cx="307.97" cy="99.7" r="0.98" fill="#fff"/>
<circle cx="311.25" cy="99.73" r="0.98" fill="#fff"/>
<circle cx="324.75" cy="114.43" r="1.22" fill="#fff" stroke="#888888" stroke-width="0.5"/>
<circle cx="325.44" cy="114.52" r="1.22" fill="#fff" stroke="#888888" stroke-width="0.5"/>
<circle cx="324.86" cy="114.62" r="1.22" fill="#fff" stroke="#888888" stroke-width="0.5"/>
<circle cx="326.95" cy="114.77" r="1.22" fill="#fff" stroke="#888888" stroke-width="0.5"/>
<circle cx="326.11" cy="116.15" r="1.22" fill="#fff" stroke="#888888" stroke-width="0.5"/>
<circle cx="324.04" cy="116.21" r="1.22" fill="#fff" stroke="#888888" stroke-width="0.5"/>
<circle cx="323.17" cy="116.5" r="1.22" fill="#fff" stroke="#888888" stroke-width="0.5"/>
<circle cx="322.59" cy="116.57" r="1.22" fill="#fff" stroke="#888888" stroke-width="0.5"/>
<circle cx="326.55" cy="116.77" r="1.22" fill="#fff" stroke="#888888" stroke-width="0.5"/>
<circle cx="333.1" cy="80.01" r="1.17" fill="#fff" stroke="#d9bd8c" stroke-width="0.5"/>
<circle cx="333.23" cy="81.49" r="1.17" fill="#fff" stroke="#d9bd8c" stroke-width="0.5"/>
<circle cx="335.22" cy="81.93" r="1.17" fill="#fff" stroke="#d9bd8c" stroke-width="0.5"/>
<circle cx="332.11" cy="82.93" r="1.17" fill="#fff" stroke="#d9bd8c" stroke-width="0.5"/>
<circle cx="330.97" cy="83.49" r="1.17" fill="#fff" stroke="#d9bd8c" stroke-width="0.5"/>
<circle cx="333.1" cy="87.17" r="1.17" fill="#fff" stroke="#d9bd8c" stroke-width="0.5"/>
<circle cx="333.1" cy="91.28" r="1.17" fill="#fff" stroke="#d9bd8c" stroke-width="0.5"/>
<circle cx="332.9" cy="92.18" r="0.98" fill="#fff"/>
<circle cx="334.34" cy="92.63" r="0.98" fill="#fff"/>
<circle cx="334.29" cy="92.67" r="0.98" fill="#fff"/>
<circle cx="333.1" cy="95.66" r="0.98" fill="#fff"/>
<circle cx="330.44" cy="97.21" r="0.98" fill="#fff"/>
<circle cx="331.66" cy="97.69" r="0.98" fill="#fff"/>
<circle cx="348.05" cy="113.79" r="1.22" fill="#fff" stroke="#888888" stroke-width="0.5"/>
<circle cx="350.21" cy="113.84" r="1.22" fill="#fff" stroke="#888888" stroke-width="0.5"/>
<circle cx="345.84" cy="114.98" r="1.22" fill="#fff" stroke="#888888" stroke-width="0.5"/>
<circle cx="345.63" cy="115.07" r="1.22" fill="#fff" stroke="#888888" stroke-width="0.5"/>
<circle cx="346.44" cy="115.08" r="1.22" fill="#fff" stroke="#888888" stroke-width="0.5"/>
<circle cx="349.95" cy="115.24" r="1.22" fill="#fff" stroke="#888888" stroke-width="0.5"/>
<circle cx="345.29" cy="115.47" r="1.22" fill="#fff" stroke="#888888" stroke-width="0.5"/>
<circle cx="346.46" cy="115.78" r="1.22" fill="#fff" stroke="#888888" stroke-width="0.5"/>
<circle cx="345.77" cy="116.48" r="1.22" fill="#fff" stroke="#888888" stroke-width="0.5"/>
<circle cx="356.4" cy="73.99" r="1.17" fill="#fff" stroke="#d9bd8c" stroke-width="0.5"/>
<circle cx="357.93" cy="76.67" r="1.17" fill="#fff" stroke="#d9bd8c" stroke-width="0.5"/>
<circle cx="354.87" cy="77.42" r="1.17" fill="#fff" stroke="#d9bd8c" stroke-width="0.5"/>
<circle cx="356.4" cy="82" r="1.17" fill="#fff" stroke="#d9bd8c" stroke-width="0.5"/>
<circle cx="356.73" cy="83.06" r="1.17" fill="#fff" stroke="#d9bd8c" stroke-width="0.5"/>
<circle cx="359.22" cy="83.89" r="1.17" fill="#fff" stroke="#d9bd8c" stroke-width="0.5"/>
<circle cx="355.54" cy="84.16" r="1.17" fill="#fff" stroke="#d9bd8c" stroke-width="0.5"/>
<circle cx="356.4" cy="87.66" r="0.98" fill="#fff"/>
<circle cx="355.03" cy="88.52" r="0.98" fill="#fff"/>
<circle cx="355.73" cy="88.71" r="0.98" fill="#fff"/>
<circle cx="357.93" cy="90.45" r="0.98" fill="#fff"/>
<circle cx="356.4" cy="93.17" r="0.98" fill="#fff"/>
<circle cx="356.4" cy="97.23" r="0.98" fill="#fff"/>
<circle cx="371.45" cy="114.62" r="1.22" fill="#fff" stroke="#888888" stroke-width="0.5"/>
<circle cx="370.46" cy="114.67" r="1.22" fill="#fff" stroke="#888888" stroke-width="0.5"/>
<circle cx="372.29" cy="114.88" r="1.22" fill="#fff" stroke="#888888" stroke-width="0.5"/>
<circle cx="373.55" cy="115.21" r="1.22" fill="#fff" stroke="#888888" stroke-width="0.5"/>
<circle cx="371.92" cy="115.3" r="1.22" fill="#fff" stroke="#888888" stroke-width="0.5"/>
<circle cx="370.82" cy="115.45" r="1.22" fill="#fff" stroke="#888888" stroke-width="0.5"/>
<circle cx="370.42" cy="116.45" r="1.22" fill="#fff" stroke="#888888" stroke-width="0.5"/>
<circle cx="372.15" cy="116.46" r="1.22" fill="#fff" stroke="#888888" stroke-width="0.5"/>
<circle cx="372.19" cy="116.77" r="1.22" fill="#fff" stroke="#888888" stroke-width="0.5"/>
<circle cx="379.8" cy="74.15" r="1.17" fill="#fff" stroke="#d9bd8c" stroke-width="0.5"/>
<circle cx="381.33" cy="76.87" r="1.17" fill="#fff" stroke="#d9bd8c" stroke-width="0.5"/>
<circle cx="378.27" cy="77.61" r="1.17" fill="#fff" stroke="#d9bd8c" stroke-width="0.5"/>
<circle cx="381.66" cy="78.6" r="1.17" fill="#fff" stroke="#d9bd8c" stroke-width="0.5"/>
<circle cx="377.8" cy="79.15" r="1.17" fill="#fff" stroke="#d9bd8c" stroke-width="0.5"/>
<circle cx="378.07" cy="79.75" r="1.17" fill="#fff" stroke="#d9bd8c" stroke-width="0.5"/>
<circle cx="378.62" cy="80.66" r="1.17" fill="#fff" stroke="#d9bd8c" stroke-width="0.5"/>
<circle cx="381.33" cy="82.11" r="1.17" fill="#fff" stroke="#d9bd8c" stroke-width="0.5"/>
<circle cx="378.29" cy="83.34" r="0.98" fill="#fff"/>
<circle cx="377.91" cy="84.33" r="0.98" fill="#fff"/>
<circle cx="381.33" cy="86.25" r="0.98" fill="#fff"/>
<circle cx="379.8" cy="92.21" r="0.98" fill="#fff"/>
<circle cx="379.8" cy="97.13" r="0.98" fill="#fff"/>
<text font-size="8.2" text-anchor="middle" transform="translate(282.2 131.4) scale(1.02 1.15)">Naïve</text>
<text font-size="8.2" text-anchor="middle" transform="translate(305.6 131.4) scale(1.02 1.15)">7</text>
<text font-size="8.2" text-anchor="middle" transform="translate(328.9 131.4) scale(1.02 1.15)">10</text>
<text font-size="8.2" text-anchor="middle" transform="translate(352.2 131.4) scale(1.02 1.15)">13</text>
<text font-size="8.2" text-anchor="middle" transform="translate(375.6 131.4) scale(1.02 1.15)">16</text>
<text font-size="8.2" text-anchor="middle" transform="translate(329 144.2) scale(1.02 1.15)">Days post-tumor inoculation</text>
<path d="M301.7,45.4V41.8H309.5V45.4" fill="none" stroke="#666" stroke-width="0.75"/>
<polygon points="304.05,36.65 304.45,37.45 305.33,37.58 304.69,38.21 304.84,39.09 304.05,38.67 303.26,39.09 303.41,38.21 302.77,37.58 303.65,37.45" fill="#111" stroke="#111" stroke-width="0.47" stroke-linejoin="round"/>
<polygon points="307.15,36.65 307.55,37.45 308.43,37.58 307.79,38.21 307.94,39.09 307.15,38.67 306.36,39.09 306.51,38.21 305.87,37.58 306.75,37.45" fill="#111" stroke="#111" stroke-width="0.47" stroke-linejoin="round"/>
<path d="M325,45.4V41.8H332.8V45.4" fill="none" stroke="#666" stroke-width="0.75"/>
<polygon points="327.35,36.65 327.75,37.45 328.63,37.58 327.99,38.21 328.14,39.09 327.35,38.67 326.56,39.09 326.71,38.21 326.07,37.58 326.95,37.45" fill="#111" stroke="#111" stroke-width="0.47" stroke-linejoin="round"/>
<polygon points="330.45,36.65 330.85,37.45 331.73,37.58 331.09,38.21 331.24,39.09 330.45,38.67 329.66,39.09 329.81,38.21 329.17,37.58 330.05,37.45" fill="#111" stroke="#111" stroke-width="0.47" stroke-linejoin="round"/>
<path d="M348.3,45.4V41.8H356.1V45.4" fill="none" stroke="#666" stroke-width="0.75"/>
<polygon points="350.65,36.65 351.05,37.45 351.93,37.58 351.29,38.21 351.44,39.09 350.65,38.67 349.86,39.09 350.01,38.21 349.37,37.58 350.25,37.45" fill="#111" stroke="#111" stroke-width="0.47" stroke-linejoin="round"/>
<polygon points="353.75,36.65 354.15,37.45 355.03,37.58 354.39,38.21 354.54,39.09 353.75,38.67 352.96,39.09 353.11,38.21 352.47,37.58 353.35,37.45" fill="#111" stroke="#111" stroke-width="0.47" stroke-linejoin="round"/>
<path d="M371.7,45.4V41.8H379.5V45.4" fill="none" stroke="#666" stroke-width="0.75"/>
<polygon points="374.05,36.65 374.45,37.45 375.33,37.58 374.69,38.21 374.84,39.09 374.05,38.67 373.26,39.09 373.41,38.21 372.77,37.58 373.65,37.45" fill="#111" stroke="#111" stroke-width="0.47" stroke-linejoin="round"/>
<polygon points="377.15,36.65 377.55,37.45 378.43,37.58 377.79,38.21 377.94,39.09 377.15,38.67 376.36,39.09 376.51,38.21 375.87,37.58 376.75,37.45" fill="#111" stroke="#111" stroke-width="0.47" stroke-linejoin="round"/>
<text font-size="12" font-weight="bold" fill="#000" transform="translate(430.9 10.8) scale(1 1)">c</text>
<text font-size="8.1" text-anchor="middle" font-weight="bold" fill="#111" transform="translate(509.3 28.8) scale(1.02 1.15)">Circulating TCR<tspan font-size="5" dy="2.9">2C</tspan><tspan font-size="5" dy="-5.9">+</tspan><tspan dy="3">CD8</tspan><tspan font-size="5" dy="-3">+</tspan><tspan dy="3"> donor cells</tspan></text>
<text font-size="8.2" text-anchor="middle" transform="translate(415.4 87.1) rotate(-90) scale(1.02 1.15)">Relative <tspan font-style="italic">Zeb2</tspan> mRNA</text>
<text font-size="8.2" text-anchor="middle" transform="translate(424.8 84) rotate(-90) scale(1.02 1.15)">expression in SIY-reactive</text>
<text font-size="8.2" text-anchor="middle" transform="translate(435.2 84.6) rotate(-90) scale(1.02 1.15)">donor cells (fold-change)</text>
<line x1="462.5" y1="41.65" x2="462.5" y2="120.8" stroke="#2e2e2e" stroke-width="1" />
<line x1="459.5" y1="42.15" x2="462.5" y2="42.15" stroke="#2e2e2e" stroke-width="1" />
<text font-size="8.2" text-anchor="end" transform="translate(458.3 44.61) scale(1.02 1.15)">250</text>
<line x1="459.5" y1="57.78" x2="462.5" y2="57.78" stroke="#2e2e2e" stroke-width="1" />
<text font-size="8.2" text-anchor="end" transform="translate(458.3 60.24) scale(1.02 1.15)">200</text>
<line x1="459.5" y1="73.41" x2="462.5" y2="73.41" stroke="#2e2e2e" stroke-width="1" />
<text font-size="8.2" text-anchor="end" transform="translate(458.3 75.87) scale(1.02 1.15)">150</text>
<line x1="459.5" y1="89.04" x2="462.5" y2="89.04" stroke="#2e2e2e" stroke-width="1" />
<text font-size="8.2" text-anchor="end" transform="translate(458.3 91.5) scale(1.02 1.15)">100</text>
<line x1="459.5" y1="104.67" x2="462.5" y2="104.67" stroke="#2e2e2e" stroke-width="1" />
<text font-size="8.2" text-anchor="end" transform="translate(458.3 107.13) scale(1.02 1.15)">50</text>
<line x1="459.5" y1="120.3" x2="462.5" y2="120.3" stroke="#2e2e2e" stroke-width="1" />
<text font-size="8.2" text-anchor="end" transform="translate(458.3 122.76) scale(1.02 1.15)">0</text>
<rect x="490.1" y="119.7" width="7.4" height="0.6" fill="#5b5b5b" />
<rect x="498.05" y="115.92" width="7.4" height="4.38" fill="#be914b" />
<line x1="501.75" y1="115.92" x2="501.75" y2="114.16" stroke="#d9bd8c" stroke-width="0.7" />
<line x1="500.15" y1="114.16" x2="503.35" y2="114.16" stroke="#d9bd8c" stroke-width="0.7" />
<rect x="513.6" y="119.7" width="7.4" height="0.6" fill="#5b5b5b" />
<rect x="521.55" y="94.51" width="7.4" height="25.79" fill="#be914b" />
<line x1="525.25" y1="94.51" x2="525.25" y2="89.23" stroke="#d9bd8c" stroke-width="0.7" />
<line x1="523.65" y1="89.23" x2="526.85" y2="89.23" stroke="#d9bd8c" stroke-width="0.7" />
<rect x="537.1" y="119.7" width="7.4" height="0.6" fill="#5b5b5b" />
<rect x="545.05" y="80.29" width="7.4" height="40.01" fill="#be914b" />
<line x1="548.75" y1="80.29" x2="548.75" y2="73.14" stroke="#d9bd8c" stroke-width="0.7" />
<line x1="547.15" y1="73.14" x2="550.35" y2="73.14" stroke="#d9bd8c" stroke-width="0.7" />
<rect x="560.5" y="119.7" width="7.4" height="0.6" fill="#5b5b5b" />
<rect x="568.45" y="64.03" width="7.4" height="56.27" fill="#be914b" />
<line x1="572.15" y1="64.03" x2="572.15" y2="51.93" stroke="#d9bd8c" stroke-width="0.7" />
<line x1="570.55" y1="51.93" x2="573.75" y2="51.93" stroke="#d9bd8c" stroke-width="0.7" />
<line x1="462.5" y1="120.3" x2="579.5" y2="120.3" stroke="#2e2e2e" stroke-width="1" />
<line x1="473.9" y1="120.3" x2="473.9" y2="123.5" stroke="#2e2e2e" stroke-width="1" />
<line x1="497.5" y1="120.3" x2="497.5" y2="123.5" stroke="#2e2e2e" stroke-width="1" />
<line x1="521" y1="120.3" x2="521" y2="123.5" stroke="#2e2e2e" stroke-width="1" />
<line x1="544.5" y1="120.3" x2="544.5" y2="123.5" stroke="#2e2e2e" stroke-width="1" />
<line x1="567.9" y1="120.3" x2="567.9" y2="123.5" stroke="#2e2e2e" stroke-width="1" />
<circle cx="467.7" cy="119.7" r="1.35" fill="#fff" stroke="#a8a8a8" stroke-width="0.6"/>
<circle cx="475.5" cy="119.7" r="1.35" fill="#fff" stroke="#d4b47c" stroke-width="0.6"/>
<circle cx="469.2" cy="119.7" r="1.35" fill="#fff" stroke="#a8a8a8" stroke-width="0.6"/>
<circle cx="477" cy="119.7" r="1.35" fill="#fff" stroke="#d4b47c" stroke-width="0.6"/>
<circle cx="470.7" cy="119.7" r="1.35" fill="#fff" stroke="#a8a8a8" stroke-width="0.6"/>
<circle cx="478.5" cy="119.7" r="1.35" fill="#fff" stroke="#d4b47c" stroke-width="0.6"/>
<circle cx="472.2" cy="119.7" r="1.35" fill="#fff" stroke="#a8a8a8" stroke-width="0.6"/>
<circle cx="480" cy="119.7" r="1.35" fill="#fff" stroke="#d4b47c" stroke-width="0.6"/>
<circle cx="491.3" cy="119.7" r="1.35" fill="#fff" stroke="#a8a8a8" stroke-width="0.6"/>
<circle cx="492.8" cy="119.7" r="1.35" fill="#fff" stroke="#a8a8a8" stroke-width="0.6"/>
<circle cx="494.3" cy="119.7" r="1.35" fill="#fff" stroke="#a8a8a8" stroke-width="0.6"/>
<circle cx="495.8" cy="119.7" r="1.35" fill="#fff" stroke="#a8a8a8" stroke-width="0.6"/>
<circle cx="501.75" cy="113.62" r="1.17" fill="#fff" stroke="#d9bd8c" stroke-width="0.5"/>
<circle cx="502.53" cy="114.15" r="1.17" fill="#fff" stroke="#d9bd8c" stroke-width="0.5"/>
<circle cx="503.84" cy="114.64" r="1.17" fill="#fff" stroke="#d9bd8c" stroke-width="0.5"/>
<circle cx="499.85" cy="114.78" r="1.17" fill="#fff" stroke="#d9bd8c" stroke-width="0.5"/>
<circle cx="503.61" cy="115.79" r="1.17" fill="#fff" stroke="#d9bd8c" stroke-width="0.5"/>
<circle cx="503.57" cy="116" r="1.17" fill="#fff" stroke="#d9bd8c" stroke-width="0.5"/>
<circle cx="504.46" cy="116.1" r="1.17" fill="#fff" stroke="#d9bd8c" stroke-width="0.5"/>
<circle cx="500.11" cy="116.13" r="1.17" fill="#fff" stroke="#d9bd8c" stroke-width="0.5"/>
<circle cx="503.14" cy="116.69" r="1.17" fill="#fff" stroke="#d9bd8c" stroke-width="0.5"/>
<circle cx="501.5" cy="116.91" r="1.17" fill="#fff" stroke="#d9bd8c" stroke-width="0.5"/>
<circle cx="504.41" cy="117.36" r="0.98" fill="#fff"/>
<circle cx="503.33" cy="117.63" r="0.98" fill="#fff"/>
<circle cx="498.93" cy="118.29" r="0.98" fill="#fff"/>
<circle cx="514.8" cy="119.7" r="1.35" fill="#fff" stroke="#a8a8a8" stroke-width="0.6"/>
<circle cx="516.3" cy="119.7" r="1.35" fill="#fff" stroke="#a8a8a8" stroke-width="0.6"/>
<circle cx="517.8" cy="119.7" r="1.35" fill="#fff" stroke="#a8a8a8" stroke-width="0.6"/>
<circle cx="519.3" cy="119.7" r="1.35" fill="#fff" stroke="#a8a8a8" stroke-width="0.6"/>
<circle cx="525.25" cy="89.37" r="1.17" fill="#fff" stroke="#d9bd8c" stroke-width="0.5"/>
<circle cx="523.61" cy="89.96" r="1.17" fill="#fff" stroke="#d9bd8c" stroke-width="0.5"/>
<circle cx="523.08" cy="90.19" r="1.17" fill="#fff" stroke="#d9bd8c" stroke-width="0.5"/>
<circle cx="525.25" cy="92.72" r="1.17" fill="#fff" stroke="#d9bd8c" stroke-width="0.5"/>
<circle cx="528.04" cy="93.21" r="1.17" fill="#fff" stroke="#d9bd8c" stroke-width="0.5"/>
<circle cx="526.3" cy="93.87" r="1.17" fill="#fff" stroke="#d9bd8c" stroke-width="0.5"/>
<circle cx="525.57" cy="94.07" r="1.17" fill="#fff" stroke="#d9bd8c" stroke-width="0.5"/>
<circle cx="527.37" cy="95.01" r="1.17" fill="#fff" stroke="#d9bd8c" stroke-width="0.5"/>
<circle cx="527.89" cy="95.2" r="1.17" fill="#fff" stroke="#d9bd8c" stroke-width="0.5"/>
<circle cx="524.53" cy="95.74" r="0.98" fill="#fff"/>
<circle cx="527.36" cy="96.82" r="0.98" fill="#fff"/>
<circle cx="524.02" cy="97.92" r="0.98" fill="#fff"/>
<circle cx="526.78" cy="100.34" r="0.98" fill="#fff"/>
<circle cx="538.3" cy="119.7" r="1.35" fill="#fff" stroke="#a8a8a8" stroke-width="0.6"/>
<circle cx="539.8" cy="119.7" r="1.35" fill="#fff" stroke="#a8a8a8" stroke-width="0.6"/>
<circle cx="541.3" cy="119.7" r="1.35" fill="#fff" stroke="#a8a8a8" stroke-width="0.6"/>
<circle cx="542.8" cy="119.7" r="1.35" fill="#fff" stroke="#a8a8a8" stroke-width="0.6"/>
<circle cx="548.75" cy="70.61" r="1.17" fill="#fff" stroke="#d9bd8c" stroke-width="0.5"/>
<circle cx="548.11" cy="70.77" r="1.17" fill="#fff" stroke="#d9bd8c" stroke-width="0.5"/>
<circle cx="548.75" cy="73.77" r="1.17" fill="#fff" stroke="#d9bd8c" stroke-width="0.5"/>
<circle cx="548.71" cy="75.87" r="1.17" fill="#fff" stroke="#d9bd8c" stroke-width="0.5"/>
<circle cx="551.23" cy="77.54" r="1.17" fill="#fff" stroke="#d9bd8c" stroke-width="0.5"/>
<circle cx="550.63" cy="77.59" r="1.17" fill="#fff" stroke="#d9bd8c" stroke-width="0.5"/>
<circle cx="547.22" cy="78.64" r="1.17" fill="#fff" stroke="#d9bd8c" stroke-width="0.5"/>
<circle cx="549.77" cy="79.62" r="1.17" fill="#fff" stroke="#d9bd8c" stroke-width="0.5"/>
<circle cx="548.75" cy="82.64" r="0.98" fill="#fff"/>
<circle cx="547.47" cy="83.67" r="0.98" fill="#fff"/>
<circle cx="550.28" cy="85.04" r="0.98" fill="#fff"/>
<circle cx="547.22" cy="86.46" r="0.98" fill="#fff"/>
<circle cx="551.31" cy="87.39" r="0.98" fill="#fff"/>
<circle cx="561.7" cy="119.7" r="1.35" fill="#fff" stroke="#a8a8a8" stroke-width="0.6"/>
<circle cx="563.2" cy="119.7" r="1.35" fill="#fff" stroke="#a8a8a8" stroke-width="0.6"/>
<circle cx="564.7" cy="119.7" r="1.35" fill="#fff" stroke="#a8a8a8" stroke-width="0.6"/>
<circle cx="566.2" cy="119.7" r="1.35" fill="#fff" stroke="#a8a8a8" stroke-width="0.6"/>
<circle cx="572.15" cy="54.37" r="1.17" fill="#fff" stroke="#d9bd8c" stroke-width="0.5"/>
<circle cx="572.15" cy="59.01" r="1.17" fill="#fff" stroke="#d9bd8c" stroke-width="0.5"/>
<circle cx="572.15" cy="65.8" r="0.98" fill="#fff"/>
<circle cx="571.51" cy="66.33" r="0.98" fill="#fff"/>
<circle cx="570.32" cy="66.88" r="0.98" fill="#fff"/>
<circle cx="573.68" cy="68.27" r="0.98" fill="#fff"/>
<circle cx="572.15" cy="71.25" r="0.98" fill="#fff"/>
<circle cx="571.46" cy="71.77" r="0.98" fill="#fff"/>
<circle cx="572.53" cy="72.66" r="0.98" fill="#fff"/>
<circle cx="574.8" cy="72.68" r="0.98" fill="#fff"/>
<circle cx="572.15" cy="77.71" r="0.98" fill="#fff"/>
<circle cx="573.68" cy="80.28" r="0.98" fill="#fff"/>
<circle cx="570.62" cy="82.36" r="0.98" fill="#fff"/>
<text font-size="8.2" text-anchor="middle" transform="translate(473.9 132) scale(1.02 1.15)">Naïve</text>
<text font-size="8.2" text-anchor="middle" transform="translate(497.5 132) scale(1.02 1.15)">7</text>
<text font-size="8.2" text-anchor="middle" transform="translate(521 132) scale(1.02 1.15)">10</text>
<text font-size="8.2" text-anchor="middle" transform="translate(544.5 132) scale(1.02 1.15)">13</text>
<text font-size="8.2" text-anchor="middle" transform="translate(567.9 132) scale(1.02 1.15)">16</text>
<text font-size="8.2" text-anchor="middle" transform="translate(520.8 144.6) scale(1.02 1.15)">Days post-tumor inoculation</text>
<path d="M493.6,45.4V41.8H501.4V45.4" fill="none" stroke="#666" stroke-width="0.75"/>
<polygon points="495.95,36.65 496.35,37.45 497.23,37.58 496.59,38.21 496.74,39.09 495.95,38.67 495.16,39.09 495.31,38.21 494.67,37.58 495.55,37.45" fill="#111" stroke="#111" stroke-width="0.47" stroke-linejoin="round"/>
<polygon points="499.05,36.65 499.45,37.45 500.33,37.58 499.69,38.21 499.84,39.09 499.05,38.67 498.26,39.09 498.41,38.21 497.77,37.58 498.65,37.45" fill="#111" stroke="#111" stroke-width="0.47" stroke-linejoin="round"/>
<path d="M517.1,45.4V41.8H524.9V45.4" fill="none" stroke="#666" stroke-width="0.75"/>
<polygon points="519.45,36.65 519.85,37.45 520.73,37.58 520.09,38.21 520.24,39.09 519.45,38.67 518.66,39.09 518.81,38.21 518.17,37.58 519.05,37.45" fill="#111" stroke="#111" stroke-width="0.47" stroke-linejoin="round"/>
<polygon points="522.55,36.65 522.95,37.45 523.83,37.58 523.19,38.21 523.34,39.09 522.55,38.67 521.76,39.09 521.91,38.21 521.27,37.58 522.15,37.45" fill="#111" stroke="#111" stroke-width="0.47" stroke-linejoin="round"/>
<path d="M540.6,45.4V41.8H548.4V45.4" fill="none" stroke="#666" stroke-width="0.75"/>
<polygon points="542.95,36.65 543.35,37.45 544.23,37.58 543.59,38.21 543.74,39.09 542.95,38.67 542.16,39.09 542.31,38.21 541.67,37.58 542.55,37.45" fill="#111" stroke="#111" stroke-width="0.47" stroke-linejoin="round"/>
<polygon points="546.05,36.65 546.45,37.45 547.33,37.58 546.69,38.21 546.84,39.09 546.05,38.67 545.26,39.09 545.41,38.21 544.77,37.58 545.65,37.45" fill="#111" stroke="#111" stroke-width="0.47" stroke-linejoin="round"/>
<path d="M564,45.4V41.8H571.8V45.4" fill="none" stroke="#666" stroke-width="0.75"/>
<polygon points="566.35,36.65 566.75,37.45 567.63,37.58 566.99,38.21 567.14,39.09 566.35,38.67 565.56,39.09 565.71,38.21 565.07,37.58 565.95,37.45" fill="#111" stroke="#111" stroke-width="0.47" stroke-linejoin="round"/>
<polygon points="569.45,36.65 569.85,37.45 570.73,37.58 570.09,38.21 570.24,39.09 569.45,38.67 568.66,39.09 568.81,38.21 568.17,37.58 569.05,37.45" fill="#111" stroke="#111" stroke-width="0.47" stroke-linejoin="round"/>
<circle cx="595.2" cy="80.1" r="1.6" fill="#5b5b5b"/>
<circle cx="595.2" cy="93.5" r="1.6" fill="#be914b"/>
<text font-size="8.7" fill="#333" transform="translate(604.3 83.4) scale(1 1.15)">T<tspan font-size="6.2" dy="1.9">ems</tspan><tspan dy="-1.9">(Klrg1</tspan><tspan font-size="6.2" dy="-3.2">lo</tspan><tspan dy="3.2">IL-7Rα</tspan><tspan font-size="6.2" dy="-3.2">hi</tspan><tspan dy="3.2">)</tspan></text>
<text font-size="8.7" fill="#333" transform="translate(604.3 96.9) scale(1 1.15)">T<tspan font-size="6.2" dy="1.9">eff</tspan><tspan dy="-1.9">(Klrg1</tspan><tspan font-size="6.2" dy="-3.2">hi</tspan><tspan dy="3.2">IL-7Rα</tspan><tspan font-size="6.2" dy="-3.2">lo</tspan><tspan dy="3.2">)</tspan></text>
<text font-size="12" font-weight="bold" fill="#000" transform="translate(14.6 171.2) scale(1 1)">d</text>
<text font-size="8.1" text-anchor="middle" font-weight="bold" fill="#111" transform="translate(100.5 178.2) scale(1.02 1.15)">Circulating endogenous cells</text>
<text font-size="8" text-anchor="middle" transform="translate(7.8 229.1) rotate(-90) scale(1.02 1.15)">SIY-reactive CD8+ cells</text>
<text font-size="8.2" text-anchor="middle" transform="translate(17.6 232.1) rotate(-90) scale(1.02 1.15)">(% of PBLs)</text>
<line x1="41.6" y1="188.5" x2="41.6" y2="266.7" stroke="#2e2e2e" stroke-width="1" />
<line x1="38.6" y1="189" x2="41.6" y2="189" stroke="#2e2e2e" stroke-width="1" />
<text font-size="8.2" text-anchor="end" transform="translate(37.4 191.46) scale(1.02 1.15)">2.0</text>
<line x1="38.6" y1="208.3" x2="41.6" y2="208.3" stroke="#2e2e2e" stroke-width="1" />
<text font-size="8.2" text-anchor="end" transform="translate(37.4 210.76) scale(1.02 1.15)">1.5</text>
<line x1="38.6" y1="227.6" x2="41.6" y2="227.6" stroke="#2e2e2e" stroke-width="1" />
<text font-size="8.2" text-anchor="end" transform="translate(37.4 230.06) scale(1.02 1.15)">1.0</text>
<line x1="38.6" y1="246.9" x2="41.6" y2="246.9" stroke="#2e2e2e" stroke-width="1" />
<text font-size="8.2" text-anchor="end" transform="translate(37.4 249.36) scale(1.02 1.15)">0.5</text>
<line x1="38.6" y1="266.2" x2="41.6" y2="266.2" stroke="#2e2e2e" stroke-width="1" />
<text font-size="8.2" text-anchor="end" transform="translate(37.4 268.66) scale(1.02 1.15)">0.0</text>
<line x1="41.6" y1="266.2" x2="156" y2="266.2" stroke="#2e2e2e" stroke-width="1" />
<line x1="58.9" y1="266.2" x2="58.9" y2="269.4" stroke="#2e2e2e" stroke-width="1" />
<line x1="86" y1="266.2" x2="86" y2="269.4" stroke="#2e2e2e" stroke-width="1" />
<line x1="112.8" y1="266.2" x2="112.8" y2="269.4" stroke="#2e2e2e" stroke-width="1" />
<line x1="139.7" y1="266.2" x2="139.7" y2="269.4" stroke="#2e2e2e" stroke-width="1" />
<text font-size="8.2" text-anchor="middle" transform="translate(58.9 278) scale(1.02 1.15)">7</text>
<text font-size="8.2" text-anchor="middle" transform="translate(86 278) scale(1.02 1.15)">10</text>
<text font-size="8.2" text-anchor="middle" transform="translate(112.8 278) scale(1.02 1.15)">13</text>
<text font-size="8.2" text-anchor="middle" transform="translate(139.7 278) scale(1.02 1.15)">16</text>
<text font-size="8.2" text-anchor="middle" transform="translate(98.8 290.6) scale(1.02 1.15)">Days post-tumor inoculation</text>
<polyline points="58.9,237.25 86,257.9 112.8,261.57 139.7,265.04" fill="none" stroke="#be914b" stroke-width="0.8"/>
<line x1="58.9" y1="231.45" x2="58.9" y2="243.05" stroke="#d8bc8a" stroke-width="0.6" />
<line x1="57.2" y1="231.45" x2="60.6" y2="231.45" stroke="#d8bc8a" stroke-width="0.6" />
<line x1="57.2" y1="243.05" x2="60.6" y2="243.05" stroke="#d8bc8a" stroke-width="0.6" />
<circle cx="58.9" cy="237.25" r="1.5" fill="#fff" stroke="#be914b" stroke-width="0.6"/>
<circle cx="86" cy="257.9" r="1.5" fill="#fff" stroke="#be914b" stroke-width="0.6"/>
<circle cx="112.8" cy="261.57" r="1.5" fill="#fff" stroke="#be914b" stroke-width="0.6"/>
<circle cx="139.7" cy="265.04" r="1.5" fill="#fff" stroke="#be914b" stroke-width="0.6"/>
<polyline points="58.9,209.46 86,226.44 112.8,255.78 139.7,264.66" fill="none" stroke="#555" stroke-width="0.8"/>
<line x1="58.9" y1="198.16" x2="58.9" y2="220.76" stroke="#bbb" stroke-width="0.6" />
<line x1="57.2" y1="198.16" x2="60.6" y2="198.16" stroke="#bbb" stroke-width="0.6" />
<line x1="57.2" y1="220.76" x2="60.6" y2="220.76" stroke="#bbb" stroke-width="0.6" />
<circle cx="58.9" cy="209.46" r="1.5" fill="#fff" stroke="#555" stroke-width="0.6"/>
<line x1="86" y1="218.64" x2="86" y2="234.24" stroke="#bbb" stroke-width="0.6" />
<line x1="84.3" y1="218.64" x2="87.7" y2="218.64" stroke="#bbb" stroke-width="0.6" />
<line x1="84.3" y1="234.24" x2="87.7" y2="234.24" stroke="#bbb" stroke-width="0.6" />
<circle cx="86" cy="226.44" r="1.5" fill="#fff" stroke="#555" stroke-width="0.6"/>
<line x1="112.8" y1="254.58" x2="112.8" y2="256.98" stroke="#bbb" stroke-width="0.6" />
<line x1="111.1" y1="254.58" x2="114.5" y2="254.58" stroke="#bbb" stroke-width="0.6" />
<line x1="111.1" y1="256.98" x2="114.5" y2="256.98" stroke="#bbb" stroke-width="0.6" />
<circle cx="112.8" cy="255.78" r="1.5" fill="#fff" stroke="#555" stroke-width="0.6"/>
<circle cx="139.7" cy="264.66" r="1.5" fill="#fff" stroke="#555" stroke-width="0.6"/>
<polygon points="57,187.8 57.56,188.93 58.81,189.11 57.9,189.99 58.12,191.24 57,190.65 55.88,191.24 56.1,189.99 55.19,189.11 56.44,188.93" fill="#111" stroke="#111" stroke-width="0.66" stroke-linejoin="round"/>
<polygon points="61.6,187.8 62.16,188.93 63.41,189.11 62.5,189.99 62.72,191.24 61.6,190.65 60.48,191.24 60.7,189.99 59.79,189.11 61.04,188.93" fill="#111" stroke="#111" stroke-width="0.66" stroke-linejoin="round"/>
<polygon points="83.7,209 84.26,210.13 85.51,210.31 84.6,211.19 84.82,212.44 83.7,211.85 82.58,212.44 82.8,211.19 81.89,210.31 83.14,210.13" fill="#111" stroke="#111" stroke-width="0.66" stroke-linejoin="round"/>
<polygon points="88.3,209 88.86,210.13 90.11,210.31 89.2,211.19 89.42,212.44 88.3,211.85 87.18,212.44 87.4,211.19 86.49,210.31 87.74,210.13" fill="#111" stroke="#111" stroke-width="0.66" stroke-linejoin="round"/>
<polygon points="110.4,242.9 110.96,244.03 112.21,244.21 111.3,245.09 111.52,246.34 110.4,245.75 109.28,246.34 109.5,245.09 108.59,244.21 109.84,244.03" fill="#111" stroke="#111" stroke-width="0.66" stroke-linejoin="round"/>
<polygon points="115,242.9 115.56,244.03 116.81,244.21 115.9,245.09 116.12,246.34 115,245.75 113.88,246.34 114.1,245.09 113.19,244.21 114.44,244.03" fill="#111" stroke="#111" stroke-width="0.66" stroke-linejoin="round"/>
<line x1="174.9" y1="222.2" x2="183.6" y2="222.2" stroke="#555" stroke-width="0.7" />
<circle cx="179.25" cy="222.2" r="1.5" fill="#fff" stroke="#555" stroke-width="0.6"/>
<text font-size="8.6" font-style="italic" fill="#222" transform="translate(188 225.8) scale(1.02 1.15)">Zeb2<tspan font-size="6.3" dy="-3.6">fl/fl</tspan></text>
<line x1="174.9" y1="236.8" x2="183.6" y2="236.8" stroke="#be914b" stroke-width="0.7" />
<circle cx="179.25" cy="236.8" r="1.5" fill="#fff" stroke="#be914b" stroke-width="0.6"/>
<text font-size="8.6" font-style="italic" fill="#222" transform="translate(188 240.4) scale(1.02 1.15)">Zeb2<tspan font-size="6.3" dy="-3.6">-/-</tspan></text>
<text font-size="12" font-weight="bold" fill="#000" transform="translate(255.2 171.1) scale(1 1)">e</text>
<text font-size="8.1" text-anchor="middle" font-weight="bold" fill="#111" transform="translate(344.4 178.2) scale(1.02 1.15)">Circulating TCR<tspan font-size="5" dy="2.9">2C</tspan><tspan font-size="5" dy="-5.9">+</tspan><tspan dy="3">CD8</tspan><tspan font-size="5" dy="-3">+</tspan><tspan dy="3"> donor cells</tspan></text>
<text font-size="8.2" text-anchor="middle" transform="translate(274.6 231) rotate(-90) scale(1.02 1.15)">SIY-reactive donor cells</text>
<text font-size="8.2" text-anchor="middle" transform="translate(284.4 234.4) rotate(-90) scale(1.02 1.15)">(% of PBLs)</text>
<line x1="303.6" y1="190.05" x2="303.6" y2="267.3" stroke="#2e2e2e" stroke-width="1" />
<line x1="300.6" y1="190.55" x2="303.6" y2="190.55" stroke="#2e2e2e" stroke-width="1" />
<text font-size="8.2" text-anchor="end" transform="translate(299.4 193.01) scale(1.02 1.15)">5</text>
<line x1="300.6" y1="205.8" x2="303.6" y2="205.8" stroke="#2e2e2e" stroke-width="1" />
<text font-size="8.2" text-anchor="end" transform="translate(299.4 208.26) scale(1.02 1.15)">4</text>
<line x1="300.6" y1="221.05" x2="303.6" y2="221.05" stroke="#2e2e2e" stroke-width="1" />
<text font-size="8.2" text-anchor="end" transform="translate(299.4 223.51) scale(1.02 1.15)">3</text>
<line x1="300.6" y1="236.3" x2="303.6" y2="236.3" stroke="#2e2e2e" stroke-width="1" />
<text font-size="8.2" text-anchor="end" transform="translate(299.4 238.76) scale(1.02 1.15)">2</text>
<line x1="300.6" y1="251.55" x2="303.6" y2="251.55" stroke="#2e2e2e" stroke-width="1" />
<text font-size="8.2" text-anchor="end" transform="translate(299.4 254.01) scale(1.02 1.15)">1</text>
<line x1="300.6" y1="266.8" x2="303.6" y2="266.8" stroke="#2e2e2e" stroke-width="1" />
<text font-size="8.2" text-anchor="end" transform="translate(299.4 269.26) scale(1.02 1.15)">0</text>
<line x1="303.6" y1="266.8" x2="418.3" y2="266.8" stroke="#2e2e2e" stroke-width="1" />
<line x1="320.7" y1="266.8" x2="320.7" y2="270" stroke="#2e2e2e" stroke-width="1" />
<line x1="347.2" y1="266.8" x2="347.2" y2="270" stroke="#2e2e2e" stroke-width="1" />
<line x1="373.6" y1="266.8" x2="373.6" y2="270" stroke="#2e2e2e" stroke-width="1" />
<line x1="399.9" y1="266.8" x2="399.9" y2="270" stroke="#2e2e2e" stroke-width="1" />
<text font-size="8.2" text-anchor="middle" transform="translate(320.7 278.8) scale(1.02 1.15)">7</text>
<text font-size="8.2" text-anchor="middle" transform="translate(347.2 278.8) scale(1.02 1.15)">10</text>
<text font-size="8.2" text-anchor="middle" transform="translate(373.6 278.8) scale(1.02 1.15)">13</text>
<text font-size="8.2" text-anchor="middle" transform="translate(399.9 278.8) scale(1.02 1.15)">16</text>
<text font-size="8.2" text-anchor="middle" transform="translate(360.6 291.5) scale(1.02 1.15)">Days post-tumor inoculation</text>
<polyline points="320.7,259.5 347.2,260.4 373.6,262.3 399.9,264.1" fill="none" stroke="#be914b" stroke-width="0.8"/>
<circle cx="320.7" cy="259.5" r="1.5" fill="#fff" stroke="#be914b" stroke-width="0.6"/>
<circle cx="347.2" cy="260.4" r="1.5" fill="#fff" stroke="#be914b" stroke-width="0.6"/>
<circle cx="373.6" cy="262.3" r="1.5" fill="#fff" stroke="#be914b" stroke-width="0.6"/>
<circle cx="399.9" cy="264.1" r="1.5" fill="#fff" stroke="#be914b" stroke-width="0.6"/>
<polyline points="320.7,233.3 347.2,215.5 373.6,229.9 399.9,243.8" fill="none" stroke="#555" stroke-width="0.8"/>
<line x1="320.7" y1="225.4" x2="320.7" y2="241.2" stroke="#bbb" stroke-width="0.6" />
<line x1="319" y1="225.4" x2="322.4" y2="225.4" stroke="#bbb" stroke-width="0.6" />
<line x1="319" y1="241.2" x2="322.4" y2="241.2" stroke="#bbb" stroke-width="0.6" />
<circle cx="320.7" cy="233.3" r="1.5" fill="#fff" stroke="#555" stroke-width="0.6"/>
<line x1="347.2" y1="205.2" x2="347.2" y2="225.8" stroke="#bbb" stroke-width="0.6" />
<line x1="345.5" y1="205.2" x2="348.9" y2="205.2" stroke="#bbb" stroke-width="0.6" />
<line x1="345.5" y1="225.8" x2="348.9" y2="225.8" stroke="#bbb" stroke-width="0.6" />
<circle cx="347.2" cy="215.5" r="1.5" fill="#fff" stroke="#555" stroke-width="0.6"/>
<line x1="373.6" y1="222.3" x2="373.6" y2="237.5" stroke="#bbb" stroke-width="0.6" />
<line x1="371.9" y1="222.3" x2="375.3" y2="222.3" stroke="#bbb" stroke-width="0.6" />
<line x1="371.9" y1="237.5" x2="375.3" y2="237.5" stroke="#bbb" stroke-width="0.6" />
<circle cx="373.6" cy="229.9" r="1.5" fill="#fff" stroke="#555" stroke-width="0.6"/>
<line x1="399.9" y1="239" x2="399.9" y2="248.6" stroke="#bbb" stroke-width="0.6" />
<line x1="398.2" y1="239" x2="401.6" y2="239" stroke="#bbb" stroke-width="0.6" />
<line x1="398.2" y1="248.6" x2="401.6" y2="248.6" stroke="#bbb" stroke-width="0.6" />
<circle cx="399.9" cy="243.8" r="1.5" fill="#fff" stroke="#555" stroke-width="0.6"/>
<polygon points="318.7,213.3 319.26,214.43 320.51,214.61 319.6,215.49 319.82,216.74 318.7,216.15 317.58,216.74 317.8,215.49 316.89,214.61 318.14,214.43" fill="#111" stroke="#111" stroke-width="0.66" stroke-linejoin="round"/>
<polygon points="323.3,213.3 323.86,214.43 325.11,214.61 324.2,215.49 324.42,216.74 323.3,216.15 322.18,216.74 322.4,215.49 321.49,214.61 322.74,214.43" fill="#111" stroke="#111" stroke-width="0.66" stroke-linejoin="round"/>
<polygon points="344.9,193.1 345.46,194.23 346.71,194.41 345.8,195.29 346.02,196.54 344.9,195.95 343.78,196.54 344,195.29 343.09,194.41 344.34,194.23" fill="#111" stroke="#111" stroke-width="0.66" stroke-linejoin="round"/>
<polygon points="349.5,193.1 350.06,194.23 351.31,194.41 350.4,195.29 350.62,196.54 349.5,195.95 348.38,196.54 348.6,195.29 347.69,194.41 348.94,194.23" fill="#111" stroke="#111" stroke-width="0.66" stroke-linejoin="round"/>
<polygon points="371.5,210.3 372.06,211.43 373.31,211.61 372.4,212.49 372.62,213.74 371.5,213.15 370.38,213.74 370.6,212.49 369.69,211.61 370.94,211.43" fill="#111" stroke="#111" stroke-width="0.66" stroke-linejoin="round"/>
<polygon points="376.1,210.3 376.66,211.43 377.91,211.61 377,212.49 377.22,213.74 376.1,213.15 374.98,213.74 375.2,212.49 374.29,211.61 375.54,211.43" fill="#111" stroke="#111" stroke-width="0.66" stroke-linejoin="round"/>
<polygon points="397.7,227.6 398.26,228.73 399.51,228.91 398.6,229.79 398.82,231.04 397.7,230.45 396.58,231.04 396.8,229.79 395.89,228.91 397.14,228.73" fill="#111" stroke="#111" stroke-width="0.66" stroke-linejoin="round"/>
<polygon points="402.3,227.6 402.86,228.73 404.11,228.91 403.2,229.79 403.42,231.04 402.3,230.45 401.18,231.04 401.4,229.79 400.49,228.91 401.74,228.73" fill="#111" stroke="#111" stroke-width="0.66" stroke-linejoin="round"/>
<line x1="433.9" y1="219.5" x2="442.6" y2="219.5" stroke="#555" stroke-width="0.7" />
<circle cx="438.25" cy="219.5" r="1.5" fill="#fff" stroke="#555" stroke-width="0.6"/>
<text font-size="8.6" font-style="italic" fill="#222" transform="translate(447 223) scale(1.02 1.15)">Zeb2<tspan font-size="6.3" dy="-3.6">fl/fl</tspan></text>
<line x1="433.9" y1="233.5" x2="442.6" y2="233.5" stroke="#be914b" stroke-width="0.7" />
<circle cx="438.25" cy="233.5" r="1.5" fill="#fff" stroke="#be914b" stroke-width="0.6"/>
<text font-size="8.6" font-style="italic" fill="#222" transform="translate(447 237.2) scale(1.02 1.15)">Zeb2<tspan font-size="6.3" dy="-3.6">-/-</tspan></text>
<text font-size="12" font-weight="bold" fill="#000" transform="translate(481.6 170.7) scale(1 1)">f</text>
<text font-size="8.1" text-anchor="middle" font-weight="bold" fill="#111" transform="translate(566.8 174.2) scale(1.02 1.15)">Splenic endogenous cells (Day 7)</text>
<text font-size="8.2" text-anchor="middle" transform="translate(507.6 236.3) rotate(-90) scale(1.02 1.15)">% of SIY-reactive CD8<tspan font-size="5" dy="-3">+</tspan><tspan dy="3"> cells</tspan></text>
<line x1="540.1" y1="186.3" x2="540.1" y2="265" stroke="#2e2e2e" stroke-width="1" />
<line x1="537.1" y1="186.8" x2="540.1" y2="186.8" stroke="#2e2e2e" stroke-width="1" />
<text font-size="8.2" text-anchor="end" transform="translate(535.9 189.26) scale(1.02 1.15)">150</text>
<line x1="537.1" y1="212.7" x2="540.1" y2="212.7" stroke="#2e2e2e" stroke-width="1" />
<text font-size="8.2" text-anchor="end" transform="translate(535.9 215.16) scale(1.02 1.15)">100</text>
<line x1="537.1" y1="238.6" x2="540.1" y2="238.6" stroke="#2e2e2e" stroke-width="1" />
<text font-size="8.2" text-anchor="end" transform="translate(535.9 241.06) scale(1.02 1.15)">50</text>
<line x1="537.1" y1="264.5" x2="540.1" y2="264.5" stroke="#2e2e2e" stroke-width="1" />
<text font-size="8.2" text-anchor="end" transform="translate(535.9 266.96) scale(1.02 1.15)">0</text>
<rect x="546.25" y="261.81" width="12.6" height="2.69" fill="#5b5b5b" />
<line x1="552.55" y1="261.81" x2="552.55" y2="258.81" stroke="#b0b0b0" stroke-width="0.7" />
<line x1="550.95" y1="258.81" x2="554.15" y2="258.81" stroke="#b0b0b0" stroke-width="0.7" />
<rect x="560" y="248.7" width="12.6" height="15.8" fill="#be914b" />
<line x1="566.3" y1="248.7" x2="566.3" y2="244.7" stroke="#d9bd8c" stroke-width="0.7" />
<line x1="564.7" y1="244.7" x2="567.9" y2="244.7" stroke="#d9bd8c" stroke-width="0.7" />
<rect x="586.45" y="226.94" width="12.6" height="37.56" fill="#5b5b5b" />
<line x1="592.75" y1="226.94" x2="592.75" y2="219.18" stroke="#b0b0b0" stroke-width="0.7" />
<line x1="591.15" y1="219.18" x2="594.35" y2="219.18" stroke="#b0b0b0" stroke-width="0.7" />
<rect x="600.2" y="251.45" width="12.6" height="13.05" fill="#be914b" />
<line x1="606.5" y1="251.45" x2="606.5" y2="247.45" stroke="#d9bd8c" stroke-width="0.7" />
<line x1="604.9" y1="247.45" x2="608.1" y2="247.45" stroke="#d9bd8c" stroke-width="0.7" />
<line x1="540.1" y1="264.5" x2="618.1" y2="264.5" stroke="#2e2e2e" stroke-width="1" />
<line x1="559.4" y1="264.5" x2="559.4" y2="267.7" stroke="#2e2e2e" stroke-width="1" />
<line x1="599.6" y1="264.5" x2="599.6" y2="267.7" stroke="#2e2e2e" stroke-width="1" />
<circle cx="552.55" cy="257.9" r="1.17" fill="#fff" stroke="#b0b0b0" stroke-width="0.5"/>
<circle cx="555.61" cy="258.08" r="1.17" fill="#fff" stroke="#b0b0b0" stroke-width="0.5"/>
<circle cx="549.49" cy="258.54" r="1.17" fill="#fff" stroke="#b0b0b0" stroke-width="0.5"/>
<circle cx="549.1" cy="258.65" r="1.17" fill="#fff" stroke="#b0b0b0" stroke-width="0.5"/>
<circle cx="557.45" cy="259.58" r="1.17" fill="#fff" stroke="#b0b0b0" stroke-width="0.5"/>
<circle cx="554.49" cy="259.82" r="1.17" fill="#fff" stroke="#b0b0b0" stroke-width="0.5"/>
<circle cx="547.85" cy="260.13" r="1.17" fill="#fff" stroke="#b0b0b0" stroke-width="0.5"/>
<circle cx="555.36" cy="260.26" r="1.17" fill="#fff" stroke="#b0b0b0" stroke-width="0.5"/>
<circle cx="554.5" cy="260.55" r="1.17" fill="#fff" stroke="#b0b0b0" stroke-width="0.5"/>
<circle cx="552.85" cy="260.76" r="1.17" fill="#fff" stroke="#b0b0b0" stroke-width="0.5"/>
<circle cx="566.3" cy="245.37" r="1.17" fill="#fff" stroke="#d9bd8c" stroke-width="0.5"/>
<circle cx="569.36" cy="245.69" r="1.17" fill="#fff" stroke="#d9bd8c" stroke-width="0.5"/>
<circle cx="563.24" cy="246.36" r="1.17" fill="#fff" stroke="#d9bd8c" stroke-width="0.5"/>
<circle cx="566.05" cy="246.79" r="1.17" fill="#fff" stroke="#d9bd8c" stroke-width="0.5"/>
<circle cx="568.43" cy="247.17" r="1.17" fill="#fff" stroke="#d9bd8c" stroke-width="0.5"/>
<circle cx="569.15" cy="247.46" r="1.17" fill="#fff" stroke="#d9bd8c" stroke-width="0.5"/>
<circle cx="568.41" cy="247.72" r="1.17" fill="#fff" stroke="#d9bd8c" stroke-width="0.5"/>
<circle cx="566.14" cy="247.95" r="1.17" fill="#fff" stroke="#d9bd8c" stroke-width="0.5"/>
<circle cx="561.71" cy="249.08" r="1.17" fill="#fff" stroke="#d9bd8c" stroke-width="0.5"/>
<circle cx="569.88" cy="249.18" r="1.17" fill="#fff" stroke="#d9bd8c" stroke-width="0.5"/>
<circle cx="569.31" cy="249.49" r="1.17" fill="#fff" stroke="#d9bd8c" stroke-width="0.5"/>
<circle cx="566.3" cy="250.74" r="0.98" fill="#fff"/>
<circle cx="592.75" cy="213.74" r="1.17" fill="#fff" stroke="#b0b0b0" stroke-width="0.5"/>
<circle cx="595.81" cy="214.25" r="1.17" fill="#fff" stroke="#b0b0b0" stroke-width="0.5"/>
<circle cx="592.75" cy="218.55" r="1.17" fill="#fff" stroke="#b0b0b0" stroke-width="0.5"/>
<circle cx="592.75" cy="221.96" r="1.17" fill="#fff" stroke="#b0b0b0" stroke-width="0.5"/>
<circle cx="592.75" cy="227.52" r="1.17" fill="#fff" stroke="#b0b0b0" stroke-width="0.5"/>
<circle cx="595.81" cy="227.61" r="1.17" fill="#fff" stroke="#b0b0b0" stroke-width="0.5"/>
<circle cx="589.69" cy="227.95" r="0.98" fill="#fff"/>
<circle cx="591.62" cy="229.84" r="0.98" fill="#fff"/>
<circle cx="597.34" cy="230.01" r="0.98" fill="#fff"/>
<circle cx="594.28" cy="232.06" r="0.98" fill="#fff"/>
<circle cx="591.22" cy="234.21" r="0.98" fill="#fff"/>
<circle cx="594.28" cy="235.24" r="0.98" fill="#fff"/>
<circle cx="606.5" cy="248.76" r="1.17" fill="#fff" stroke="#d9bd8c" stroke-width="0.5"/>
<circle cx="609.56" cy="249.25" r="1.17" fill="#fff" stroke="#d9bd8c" stroke-width="0.5"/>
<circle cx="603.44" cy="249.82" r="1.17" fill="#fff" stroke="#d9bd8c" stroke-width="0.5"/>
<circle cx="602.96" cy="250.32" r="1.17" fill="#fff" stroke="#d9bd8c" stroke-width="0.5"/>
<circle cx="607.45" cy="250.64" r="1.17" fill="#fff" stroke="#d9bd8c" stroke-width="0.5"/>
<circle cx="609.26" cy="251.47" r="1.17" fill="#fff" stroke="#d9bd8c" stroke-width="0.5"/>
<circle cx="603.01" cy="251.79" r="1.17" fill="#fff" stroke="#d9bd8c" stroke-width="0.5"/>
<circle cx="602.54" cy="252.06" r="1.17" fill="#fff" stroke="#d9bd8c" stroke-width="0.5"/>
<circle cx="606.57" cy="252.42" r="1.17" fill="#fff" stroke="#d9bd8c" stroke-width="0.5"/>
<circle cx="602.44" cy="252.62" r="0.98" fill="#fff"/>
<circle cx="605.49" cy="253.36" r="0.98" fill="#fff"/>
<circle cx="611.09" cy="253.86" r="0.98" fill="#fff"/>
<path d="M552.1,190.6V186.9H566.9V190.6" fill="none" stroke="#666" stroke-width="0.75"/>
<polygon points="557.95,181.75 558.35,182.55 559.23,182.68 558.59,183.31 558.74,184.19 557.95,183.78 557.16,184.19 557.31,183.31 556.67,182.68 557.55,182.55" fill="#111" stroke="#111" stroke-width="0.47" stroke-linejoin="round"/>
<polygon points="561.05,181.75 561.45,182.55 562.33,182.68 561.69,183.31 561.84,184.19 561.05,183.78 560.26,184.19 560.41,183.31 559.77,182.68 560.65,182.55" fill="#111" stroke="#111" stroke-width="0.47" stroke-linejoin="round"/>
<path d="M592.1,190.6V186.9H606.7V190.6" fill="none" stroke="#666" stroke-width="0.75"/>
<polygon points="597.85,181.75 598.25,182.55 599.13,182.68 598.49,183.31 598.64,184.19 597.85,183.78 597.06,184.19 597.21,183.31 596.57,182.68 597.45,182.55" fill="#111" stroke="#111" stroke-width="0.47" stroke-linejoin="round"/>
<polygon points="600.95,181.75 601.35,182.55 602.23,182.68 601.59,183.31 601.74,184.19 600.95,183.78 600.16,184.19 600.31,183.31 599.67,182.68 600.55,182.55" fill="#111" stroke="#111" stroke-width="0.47" stroke-linejoin="round"/>
<text font-size="8.8" text-anchor="end" transform="translate(563.4 273.4) rotate(-45) scale(1.02 1.15)">T<tspan font-size="6.2" dy="2">ems</tspan><tspan dy="-2.0">(Klrg1</tspan><tspan font-size="6.2" dy="-3.3">lo</tspan><tspan dy="3.3">IL-7Rα</tspan><tspan font-size="6.2" dy="-3.3">hi</tspan><tspan dy="3.3">)</tspan></text>
<text font-size="8.8" text-anchor="end" transform="translate(603.6 273.4) rotate(-45) scale(1.02 1.15)">T<tspan font-size="6.2" dy="2">eff</tspan><tspan dy="-2.0">(Klrg1</tspan><tspan font-size="6.2" dy="-3.3">hi</tspan><tspan dy="3.3">IL-7Rα</tspan><tspan font-size="6.2" dy="-3.3">lo</tspan><tspan dy="3.3">)</tspan></text>
<circle cx="629.9" cy="222.4" r="1.7" fill="#5b5b5b"/>
<circle cx="629.9" cy="236.9" r="1.7" fill="#be914b"/>
<text font-size="8.6" font-style="italic" fill="#222" transform="translate(639 225.6) scale(1.02 1.15)">Zeb2<tspan font-size="6.3" dy="-3.6">fl/fl</tspan></text>
<text font-size="8.6" font-style="italic" fill="#222" transform="translate(639 240.2) scale(1.02 1.15)">Zeb2<tspan font-size="6.3" dy="-3.6">-/-</tspan></text>
<text font-size="12" font-weight="bold" fill="#000" transform="translate(88.4 315.2) scale(1 1)">g</text>
<text font-size="8.1" text-anchor="middle" font-weight="bold" fill="#111" transform="translate(160.2 333.2) scale(1.02 1.15)">Splenic TCR<tspan font-size="5" dy="2.9">2C</tspan><tspan font-size="5" dy="-5.9">+</tspan><tspan dy="3">CD8</tspan><tspan font-size="5" dy="-3">+</tspan><tspan dy="3"> donor cells (Day 7)</tspan></text>
<text font-size="8.1" text-anchor="middle" transform="translate(89.2 397.9) rotate(-90) scale(1.02 1.15)">% of SIY-reactive donor cells</text>
<line x1="119.3" y1="349.1" x2="119.3" y2="428.8" stroke="#2e2e2e" stroke-width="1" />
<line x1="116.3" y1="349.6" x2="119.3" y2="349.6" stroke="#2e2e2e" stroke-width="1" />
<text font-size="8.2" text-anchor="end" transform="translate(115.1 352.06) scale(1.02 1.15)">100</text>
<line x1="116.3" y1="365.34" x2="119.3" y2="365.34" stroke="#2e2e2e" stroke-width="1" />
<text font-size="8.2" text-anchor="end" transform="translate(115.1 367.8) scale(1.02 1.15)">80</text>
<line x1="116.3" y1="381.08" x2="119.3" y2="381.08" stroke="#2e2e2e" stroke-width="1" />
<text font-size="8.2" text-anchor="end" transform="translate(115.1 383.54) scale(1.02 1.15)">60</text>
<line x1="116.3" y1="396.82" x2="119.3" y2="396.82" stroke="#2e2e2e" stroke-width="1" />
<text font-size="8.2" text-anchor="end" transform="translate(115.1 399.28) scale(1.02 1.15)">40</text>
<line x1="116.3" y1="412.56" x2="119.3" y2="412.56" stroke="#2e2e2e" stroke-width="1" />
<text font-size="8.2" text-anchor="end" transform="translate(115.1 415.02) scale(1.02 1.15)">20</text>
<line x1="116.3" y1="428.3" x2="119.3" y2="428.3" stroke="#2e2e2e" stroke-width="1" />
<text font-size="8.2" text-anchor="end" transform="translate(115.1 430.76) scale(1.02 1.15)">0</text>
<rect x="125.65" y="421.22" width="12.4" height="7.08" fill="#5b5b5b" />
<line x1="131.85" y1="421.22" x2="131.85" y2="418.22" stroke="#b0b0b0" stroke-width="0.7" />
<line x1="130.25" y1="418.22" x2="133.45" y2="418.22" stroke="#b0b0b0" stroke-width="0.7" />
<rect x="139.2" y="403.9" width="12.4" height="24.4" fill="#be914b" />
<line x1="145.4" y1="403.9" x2="145.4" y2="398.39" stroke="#d9bd8c" stroke-width="0.7" />
<line x1="143.8" y1="398.39" x2="147" y2="398.39" stroke="#d9bd8c" stroke-width="0.7" />
<rect x="165.75" y="376.75" width="12.4" height="51.55" fill="#5b5b5b" />
<line x1="171.95" y1="376.75" x2="171.95" y2="365.34" stroke="#b0b0b0" stroke-width="0.7" />
<line x1="170.35" y1="365.34" x2="173.55" y2="365.34" stroke="#b0b0b0" stroke-width="0.7" />
<rect x="179.3" y="406.26" width="12.4" height="22.04" fill="#be914b" />
<line x1="185.5" y1="406.26" x2="185.5" y2="401.54" stroke="#d9bd8c" stroke-width="0.7" />
<line x1="183.9" y1="401.54" x2="187.1" y2="401.54" stroke="#d9bd8c" stroke-width="0.7" />
<line x1="119.3" y1="428.3" x2="198.2" y2="428.3" stroke="#2e2e2e" stroke-width="1" />
<line x1="138.6" y1="428.3" x2="138.6" y2="431.5" stroke="#2e2e2e" stroke-width="1" />
<line x1="178.7" y1="428.3" x2="178.7" y2="431.5" stroke="#2e2e2e" stroke-width="1" />
<circle cx="131.85" cy="417.77" r="1.17" fill="#fff" stroke="#b0b0b0" stroke-width="0.5"/>
<circle cx="134.91" cy="418.07" r="1.17" fill="#fff" stroke="#b0b0b0" stroke-width="0.5"/>
<circle cx="128.79" cy="418.09" r="1.17" fill="#fff" stroke="#b0b0b0" stroke-width="0.5"/>
<circle cx="134.64" cy="418.83" r="1.17" fill="#fff" stroke="#b0b0b0" stroke-width="0.5"/>
<circle cx="128.75" cy="419.06" r="1.17" fill="#fff" stroke="#b0b0b0" stroke-width="0.5"/>
<circle cx="131.38" cy="419.38" r="1.17" fill="#fff" stroke="#b0b0b0" stroke-width="0.5"/>
<circle cx="133.75" cy="419.46" r="1.17" fill="#fff" stroke="#b0b0b0" stroke-width="0.5"/>
<circle cx="131.49" cy="419.9" r="1.17" fill="#fff" stroke="#b0b0b0" stroke-width="0.5"/>
<circle cx="136.75" cy="419.98" r="1.17" fill="#fff" stroke="#b0b0b0" stroke-width="0.5"/>
<circle cx="130.7" cy="421.18" r="1.17" fill="#fff" stroke="#b0b0b0" stroke-width="0.5"/>
<circle cx="127.26" cy="421.6" r="1.17" fill="#fff" stroke="#b0b0b0" stroke-width="0.5"/>
<circle cx="133.38" cy="422.98" r="1.17" fill="#fff" stroke="#b0b0b0" stroke-width="0.5"/>
<circle cx="145.4" cy="399.48" r="1.17" fill="#fff" stroke="#d9bd8c" stroke-width="0.5"/>
<circle cx="148.46" cy="400.22" r="1.17" fill="#fff" stroke="#d9bd8c" stroke-width="0.5"/>
<circle cx="143.87" cy="401.84" r="1.17" fill="#fff" stroke="#d9bd8c" stroke-width="0.5"/>
<circle cx="140.81" cy="401.94" r="1.17" fill="#fff" stroke="#d9bd8c" stroke-width="0.5"/>
<circle cx="146.93" cy="402.91" r="1.17" fill="#fff" stroke="#d9bd8c" stroke-width="0.5"/>
<circle cx="149.99" cy="403.23" r="1.17" fill="#fff" stroke="#d9bd8c" stroke-width="0.5"/>
<circle cx="143.44" cy="403.83" r="1.17" fill="#fff" stroke="#d9bd8c" stroke-width="0.5"/>
<circle cx="140.81" cy="404.85" r="1.17" fill="#fff" stroke="#d9bd8c" stroke-width="0.5"/>
<circle cx="146.97" cy="405.15" r="0.98" fill="#fff"/>
<circle cx="145.4" cy="408.63" r="0.98" fill="#fff"/>
<circle cx="148.46" cy="408.85" r="0.98" fill="#fff"/>
<circle cx="142.34" cy="409.01" r="0.98" fill="#fff"/>
<circle cx="171.95" cy="354.32" r="1.17" fill="#fff" stroke="#b0b0b0" stroke-width="0.5"/>
<circle cx="171.95" cy="362.26" r="1.17" fill="#fff" stroke="#b0b0b0" stroke-width="0.5"/>
<circle cx="171.95" cy="365.95" r="1.17" fill="#fff" stroke="#b0b0b0" stroke-width="0.5"/>
<circle cx="171.95" cy="376.35" r="1.17" fill="#fff" stroke="#b0b0b0" stroke-width="0.5"/>
<circle cx="175.01" cy="377.61" r="1.17" fill="#fff" stroke="#b0b0b0" stroke-width="0.5"/>
<circle cx="168.89" cy="378.4" r="0.98" fill="#fff"/>
<circle cx="171.95" cy="379.2" r="0.98" fill="#fff"/>
<circle cx="171.08" cy="379.55" r="0.98" fill="#fff"/>
<circle cx="176.54" cy="380.01" r="0.98" fill="#fff"/>
<circle cx="174.42" cy="380.59" r="0.98" fill="#fff"/>
<circle cx="171.95" cy="383.3" r="0.98" fill="#fff"/>
<circle cx="175.01" cy="383.42" r="0.98" fill="#fff"/>
<circle cx="185.5" cy="400.39" r="1.17" fill="#fff" stroke="#d9bd8c" stroke-width="0.5"/>
<circle cx="188.56" cy="401.06" r="1.17" fill="#fff" stroke="#d9bd8c" stroke-width="0.5"/>
<circle cx="182.44" cy="401.87" r="1.17" fill="#fff" stroke="#d9bd8c" stroke-width="0.5"/>
<circle cx="183.66" cy="401.99" r="1.17" fill="#fff" stroke="#d9bd8c" stroke-width="0.5"/>
<circle cx="180.44" cy="402.72" r="1.17" fill="#fff" stroke="#d9bd8c" stroke-width="0.5"/>
<circle cx="187.03" cy="404" r="1.17" fill="#fff" stroke="#d9bd8c" stroke-width="0.5"/>
<circle cx="183.97" cy="405.59" r="1.17" fill="#fff" stroke="#d9bd8c" stroke-width="0.5"/>
<circle cx="190.09" cy="406.15" r="1.17" fill="#fff" stroke="#d9bd8c" stroke-width="0.5"/>
<circle cx="187.03" cy="406.84" r="1.17" fill="#fff" stroke="#d9bd8c" stroke-width="0.5"/>
<circle cx="180.91" cy="407.1" r="1.17" fill="#fff" stroke="#d9bd8c" stroke-width="0.5"/>
<circle cx="188.82" cy="407.77" r="0.98" fill="#fff"/>
<circle cx="184.49" cy="407.87" r="0.98" fill="#fff"/>
<path d="M131.5,351.4V347.7H145.8V351.4" fill="none" stroke="#666" stroke-width="0.75"/>
<polygon points="137.1,342.55 137.5,343.35 138.38,343.48 137.74,344.11 137.89,344.99 137.1,344.57 136.31,344.99 136.46,344.11 135.82,343.48 136.7,343.35" fill="#111" stroke="#111" stroke-width="0.47" stroke-linejoin="round"/>
<polygon points="140.2,342.55 140.6,343.35 141.48,343.48 140.84,344.11 140.99,344.99 140.2,344.57 139.41,344.99 139.56,344.11 138.92,343.48 139.8,343.35" fill="#111" stroke="#111" stroke-width="0.47" stroke-linejoin="round"/>
<path d="M171.5,351.4V347.7H185.9V351.4" fill="none" stroke="#666" stroke-width="0.75"/>
<polygon points="177.15,342.55 177.55,343.35 178.43,343.48 177.79,344.11 177.94,344.99 177.15,344.57 176.36,344.99 176.51,344.11 175.87,343.48 176.75,343.35" fill="#111" stroke="#111" stroke-width="0.47" stroke-linejoin="round"/>
<polygon points="180.25,342.55 180.65,343.35 181.53,343.48 180.89,344.11 181.04,344.99 180.25,344.57 179.46,344.99 179.61,344.11 178.97,343.48 179.85,343.35" fill="#111" stroke="#111" stroke-width="0.47" stroke-linejoin="round"/>
<text font-size="9" text-anchor="end" transform="translate(141.2 438.9) rotate(-45) scale(1.02 1.15)">(Klrg1<tspan font-size="6" dy="-3.2">lo</tspan><tspan dy="3.2">IL-7Rα</tspan><tspan font-size="6" dy="-3.2">hi</tspan><tspan dy="3.2">)</tspan></text>
<text font-size="8.6" text-anchor="end" transform="translate(134.6 432.5) rotate(-45) scale(1.02 1.15)">T<tspan font-size="6" dy="2">ems</tspan></text>
<text font-size="9" text-anchor="end" transform="translate(182 439.2) rotate(-45) scale(1.02 1.15)">(Klrg1<tspan font-size="6" dy="-3.2">hi</tspan><tspan dy="3.2">IL-7Rα</tspan><tspan font-size="6" dy="-3.2">lo</tspan><tspan dy="3.2">)</tspan></text>
<text font-size="8.6" text-anchor="end" transform="translate(175.4 432.8) rotate(-45) scale(1.02 1.15)">T<tspan font-size="6" dy="2">ems</tspan></text>
<circle cx="220.3" cy="377.6" r="1.7" fill="#5b5b5b"/>
<circle cx="220.3" cy="391.7" r="1.7" fill="#be914b"/>
<text font-size="8.6" font-style="italic" fill="#222" transform="translate(229.7 380.6) scale(1.02 1.15)">Zeb2<tspan font-size="6.3" dy="-3.6">fl/fl</tspan></text>
<text font-size="8.6" font-style="italic" fill="#222" transform="translate(229.7 395.2) scale(1.02 1.15)">Zeb2<tspan font-size="6.3" dy="-3.6">-/-</tspan></text>
<text font-size="12" font-weight="bold" fill="#000" transform="translate(276.8 329.2) scale(1 1)">h</text>
<text font-size="8" text-anchor="middle" font-weight="bold" fill="#111" transform="translate(413.2 353.8) scale(1.02 1.15)">Circulating TCR<tspan font-size="5" dy="2.9">2C</tspan><tspan font-size="5" dy="-5.9">+</tspan><tspan dy="3">CD8</tspan><tspan font-size="5" dy="-3">+</tspan><tspan dy="3"> donor cells (Day 7)</tspan></text>
<text font-size="8" text-anchor="middle" transform="translate(281 413.2) rotate(-90) scale(1.02 1.15)">Relative mRNA expression</text>
<text font-size="8" text-anchor="middle" transform="translate(290.8 415.2) rotate(-90) scale(1.02 1.15)">in SIY-reactive T<tspan font-size="5.2" dy="1.8">eff</tspan><tspan dy="-1.8"> donor</tspan></text>
<text font-size="8" text-anchor="middle" transform="translate(300.5 420) rotate(-90) scale(1.02 1.15)">cells (fold-change)</text>
<line x1="325.2" y1="370.2" x2="325.2" y2="448.9" stroke="#2e2e2e" stroke-width="1" />
<line x1="322.2" y1="370.7" x2="325.2" y2="370.7" stroke="#2e2e2e" stroke-width="1" />
<text font-size="8" text-anchor="end" transform="translate(321 373.1) scale(1.02 1.15)">1.5</text>
<line x1="322.2" y1="396.6" x2="325.2" y2="396.6" stroke="#2e2e2e" stroke-width="1" />
<text font-size="8" text-anchor="end" transform="translate(321 399) scale(1.02 1.15)">1.0</text>
<line x1="322.2" y1="422.5" x2="325.2" y2="422.5" stroke="#2e2e2e" stroke-width="1" />
<text font-size="8" text-anchor="end" transform="translate(321 424.9) scale(1.02 1.15)">0.5</text>
<line x1="322.2" y1="448.4" x2="325.2" y2="448.4" stroke="#2e2e2e" stroke-width="1" />
<text font-size="8" text-anchor="end" transform="translate(321 450.8) scale(1.02 1.15)">0.0</text>
<rect x="329.9" y="396.6" width="7.6" height="51.8" fill="#5b5b5b" />
<line x1="333.7" y1="396.6" x2="333.7" y2="390.38" stroke="#b0b0b0" stroke-width="0.7" />
<line x1="332.1" y1="390.38" x2="335.3" y2="390.38" stroke="#b0b0b0" stroke-width="0.7" />
<rect x="338.55" y="435.97" width="7.6" height="12.43" fill="#be914b" />
<line x1="342.35" y1="435.97" x2="342.35" y2="432.3" stroke="#d9bd8c" stroke-width="0.7" />
<line x1="340.75" y1="432.3" x2="343.95" y2="432.3" stroke="#d9bd8c" stroke-width="0.7" />
<path d="M333.6,373.9V370.7H342.4V373.9" fill="none" stroke="#666" stroke-width="0.75"/>
<polygon points="336.45,365.55 336.85,366.35 337.73,366.48 337.09,367.11 337.24,367.99 336.45,367.57 335.66,367.99 335.81,367.11 335.17,366.48 336.05,366.35" fill="#111" stroke="#111" stroke-width="0.47" stroke-linejoin="round"/>
<polygon points="339.55,365.55 339.95,366.35 340.83,366.48 340.19,367.11 340.34,367.99 339.55,367.57 338.76,367.99 338.91,367.11 338.27,366.48 339.15,366.35" fill="#111" stroke="#111" stroke-width="0.47" stroke-linejoin="round"/>
<text font-size="8" text-anchor="end" font-style="italic" transform="translate(340 459.3) rotate(-45) scale(1.02 1.15)">Ccl3</text>
<rect x="354.07" y="396.6" width="7.6" height="51.8" fill="#5b5b5b" />
<line x1="357.87" y1="396.6" x2="357.87" y2="390.38" stroke="#b0b0b0" stroke-width="0.7" />
<line x1="356.27" y1="390.38" x2="359.47" y2="390.38" stroke="#b0b0b0" stroke-width="0.7" />
<rect x="362.72" y="444" width="7.6" height="4.4" fill="#be914b" />
<line x1="366.52" y1="444" x2="366.52" y2="442.56" stroke="#d9bd8c" stroke-width="0.7" />
<line x1="364.92" y1="442.56" x2="368.12" y2="442.56" stroke="#d9bd8c" stroke-width="0.7" />
<path d="M357.77,373.9V370.7H366.57V373.9" fill="none" stroke="#666" stroke-width="0.75"/>
<polygon points="360.62,365.55 361.02,366.35 361.9,366.48 361.26,367.11 361.41,367.99 360.62,367.57 359.83,367.99 359.98,367.11 359.34,366.48 360.22,366.35" fill="#111" stroke="#111" stroke-width="0.47" stroke-linejoin="round"/>
<polygon points="363.72,365.55 364.12,366.35 365,366.48 364.36,367.11 364.51,367.99 363.72,367.57 362.93,367.99 363.08,367.11 362.44,366.48 363.32,366.35" fill="#111" stroke="#111" stroke-width="0.47" stroke-linejoin="round"/>
<text font-size="8" text-anchor="end" font-style="italic" transform="translate(364.17 459.3) rotate(-45) scale(1.02 1.15)">Cx3cr1</text>
<rect x="378.24" y="396.6" width="7.6" height="51.8" fill="#5b5b5b" />
<line x1="382.04" y1="396.6" x2="382.04" y2="390.38" stroke="#b0b0b0" stroke-width="0.7" />
<line x1="380.44" y1="390.38" x2="383.64" y2="390.38" stroke="#b0b0b0" stroke-width="0.7" />
<rect x="386.89" y="437.78" width="7.6" height="10.62" fill="#be914b" />
<line x1="390.69" y1="437.78" x2="390.69" y2="434.64" stroke="#d9bd8c" stroke-width="0.7" />
<line x1="389.09" y1="434.64" x2="392.29" y2="434.64" stroke="#d9bd8c" stroke-width="0.7" />
<path d="M381.94,373.9V370.7H390.74V373.9" fill="none" stroke="#666" stroke-width="0.75"/>
<polygon points="384.79,365.55 385.19,366.35 386.07,366.48 385.43,367.11 385.58,367.99 384.79,367.57 384,367.99 384.15,367.11 383.51,366.48 384.39,366.35" fill="#111" stroke="#111" stroke-width="0.47" stroke-linejoin="round"/>
<polygon points="387.89,365.55 388.29,366.35 389.17,366.48 388.53,367.11 388.68,367.99 387.89,367.57 387.1,367.99 387.25,367.11 386.61,366.48 387.49,366.35" fill="#111" stroke="#111" stroke-width="0.47" stroke-linejoin="round"/>
<text font-size="8" text-anchor="end" font-style="italic" transform="translate(388.34 459.3) rotate(-45) scale(1.02 1.15)">Gzma</text>
<rect x="402.41" y="396.6" width="7.6" height="51.8" fill="#5b5b5b" />
<line x1="406.21" y1="396.6" x2="406.21" y2="390.38" stroke="#b0b0b0" stroke-width="0.7" />
<line x1="404.61" y1="390.38" x2="407.81" y2="390.38" stroke="#b0b0b0" stroke-width="0.7" />
<rect x="411.06" y="443.22" width="7.6" height="5.18" fill="#be914b" />
<line x1="414.86" y1="443.22" x2="414.86" y2="441.69" stroke="#d9bd8c" stroke-width="0.7" />
<line x1="413.26" y1="441.69" x2="416.46" y2="441.69" stroke="#d9bd8c" stroke-width="0.7" />
<path d="M406.11,373.9V370.7H414.91V373.9" fill="none" stroke="#666" stroke-width="0.75"/>
<polygon points="408.96,365.55 409.36,366.35 410.24,366.48 409.6,367.11 409.75,367.99 408.96,367.57 408.17,367.99 408.32,367.11 407.68,366.48 408.56,366.35" fill="#111" stroke="#111" stroke-width="0.47" stroke-linejoin="round"/>
<polygon points="412.06,365.55 412.46,366.35 413.34,366.48 412.7,367.11 412.85,367.99 412.06,367.57 411.27,367.99 411.42,367.11 410.78,366.48 411.66,366.35" fill="#111" stroke="#111" stroke-width="0.47" stroke-linejoin="round"/>
<text font-size="8" text-anchor="end" font-style="italic" transform="translate(412.51 459.3) rotate(-45) scale(1.02 1.15)">Gzmb</text>
<rect x="426.58" y="396.6" width="7.6" height="51.8" fill="#5b5b5b" />
<line x1="430.38" y1="396.6" x2="430.38" y2="390.38" stroke="#b0b0b0" stroke-width="0.7" />
<line x1="428.78" y1="390.38" x2="431.98" y2="390.38" stroke="#b0b0b0" stroke-width="0.7" />
<rect x="435.23" y="434.93" width="7.6" height="13.47" fill="#be914b" />
<line x1="439.03" y1="434.93" x2="439.03" y2="430.95" stroke="#d9bd8c" stroke-width="0.7" />
<line x1="437.43" y1="430.95" x2="440.63" y2="430.95" stroke="#d9bd8c" stroke-width="0.7" />
<path d="M430.28,373.9V370.7H439.08V373.9" fill="none" stroke="#666" stroke-width="0.75"/>
<polygon points="433.13,365.55 433.53,366.35 434.41,366.48 433.77,367.11 433.92,367.99 433.13,367.57 432.34,367.99 432.49,367.11 431.85,366.48 432.73,366.35" fill="#111" stroke="#111" stroke-width="0.47" stroke-linejoin="round"/>
<polygon points="436.23,365.55 436.63,366.35 437.51,366.48 436.87,367.11 437.02,367.99 436.23,367.57 435.44,367.99 435.59,367.11 434.95,366.48 435.83,366.35" fill="#111" stroke="#111" stroke-width="0.47" stroke-linejoin="round"/>
<text font-size="8" text-anchor="end" font-style="italic" transform="translate(436.68 459.3) rotate(-45) scale(1.02 1.15)">Klra3</text>
<rect x="450.75" y="396.6" width="7.6" height="51.8" fill="#5b5b5b" />
<line x1="454.55" y1="396.6" x2="454.55" y2="390.38" stroke="#b0b0b0" stroke-width="0.7" />
<line x1="452.95" y1="390.38" x2="456.15" y2="390.38" stroke="#b0b0b0" stroke-width="0.7" />
<rect x="459.4" y="425.61" width="7.6" height="22.79" fill="#be914b" />
<line x1="463.2" y1="425.61" x2="463.2" y2="418.88" stroke="#d9bd8c" stroke-width="0.7" />
<line x1="461.6" y1="418.88" x2="464.8" y2="418.88" stroke="#d9bd8c" stroke-width="0.7" />
<path d="M454.45,373.9V370.7H463.25V373.9" fill="none" stroke="#666" stroke-width="0.75"/>
<polygon points="457.3,365.55 457.7,366.35 458.58,366.48 457.94,367.11 458.09,367.99 457.3,367.57 456.51,367.99 456.66,367.11 456.02,366.48 456.9,366.35" fill="#111" stroke="#111" stroke-width="0.47" stroke-linejoin="round"/>
<polygon points="460.4,365.55 460.8,366.35 461.68,366.48 461.04,367.11 461.19,367.99 460.4,367.57 459.61,367.99 459.76,367.11 459.12,366.48 460,366.35" fill="#111" stroke="#111" stroke-width="0.47" stroke-linejoin="round"/>
<text font-size="8" text-anchor="end" font-style="italic" transform="translate(460.85 459.3) rotate(-45) scale(1.02 1.15)">Klrg1</text>
<rect x="474.92" y="396.6" width="7.6" height="51.8" fill="#5b5b5b" />
<line x1="478.72" y1="396.6" x2="478.72" y2="390.38" stroke="#b0b0b0" stroke-width="0.7" />
<line x1="477.12" y1="390.38" x2="480.32" y2="390.38" stroke="#b0b0b0" stroke-width="0.7" />
<rect x="483.57" y="435.97" width="7.6" height="12.43" fill="#be914b" />
<line x1="487.37" y1="435.97" x2="487.37" y2="432.3" stroke="#d9bd8c" stroke-width="0.7" />
<line x1="485.77" y1="432.3" x2="488.97" y2="432.3" stroke="#d9bd8c" stroke-width="0.7" />
<path d="M478.62,373.9V370.7H487.42V373.9" fill="none" stroke="#666" stroke-width="0.75"/>
<polygon points="481.47,365.55 481.87,366.35 482.75,366.48 482.11,367.11 482.26,367.99 481.47,367.57 480.68,367.99 480.83,367.11 480.19,366.48 481.07,366.35" fill="#111" stroke="#111" stroke-width="0.47" stroke-linejoin="round"/>
<polygon points="484.57,365.55 484.97,366.35 485.85,366.48 485.21,367.11 485.36,367.99 484.57,367.57 483.78,367.99 483.93,367.11 483.29,366.48 484.17,366.35" fill="#111" stroke="#111" stroke-width="0.47" stroke-linejoin="round"/>
<text font-size="8" text-anchor="end" font-style="italic" transform="translate(485.02 459.3) rotate(-45) scale(1.02 1.15)">Prdm1</text>
<rect x="499.09" y="396.6" width="7.6" height="51.8" fill="#5b5b5b" />
<line x1="502.89" y1="396.6" x2="502.89" y2="390.38" stroke="#b0b0b0" stroke-width="0.7" />
<line x1="501.29" y1="390.38" x2="504.49" y2="390.38" stroke="#b0b0b0" stroke-width="0.7" />
<rect x="507.74" y="444.77" width="7.6" height="3.63" fill="#be914b" />
<line x1="511.54" y1="444.77" x2="511.54" y2="443.33" stroke="#d9bd8c" stroke-width="0.7" />
<line x1="509.94" y1="443.33" x2="513.14" y2="443.33" stroke="#d9bd8c" stroke-width="0.7" />
<path d="M502.79,373.9V370.7H511.59V373.9" fill="none" stroke="#666" stroke-width="0.75"/>
<polygon points="505.64,365.55 506.04,366.35 506.92,366.48 506.28,367.11 506.43,367.99 505.64,367.57 504.85,367.99 505,367.11 504.36,366.48 505.24,366.35" fill="#111" stroke="#111" stroke-width="0.47" stroke-linejoin="round"/>
<polygon points="508.74,365.55 509.14,366.35 510.02,366.48 509.38,367.11 509.53,367.99 508.74,367.57 507.95,367.99 508.1,367.11 507.46,366.48 508.34,366.35" fill="#111" stroke="#111" stroke-width="0.47" stroke-linejoin="round"/>
<text font-size="8" text-anchor="end" font-style="italic" transform="translate(509.19 459.3) rotate(-45) scale(1.02 1.15)">S1pr5</text>
<line x1="325.2" y1="448.4" x2="519.2" y2="448.4" stroke="#2e2e2e" stroke-width="1" />
<line x1="338" y1="448.4" x2="338" y2="451.6" stroke="#2e2e2e" stroke-width="1" />
<line x1="362.17" y1="448.4" x2="362.17" y2="451.6" stroke="#2e2e2e" stroke-width="1" />
<line x1="386.34" y1="448.4" x2="386.34" y2="451.6" stroke="#2e2e2e" stroke-width="1" />
<line x1="410.51" y1="448.4" x2="410.51" y2="451.6" stroke="#2e2e2e" stroke-width="1" />
<line x1="434.68" y1="448.4" x2="434.68" y2="451.6" stroke="#2e2e2e" stroke-width="1" />
<line x1="458.85" y1="448.4" x2="458.85" y2="451.6" stroke="#2e2e2e" stroke-width="1" />
<line x1="483.02" y1="448.4" x2="483.02" y2="451.6" stroke="#2e2e2e" stroke-width="1" />
<line x1="507.19" y1="448.4" x2="507.19" y2="451.6" stroke="#2e2e2e" stroke-width="1" />
<circle cx="333.7" cy="379.99" r="1.08" fill="#fff" stroke="#b0b0b0" stroke-width="0.5"/>
<circle cx="333.7" cy="387.46" r="1.08" fill="#fff" stroke="#b0b0b0" stroke-width="0.5"/>
<circle cx="333.7" cy="392.12" r="1.08" fill="#fff" stroke="#b0b0b0" stroke-width="0.5"/>
<circle cx="336.53" cy="393.79" r="1.08" fill="#fff" stroke="#b0b0b0" stroke-width="0.5"/>
<circle cx="330.87" cy="394.02" r="1.08" fill="#fff" stroke="#b0b0b0" stroke-width="0.5"/>
<circle cx="333.7" cy="394.75" r="1.08" fill="#fff" stroke="#b0b0b0" stroke-width="0.5"/>
<circle cx="333.7" cy="398.53" r="0.9" fill="#fff"/>
<circle cx="333.7" cy="404.1" r="0.9" fill="#fff"/>
<circle cx="336.53" cy="404.87" r="0.9" fill="#fff"/>
<circle cx="330.87" cy="405.26" r="0.9" fill="#fff"/>
<circle cx="331.65" cy="405.52" r="0.9" fill="#fff"/>
<circle cx="333.7" cy="411.94" r="0.9" fill="#fff"/>
<circle cx="342.35" cy="428.61" r="1.08" fill="#fff" stroke="#d9bd8c" stroke-width="0.5"/>
<circle cx="342.35" cy="433.26" r="1.08" fill="#fff" stroke="#d9bd8c" stroke-width="0.5"/>
<circle cx="345.18" cy="433.57" r="1.08" fill="#fff" stroke="#d9bd8c" stroke-width="0.5"/>
<circle cx="339.52" cy="433.59" r="1.08" fill="#fff" stroke="#d9bd8c" stroke-width="0.5"/>
<circle cx="342.35" cy="436.17" r="1.08" fill="#fff" stroke="#d9bd8c" stroke-width="0.5"/>
<circle cx="345.18" cy="436.23" r="1.08" fill="#fff" stroke="#d9bd8c" stroke-width="0.5"/>
<circle cx="339.52" cy="437.23" r="0.9" fill="#fff"/>
<circle cx="344.38" cy="437.31" r="0.9" fill="#fff"/>
<circle cx="341.05" cy="438" r="0.9" fill="#fff"/>
<circle cx="343.1" cy="438.27" r="0.9" fill="#fff"/>
<circle cx="343.05" cy="439.64" r="0.9" fill="#fff"/>
<circle cx="342.35" cy="443.79" r="0.9" fill="#fff"/>
<circle cx="357.87" cy="385.7" r="1.08" fill="#fff" stroke="#b0b0b0" stroke-width="0.5"/>
<circle cx="360.7" cy="387.7" r="1.08" fill="#fff" stroke="#b0b0b0" stroke-width="0.5"/>
<circle cx="357.87" cy="389.02" r="1.08" fill="#fff" stroke="#b0b0b0" stroke-width="0.5"/>
<circle cx="355.04" cy="389.7" r="1.08" fill="#fff" stroke="#b0b0b0" stroke-width="0.5"/>
<circle cx="357.87" cy="391.82" r="1.08" fill="#fff" stroke="#b0b0b0" stroke-width="0.5"/>
<circle cx="360.7" cy="393.54" r="1.08" fill="#fff" stroke="#b0b0b0" stroke-width="0.5"/>
<circle cx="357.87" cy="396.31" r="1.08" fill="#fff" stroke="#b0b0b0" stroke-width="0.5"/>
<circle cx="360.7" cy="397.2" r="1.08" fill="#fff" stroke="#b0b0b0" stroke-width="0.5"/>
<circle cx="357.87" cy="401.48" r="0.9" fill="#fff"/>
<circle cx="357.87" cy="407.39" r="0.9" fill="#fff"/>
<circle cx="360.7" cy="407.9" r="0.9" fill="#fff"/>
<circle cx="355.04" cy="408.27" r="0.9" fill="#fff"/>
<circle cx="366.52" cy="442.12" r="1.08" fill="#fff" stroke="#d9bd8c" stroke-width="0.5"/>
<circle cx="369.35" cy="443.45" r="1.08" fill="#fff" stroke="#d9bd8c" stroke-width="0.5"/>
<circle cx="363.69" cy="443.96" r="1.08" fill="#fff" stroke="#d9bd8c" stroke-width="0.5"/>
<circle cx="365.77" cy="443.96" r="1.08" fill="#fff" stroke="#d9bd8c" stroke-width="0.5"/>
<circle cx="363.71" cy="444.1" r="1.08" fill="#fff" stroke="#d9bd8c" stroke-width="0.5"/>
<circle cx="365.43" cy="444.26" r="1.08" fill="#fff" stroke="#d9bd8c" stroke-width="0.5"/>
<circle cx="365.67" cy="444.74" r="1.08" fill="#fff" stroke="#d9bd8c" stroke-width="0.5"/>
<circle cx="369.48" cy="444.96" r="1.08" fill="#fff" stroke="#d9bd8c" stroke-width="0.5"/>
<circle cx="369.2" cy="445.3" r="0.9" fill="#fff"/>
<circle cx="364.15" cy="445.55" r="0.9" fill="#fff"/>
<circle cx="368.2" cy="445.97" r="0.9" fill="#fff"/>
<circle cx="364.99" cy="445.99" r="0.9" fill="#fff"/>
<circle cx="382.04" cy="387.25" r="1.08" fill="#fff" stroke="#b0b0b0" stroke-width="0.5"/>
<circle cx="384.87" cy="388.17" r="1.08" fill="#fff" stroke="#b0b0b0" stroke-width="0.5"/>
<circle cx="379.21" cy="388.86" r="1.08" fill="#fff" stroke="#b0b0b0" stroke-width="0.5"/>
<circle cx="382.04" cy="390.95" r="1.08" fill="#fff" stroke="#b0b0b0" stroke-width="0.5"/>
<circle cx="384.87" cy="391.36" r="1.08" fill="#fff" stroke="#b0b0b0" stroke-width="0.5"/>
<circle cx="379.21" cy="392.63" r="1.08" fill="#fff" stroke="#b0b0b0" stroke-width="0.5"/>
<circle cx="382.04" cy="396.66" r="1.08" fill="#fff" stroke="#b0b0b0" stroke-width="0.5"/>
<circle cx="384.87" cy="396.73" r="1.08" fill="#fff" stroke="#b0b0b0" stroke-width="0.5"/>
<circle cx="382.04" cy="400.01" r="0.9" fill="#fff"/>
<circle cx="384.87" cy="400.26" r="0.9" fill="#fff"/>
<circle cx="379.21" cy="402.06" r="0.9" fill="#fff"/>
<circle cx="382.04" cy="405.48" r="0.9" fill="#fff"/>
<circle cx="390.69" cy="430.93" r="1.08" fill="#fff" stroke="#d9bd8c" stroke-width="0.5"/>
<circle cx="393.52" cy="431.62" r="1.08" fill="#fff" stroke="#d9bd8c" stroke-width="0.5"/>
<circle cx="387.86" cy="432.1" r="1.08" fill="#fff" stroke="#d9bd8c" stroke-width="0.5"/>
<circle cx="390.69" cy="435.39" r="1.08" fill="#fff" stroke="#d9bd8c" stroke-width="0.5"/>
<circle cx="393.52" cy="436.56" r="1.08" fill="#fff" stroke="#d9bd8c" stroke-width="0.5"/>
<circle cx="390.69" cy="438.38" r="1.08" fill="#fff" stroke="#d9bd8c" stroke-width="0.5"/>
<circle cx="387.86" cy="438.47" r="1.08" fill="#fff" stroke="#d9bd8c" stroke-width="0.5"/>
<circle cx="392.1" cy="440.85" r="0.9" fill="#fff"/>
<circle cx="389.28" cy="441.02" r="0.9" fill="#fff"/>
<circle cx="393.59" cy="442.61" r="0.9" fill="#fff"/>
<circle cx="390.69" cy="443.34" r="0.9" fill="#fff"/>
<circle cx="387.86" cy="443.51" r="0.9" fill="#fff"/>
<circle cx="406.21" cy="387.09" r="1.08" fill="#fff" stroke="#b0b0b0" stroke-width="0.5"/>
<circle cx="409.04" cy="389.16" r="1.08" fill="#fff" stroke="#b0b0b0" stroke-width="0.5"/>
<circle cx="406.21" cy="392.27" r="1.08" fill="#fff" stroke="#b0b0b0" stroke-width="0.5"/>
<circle cx="409.04" cy="393.16" r="1.08" fill="#fff" stroke="#b0b0b0" stroke-width="0.5"/>
<circle cx="406.21" cy="394.97" r="1.08" fill="#fff" stroke="#b0b0b0" stroke-width="0.5"/>
<circle cx="407.62" cy="397.26" r="1.08" fill="#fff" stroke="#b0b0b0" stroke-width="0.5"/>
<circle cx="404.8" cy="399.03" r="0.9" fill="#fff"/>
<circle cx="407.62" cy="400.27" r="0.9" fill="#fff"/>
<circle cx="403.38" cy="401.36" r="0.9" fill="#fff"/>
<circle cx="406.21" cy="403.23" r="0.9" fill="#fff"/>
<circle cx="409.04" cy="404.5" r="0.9" fill="#fff"/>
<circle cx="406.21" cy="407.09" r="0.9" fill="#fff"/>
<circle cx="414.86" cy="441.54" r="1.08" fill="#fff" stroke="#d9bd8c" stroke-width="0.5"/>
<circle cx="417.69" cy="441.69" r="1.08" fill="#fff" stroke="#d9bd8c" stroke-width="0.5"/>
<circle cx="412.03" cy="442.94" r="1.08" fill="#fff" stroke="#d9bd8c" stroke-width="0.5"/>
<circle cx="412.67" cy="442.97" r="1.08" fill="#fff" stroke="#d9bd8c" stroke-width="0.5"/>
<circle cx="415.28" cy="442.99" r="1.08" fill="#fff" stroke="#d9bd8c" stroke-width="0.5"/>
<circle cx="416.6" cy="443.53" r="1.08" fill="#fff" stroke="#d9bd8c" stroke-width="0.5"/>
<circle cx="413.27" cy="443.59" r="1.08" fill="#fff" stroke="#d9bd8c" stroke-width="0.5"/>
<circle cx="413.02" cy="443.92" r="1.08" fill="#fff" stroke="#d9bd8c" stroke-width="0.5"/>
<circle cx="414.29" cy="444.16" r="1.08" fill="#fff" stroke="#d9bd8c" stroke-width="0.5"/>
<circle cx="412.51" cy="444.49" r="0.9" fill="#fff"/>
<circle cx="415.62" cy="444.77" r="0.9" fill="#fff"/>
<circle cx="415.37" cy="445.71" r="0.9" fill="#fff"/>
<circle cx="430.38" cy="385.17" r="1.08" fill="#fff" stroke="#b0b0b0" stroke-width="0.5"/>
<circle cx="431.79" cy="387.37" r="1.08" fill="#fff" stroke="#b0b0b0" stroke-width="0.5"/>
<circle cx="430.38" cy="389.53" r="1.08" fill="#fff" stroke="#b0b0b0" stroke-width="0.5"/>
<circle cx="430.38" cy="393.32" r="1.08" fill="#fff" stroke="#b0b0b0" stroke-width="0.5"/>
<circle cx="433.21" cy="394.8" r="1.08" fill="#fff" stroke="#b0b0b0" stroke-width="0.5"/>
<circle cx="430.38" cy="396.02" r="1.08" fill="#fff" stroke="#b0b0b0" stroke-width="0.5"/>
<circle cx="430.38" cy="398.61" r="0.9" fill="#fff"/>
<circle cx="433.21" cy="399.15" r="0.9" fill="#fff"/>
<circle cx="430.38" cy="401.53" r="0.9" fill="#fff"/>
<circle cx="430.38" cy="404.94" r="0.9" fill="#fff"/>
<circle cx="431.79" cy="407.3" r="0.9" fill="#fff"/>
<circle cx="430.38" cy="414.81" r="0.9" fill="#fff"/>
<circle cx="439.03" cy="428.04" r="1.08" fill="#fff" stroke="#d9bd8c" stroke-width="0.5"/>
<circle cx="439.03" cy="430.7" r="1.08" fill="#fff" stroke="#d9bd8c" stroke-width="0.5"/>
<circle cx="441.86" cy="431.17" r="1.08" fill="#fff" stroke="#d9bd8c" stroke-width="0.5"/>
<circle cx="436.2" cy="431.34" r="1.08" fill="#fff" stroke="#d9bd8c" stroke-width="0.5"/>
<circle cx="439.03" cy="434.7" r="1.08" fill="#fff" stroke="#d9bd8c" stroke-width="0.5"/>
<circle cx="441.86" cy="436.45" r="0.9" fill="#fff"/>
<circle cx="436.2" cy="436.78" r="0.9" fill="#fff"/>
<circle cx="439.03" cy="437.24" r="0.9" fill="#fff"/>
<circle cx="440" cy="437.39" r="0.9" fill="#fff"/>
<circle cx="439.85" cy="438.68" r="0.9" fill="#fff"/>
<circle cx="439.03" cy="441.12" r="0.9" fill="#fff"/>
<circle cx="440.44" cy="443.36" r="0.9" fill="#fff"/>
<circle cx="454.55" cy="388.49" r="1.08" fill="#fff" stroke="#b0b0b0" stroke-width="0.5"/>
<circle cx="457.38" cy="388.79" r="1.08" fill="#fff" stroke="#b0b0b0" stroke-width="0.5"/>
<circle cx="451.72" cy="390.13" r="1.08" fill="#fff" stroke="#b0b0b0" stroke-width="0.5"/>
<circle cx="454.55" cy="395.9" r="1.08" fill="#fff" stroke="#b0b0b0" stroke-width="0.5"/>
<circle cx="454.55" cy="398.94" r="0.9" fill="#fff"/>
<circle cx="457.38" cy="399.84" r="0.9" fill="#fff"/>
<circle cx="451.72" cy="399.91" r="0.9" fill="#fff"/>
<circle cx="454.2" cy="400.18" r="0.9" fill="#fff"/>
<circle cx="452.59" cy="401.57" r="0.9" fill="#fff"/>
<circle cx="455.96" cy="402.82" r="0.9" fill="#fff"/>
<circle cx="454.89" cy="403.46" r="0.9" fill="#fff"/>
<circle cx="454.55" cy="407.41" r="0.9" fill="#fff"/>
<circle cx="463.2" cy="412.73" r="1.08" fill="#fff" stroke="#d9bd8c" stroke-width="0.5"/>
<circle cx="463.2" cy="419.12" r="1.08" fill="#fff" stroke="#d9bd8c" stroke-width="0.5"/>
<circle cx="466.03" cy="419.21" r="1.08" fill="#fff" stroke="#d9bd8c" stroke-width="0.5"/>
<circle cx="460.37" cy="419.41" r="1.08" fill="#fff" stroke="#d9bd8c" stroke-width="0.5"/>
<circle cx="463.2" cy="422.78" r="1.08" fill="#fff" stroke="#d9bd8c" stroke-width="0.5"/>
<circle cx="466.03" cy="423.08" r="1.08" fill="#fff" stroke="#d9bd8c" stroke-width="0.5"/>
<circle cx="460.37" cy="424.69" r="1.08" fill="#fff" stroke="#d9bd8c" stroke-width="0.5"/>
<circle cx="463.2" cy="425.78" r="1.08" fill="#fff" stroke="#d9bd8c" stroke-width="0.5"/>
<circle cx="463.2" cy="429.68" r="0.9" fill="#fff"/>
<circle cx="463.2" cy="433.04" r="0.9" fill="#fff"/>
<circle cx="464.61" cy="435.27" r="0.9" fill="#fff"/>
<circle cx="463.2" cy="438.15" r="0.9" fill="#fff"/>
<circle cx="478.72" cy="386.8" r="1.08" fill="#fff" stroke="#b0b0b0" stroke-width="0.5"/>
<circle cx="481.55" cy="388.83" r="1.08" fill="#fff" stroke="#b0b0b0" stroke-width="0.5"/>
<circle cx="478.72" cy="391.33" r="1.08" fill="#fff" stroke="#b0b0b0" stroke-width="0.5"/>
<circle cx="478.72" cy="394.72" r="1.08" fill="#fff" stroke="#b0b0b0" stroke-width="0.5"/>
<circle cx="481.55" cy="396.23" r="1.08" fill="#fff" stroke="#b0b0b0" stroke-width="0.5"/>
<circle cx="475.89" cy="396.66" r="1.08" fill="#fff" stroke="#b0b0b0" stroke-width="0.5"/>
<circle cx="478.72" cy="397.33" r="1.08" fill="#fff" stroke="#b0b0b0" stroke-width="0.5"/>
<circle cx="476.24" cy="397.66" r="0.9" fill="#fff"/>
<circle cx="478.72" cy="404.05" r="0.9" fill="#fff"/>
<circle cx="481.55" cy="404.77" r="0.9" fill="#fff"/>
<circle cx="478.72" cy="406.92" r="0.9" fill="#fff"/>
<circle cx="478.72" cy="413.05" r="0.9" fill="#fff"/>
<circle cx="487.37" cy="429.96" r="1.08" fill="#fff" stroke="#d9bd8c" stroke-width="0.5"/>
<circle cx="490.2" cy="429.99" r="1.08" fill="#fff" stroke="#d9bd8c" stroke-width="0.5"/>
<circle cx="484.54" cy="430.8" r="1.08" fill="#fff" stroke="#d9bd8c" stroke-width="0.5"/>
<circle cx="487.37" cy="433.12" r="1.08" fill="#fff" stroke="#d9bd8c" stroke-width="0.5"/>
<circle cx="490.2" cy="433.49" r="1.08" fill="#fff" stroke="#d9bd8c" stroke-width="0.5"/>
<circle cx="485.96" cy="435.44" r="1.08" fill="#fff" stroke="#d9bd8c" stroke-width="0.5"/>
<circle cx="488.78" cy="435.9" r="1.08" fill="#fff" stroke="#d9bd8c" stroke-width="0.5"/>
<circle cx="485.23" cy="437.51" r="0.9" fill="#fff"/>
<circle cx="488.78" cy="438.58" r="0.9" fill="#fff"/>
<circle cx="489.9" cy="439.57" r="0.9" fill="#fff"/>
<circle cx="484.55" cy="439.66" r="0.9" fill="#fff"/>
<circle cx="487.37" cy="442" r="0.9" fill="#fff"/>
<circle cx="502.89" cy="388.81" r="1.08" fill="#fff" stroke="#b0b0b0" stroke-width="0.5"/>
<circle cx="505.72" cy="389.59" r="1.08" fill="#fff" stroke="#b0b0b0" stroke-width="0.5"/>
<circle cx="500.06" cy="390.01" r="1.08" fill="#fff" stroke="#b0b0b0" stroke-width="0.5"/>
<circle cx="502.89" cy="393.62" r="1.08" fill="#fff" stroke="#b0b0b0" stroke-width="0.5"/>
<circle cx="504.3" cy="395.78" r="1.08" fill="#fff" stroke="#b0b0b0" stroke-width="0.5"/>
<circle cx="501.48" cy="397.53" r="1.08" fill="#fff" stroke="#b0b0b0" stroke-width="0.5"/>
<circle cx="502.89" cy="401.04" r="0.9" fill="#fff"/>
<circle cx="505.72" cy="402.33" r="0.9" fill="#fff"/>
<circle cx="501.48" cy="403.26" r="0.9" fill="#fff"/>
<circle cx="502.89" cy="406.25" r="0.9" fill="#fff"/>
<circle cx="505.72" cy="408.31" r="0.9" fill="#fff"/>
<circle cx="502.89" cy="409.77" r="0.9" fill="#fff"/>
<circle cx="511.54" cy="441.71" r="1.08" fill="#fff" stroke="#d9bd8c" stroke-width="0.5"/>
<circle cx="514.37" cy="443.42" r="1.08" fill="#fff" stroke="#d9bd8c" stroke-width="0.5"/>
<circle cx="508.71" cy="443.48" r="1.08" fill="#fff" stroke="#d9bd8c" stroke-width="0.5"/>
<circle cx="511.54" cy="444.68" r="1.08" fill="#fff" stroke="#d9bd8c" stroke-width="0.5"/>
<circle cx="512.37" cy="444.8" r="1.08" fill="#fff" stroke="#d9bd8c" stroke-width="0.5"/>
<circle cx="510.18" cy="445.02" r="1.08" fill="#fff" stroke="#d9bd8c" stroke-width="0.5"/>
<circle cx="511.11" cy="445.94" r="0.9" fill="#fff"/>
<circle cx="513.79" cy="446.14" r="0.9" fill="#fff"/>
<circle cx="512.15" cy="446.25" r="0.9" fill="#fff"/>
<circle cx="510.16" cy="446.66" r="0.9" fill="#fff"/>
<circle cx="512.44" cy="447.02" r="0.9" fill="#fff"/>
<circle cx="510.15" cy="447.06" r="0.9" fill="#fff"/>
<circle cx="528.5" cy="394.7" r="1.6" fill="#5b5b5b"/>
<circle cx="528.5" cy="408.5" r="1.6" fill="#be914b"/>
<text font-size="8.4" font-style="italic" fill="#222" transform="translate(537.8 397.6) scale(1.02 1.15)">Zeb2<tspan font-size="6.2" dy="-3.6">fl/fl</tspan></text>
<text font-size="8.4" font-style="italic" fill="#222" transform="translate(537.8 411.6) scale(1.02 1.15)">Zeb2<tspan font-size="6.2" dy="-3.6">-/-</tspan></text>
</svg>
</body></html>
